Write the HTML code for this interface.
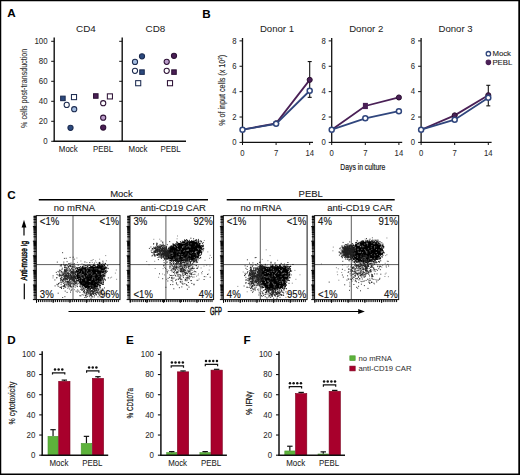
<!DOCTYPE html>
<html><head><meta charset="utf-8"><style>
html,body{margin:0;padding:0;background:#fff;width:520px;height:475px;overflow:hidden}
svg{display:block}
text{font-family:"Liberation Sans",sans-serif}
</style></head><body>
<svg width="520" height="475" viewBox="0 0 520 475">
<path d="M0 0H520V475H0ZM1.25 1.35V473.4H518.3V1.35Z" fill="#000" fill-rule="evenodd"/>
<text transform="translate(7.3 17.3) scale(1.07 1)" font-size="10.9" font-weight="bold" fill="#000" stroke="#000" stroke-width="0.05">A</text>
<text transform="translate(202.3 17.5) scale(1.07 1)" font-size="10.9" font-weight="bold" fill="#000" stroke="#000" stroke-width="0.05">B</text>
<text transform="translate(7.2 198.8) scale(1.07 1)" font-size="10.9" font-weight="bold" fill="#000" stroke="#000" stroke-width="0.05">C</text>
<text transform="translate(7.3 343.7) scale(1.07 1)" font-size="10.9" font-weight="bold" fill="#000" stroke="#000" stroke-width="0.05">D</text>
<text transform="translate(126.1 343.6) scale(1.07 1)" font-size="10.9" font-weight="bold" fill="#000" stroke="#000" stroke-width="0.05">E</text>
<text transform="translate(243.5 343.7) scale(1.07 1)" font-size="10.9" font-weight="bold" fill="#000" stroke="#000" stroke-width="0.05">F</text>
<line x1="54.2" y1="37.6" x2="54.2" y2="142" stroke="#111" stroke-width="1.4"/>
<line x1="53.5" y1="141.3" x2="186" y2="141.3" stroke="#111" stroke-width="1.4"/>
<line x1="122.2" y1="37.6" x2="122.2" y2="141.3" stroke="#111" stroke-width="1.4"/>
<line x1="51.2" y1="141.3" x2="54.2" y2="141.3" stroke="#111" stroke-width="1"/>
<line x1="119.2" y1="141.3" x2="122.2" y2="141.3" stroke="#111" stroke-width="1"/>
<text transform="translate(47.6 144.1) scale(1 1.08)" font-size="7.9" text-anchor="end" fill="#2a2a2a" stroke="#2a2a2a" stroke-width="0.05">0</text>
<line x1="51.2" y1="121.3" x2="54.2" y2="121.3" stroke="#111" stroke-width="1"/>
<line x1="119.2" y1="121.3" x2="122.2" y2="121.3" stroke="#111" stroke-width="1"/>
<text transform="translate(47.6 124.1) scale(1 1.08)" font-size="7.9" text-anchor="end" fill="#2a2a2a" stroke="#2a2a2a" stroke-width="0.05">20</text>
<line x1="51.2" y1="101.3" x2="54.2" y2="101.3" stroke="#111" stroke-width="1"/>
<line x1="119.2" y1="101.3" x2="122.2" y2="101.3" stroke="#111" stroke-width="1"/>
<text transform="translate(47.6 104.1) scale(1 1.08)" font-size="7.9" text-anchor="end" fill="#2a2a2a" stroke="#2a2a2a" stroke-width="0.05">40</text>
<line x1="51.2" y1="81.3" x2="54.2" y2="81.3" stroke="#111" stroke-width="1"/>
<line x1="119.2" y1="81.3" x2="122.2" y2="81.3" stroke="#111" stroke-width="1"/>
<text transform="translate(47.6 84.1) scale(1 1.08)" font-size="7.9" text-anchor="end" fill="#2a2a2a" stroke="#2a2a2a" stroke-width="0.05">60</text>
<line x1="51.2" y1="61.3" x2="54.2" y2="61.3" stroke="#111" stroke-width="1"/>
<line x1="119.2" y1="61.3" x2="122.2" y2="61.3" stroke="#111" stroke-width="1"/>
<text transform="translate(47.6 64.1) scale(1 1.08)" font-size="7.9" text-anchor="end" fill="#2a2a2a" stroke="#2a2a2a" stroke-width="0.05">80</text>
<line x1="51.2" y1="41.3" x2="54.2" y2="41.3" stroke="#111" stroke-width="1"/>
<line x1="119.2" y1="41.3" x2="122.2" y2="41.3" stroke="#111" stroke-width="1"/>
<text transform="translate(47.6 44.1) scale(1 1.08)" font-size="7.9" text-anchor="end" fill="#2a2a2a" stroke="#2a2a2a" stroke-width="0.05">100</text>
<text x="86" y="32.3" font-size="9.9" text-anchor="middle" fill="#222" stroke="#222" stroke-width="0.02">CD4</text>
<text x="155.5" y="32.3" font-size="9.9" text-anchor="middle" fill="#222" stroke="#222" stroke-width="0.02">CD8</text>
<text transform="translate(68.3 151.6) scale(1 1.08)" font-size="7.9" text-anchor="middle" fill="#222" stroke="#222" stroke-width="0.05">Mock</text>
<text transform="translate(103 151.6) scale(1 1.08)" font-size="7.9" text-anchor="middle" fill="#222" stroke="#222" stroke-width="0.05">PEBL</text>
<text transform="translate(138 151.6) scale(1 1.08)" font-size="7.9" text-anchor="middle" fill="#222" stroke="#222" stroke-width="0.05">Mock</text>
<text transform="translate(170.5 151.6) scale(1 1.08)" font-size="7.9" text-anchor="middle" fill="#222" stroke="#222" stroke-width="0.05">PEBL</text>
<text transform="translate(27.3 88.4) rotate(-90)" x="0" y="0" font-size="8.3" text-anchor="middle" textLength="79" lengthAdjust="spacingAndGlyphs" fill="#333" stroke="#333" stroke-width="0.1">% cells post-transduction</text>
<rect x="60.65" y="96.15" width="4.5" height="4.5" fill="#2c4a7e" stroke="#1c2b50" stroke-width="1.05"/>
<rect x="71.45" y="94.55" width="5.1" height="5.1" fill="#fff" stroke="#1c2b50" stroke-width="1.05"/>
<circle cx="66.7" cy="104.9" r="2.6" fill="#fff" stroke="#1c2b50" stroke-width="1.05"/>
<circle cx="74.2" cy="109.2" r="2.6" fill="#a3bde0" stroke="#1c2b50" stroke-width="1.05"/>
<circle cx="70.5" cy="127.8" r="2.6" fill="#2c4a7e" stroke="#1c2b50" stroke-width="1.05"/>
<rect x="93.55" y="93.75" width="4.5" height="4.5" fill="#4a1f55" stroke="#2e1236" stroke-width="1.05"/>
<rect x="107.35" y="93.85" width="5.1" height="5.1" fill="#fff" stroke="#2e1236" stroke-width="1.05"/>
<circle cx="103.2" cy="103.2" r="2.6" fill="#fff" stroke="#2e1236" stroke-width="1.05"/>
<circle cx="103.2" cy="117.7" r="2.6" fill="#b99bc9" stroke="#2e1236" stroke-width="1.05"/>
<circle cx="103.2" cy="127.5" r="2.6" fill="#4a1f55" stroke="#2e1236" stroke-width="1.05"/>
<circle cx="142" cy="56.3" r="2.6" fill="#2c4a7e" stroke="#1c2b50" stroke-width="1.05"/>
<circle cx="135" cy="61.9" r="2.6" fill="#a3bde0" stroke="#1c2b50" stroke-width="1.05"/>
<circle cx="135" cy="70.8" r="2.6" fill="#fff" stroke="#1c2b50" stroke-width="1.05"/>
<rect x="139.75" y="69.85" width="4.5" height="4.5" fill="#2c4a7e" stroke="#1c2b50" stroke-width="1.05"/>
<rect x="135.65" y="80.65" width="5.1" height="5.1" fill="#fff" stroke="#1c2b50" stroke-width="1.05"/>
<circle cx="174" cy="55.8" r="2.6" fill="#4a1f55" stroke="#2e1236" stroke-width="1.05"/>
<circle cx="166.7" cy="61.8" r="2.6" fill="#b99bc9" stroke="#2e1236" stroke-width="1.05"/>
<circle cx="166.7" cy="70.8" r="2.6" fill="#fff" stroke="#2e1236" stroke-width="1.05"/>
<rect x="171.75" y="69.85" width="4.5" height="4.5" fill="#4a1f55" stroke="#2e1236" stroke-width="1.05"/>
<rect x="167.45" y="80.65" width="5.1" height="5.1" fill="#fff" stroke="#2e1236" stroke-width="1.05"/>
<line x1="242.5" y1="38" x2="242.5" y2="143" stroke="#111" stroke-width="1.3"/>
<line x1="241.9" y1="142.4" x2="313" y2="142.4" stroke="#111" stroke-width="1.4"/>
<line x1="239.5" y1="142.4" x2="242.5" y2="142.4" stroke="#111" stroke-width="1"/>
<text transform="translate(236.5 145.2) scale(1 1.08)" font-size="7.7" text-anchor="end" fill="#2a2a2a" stroke="#2a2a2a" stroke-width="0.05">0</text>
<line x1="239.5" y1="117.02" x2="242.5" y2="117.02" stroke="#111" stroke-width="1"/>
<text transform="translate(236.5 119.82) scale(1 1.08)" font-size="7.7" text-anchor="end" fill="#2a2a2a" stroke="#2a2a2a" stroke-width="0.05">2</text>
<line x1="239.5" y1="91.64" x2="242.5" y2="91.64" stroke="#111" stroke-width="1"/>
<text transform="translate(236.5 94.44) scale(1 1.08)" font-size="7.7" text-anchor="end" fill="#2a2a2a" stroke="#2a2a2a" stroke-width="0.05">4</text>
<line x1="239.5" y1="66.26" x2="242.5" y2="66.26" stroke="#111" stroke-width="1"/>
<text transform="translate(236.5 69.06) scale(1 1.08)" font-size="7.7" text-anchor="end" fill="#2a2a2a" stroke="#2a2a2a" stroke-width="0.05">6</text>
<line x1="239.5" y1="40.88" x2="242.5" y2="40.88" stroke="#111" stroke-width="1"/>
<text transform="translate(236.5 43.68) scale(1 1.08)" font-size="7.7" text-anchor="end" fill="#2a2a2a" stroke="#2a2a2a" stroke-width="0.05">8</text>
<line x1="242.5" y1="142.4" x2="242.5" y2="145" stroke="#111" stroke-width="1"/>
<text transform="translate(242.5 156) scale(1 1.08)" font-size="7.7" text-anchor="middle" fill="#2a2a2a" stroke="#2a2a2a" stroke-width="0.05">0</text>
<line x1="276.1" y1="142.4" x2="276.1" y2="145" stroke="#111" stroke-width="1"/>
<text transform="translate(276.1 156) scale(1 1.08)" font-size="7.7" text-anchor="middle" fill="#2a2a2a" stroke="#2a2a2a" stroke-width="0.05">7</text>
<line x1="309.7" y1="142.4" x2="309.7" y2="145" stroke="#111" stroke-width="1"/>
<text transform="translate(309.7 156) scale(1 1.08)" font-size="7.7" text-anchor="middle" fill="#2a2a2a" stroke="#2a2a2a" stroke-width="0.05">14</text>
<text x="277" y="32.4" font-size="9.6" text-anchor="middle" fill="#222" stroke="#222" stroke-width="0.02">Donor 1</text>
<line x1="309.7" y1="97.35" x2="309.7" y2="61.56" stroke="#111" stroke-width="1.1"/>
<line x1="307.7" y1="97.35" x2="311.7" y2="97.35" stroke="#111" stroke-width="1.1"/>
<line x1="307.7" y1="61.56" x2="311.7" y2="61.56" stroke="#111" stroke-width="1.1"/>
<polyline points="242.5,129.71 276.1,123.37 309.7,79.84" fill="none" stroke="#4a2056" stroke-width="1.8"/>
<polyline points="242.5,129.71 276.1,123.87 309.7,90.75" fill="none" stroke="#30467d" stroke-width="1.8"/>
<circle cx="276.1" cy="123.37" r="2.55" fill="#4a2056" stroke="#2a0f30" stroke-width="1"/>
<circle cx="309.7" cy="79.84" r="2.55" fill="#4a2056" stroke="#2a0f30" stroke-width="1"/>
<circle cx="242.5" cy="129.71" r="2.5" fill="#fff" stroke="#30467d" stroke-width="1.5"/>
<circle cx="276.1" cy="123.87" r="2.5" fill="#fff" stroke="#30467d" stroke-width="1.5"/>
<circle cx="309.7" cy="90.75" r="2.5" fill="#fff" stroke="#30467d" stroke-width="1.5"/>
<line x1="331.7" y1="38" x2="331.7" y2="143" stroke="#111" stroke-width="1.3"/>
<line x1="331.1" y1="142.4" x2="402.2" y2="142.4" stroke="#111" stroke-width="1.4"/>
<line x1="328.7" y1="142.4" x2="331.7" y2="142.4" stroke="#111" stroke-width="1"/>
<text transform="translate(325.7 145.2) scale(1 1.08)" font-size="7.7" text-anchor="end" fill="#2a2a2a" stroke="#2a2a2a" stroke-width="0.05">0</text>
<line x1="328.7" y1="117.02" x2="331.7" y2="117.02" stroke="#111" stroke-width="1"/>
<text transform="translate(325.7 119.82) scale(1 1.08)" font-size="7.7" text-anchor="end" fill="#2a2a2a" stroke="#2a2a2a" stroke-width="0.05">2</text>
<line x1="328.7" y1="91.64" x2="331.7" y2="91.64" stroke="#111" stroke-width="1"/>
<text transform="translate(325.7 94.44) scale(1 1.08)" font-size="7.7" text-anchor="end" fill="#2a2a2a" stroke="#2a2a2a" stroke-width="0.05">4</text>
<line x1="328.7" y1="66.26" x2="331.7" y2="66.26" stroke="#111" stroke-width="1"/>
<text transform="translate(325.7 69.06) scale(1 1.08)" font-size="7.7" text-anchor="end" fill="#2a2a2a" stroke="#2a2a2a" stroke-width="0.05">6</text>
<line x1="328.7" y1="40.88" x2="331.7" y2="40.88" stroke="#111" stroke-width="1"/>
<text transform="translate(325.7 43.68) scale(1 1.08)" font-size="7.7" text-anchor="end" fill="#2a2a2a" stroke="#2a2a2a" stroke-width="0.05">8</text>
<line x1="331.7" y1="142.4" x2="331.7" y2="145" stroke="#111" stroke-width="1"/>
<text transform="translate(331.7 156) scale(1 1.08)" font-size="7.7" text-anchor="middle" fill="#2a2a2a" stroke="#2a2a2a" stroke-width="0.05">0</text>
<line x1="365.3" y1="142.4" x2="365.3" y2="145" stroke="#111" stroke-width="1"/>
<text transform="translate(365.3 156) scale(1 1.08)" font-size="7.7" text-anchor="middle" fill="#2a2a2a" stroke="#2a2a2a" stroke-width="0.05">7</text>
<line x1="398.9" y1="142.4" x2="398.9" y2="145" stroke="#111" stroke-width="1"/>
<text transform="translate(398.9 156) scale(1 1.08)" font-size="7.7" text-anchor="middle" fill="#2a2a2a" stroke="#2a2a2a" stroke-width="0.05">14</text>
<text x="366.2" y="32.4" font-size="9.6" text-anchor="middle" fill="#222" stroke="#222" stroke-width="0.02">Donor 2</text>
<polyline points="331.7,129.71 365.3,105.98 398.9,97.48" fill="none" stroke="#4a2056" stroke-width="1.8"/>
<polyline points="331.7,129.71 365.3,118.29 398.9,111.18" fill="none" stroke="#30467d" stroke-width="1.8"/>
<rect x="362.9" y="102.88" width="5" height="6.2" fill="#4a2056"/>
<circle cx="398.9" cy="97.48" r="2.55" fill="#4a2056" stroke="#2a0f30" stroke-width="1"/>
<circle cx="331.7" cy="129.71" r="2.5" fill="#fff" stroke="#30467d" stroke-width="1.5"/>
<circle cx="365.3" cy="118.29" r="2.5" fill="#fff" stroke="#30467d" stroke-width="1.5"/>
<circle cx="398.9" cy="111.18" r="2.5" fill="#fff" stroke="#30467d" stroke-width="1.5"/>
<line x1="421.1" y1="38" x2="421.1" y2="143" stroke="#111" stroke-width="1.3"/>
<line x1="420.5" y1="142.4" x2="491.6" y2="142.4" stroke="#111" stroke-width="1.4"/>
<line x1="418.1" y1="142.4" x2="421.1" y2="142.4" stroke="#111" stroke-width="1"/>
<text transform="translate(415.1 145.2) scale(1 1.08)" font-size="7.7" text-anchor="end" fill="#2a2a2a" stroke="#2a2a2a" stroke-width="0.05">0</text>
<line x1="418.1" y1="117.02" x2="421.1" y2="117.02" stroke="#111" stroke-width="1"/>
<text transform="translate(415.1 119.82) scale(1 1.08)" font-size="7.7" text-anchor="end" fill="#2a2a2a" stroke="#2a2a2a" stroke-width="0.05">2</text>
<line x1="418.1" y1="91.64" x2="421.1" y2="91.64" stroke="#111" stroke-width="1"/>
<text transform="translate(415.1 94.44) scale(1 1.08)" font-size="7.7" text-anchor="end" fill="#2a2a2a" stroke="#2a2a2a" stroke-width="0.05">4</text>
<line x1="418.1" y1="66.26" x2="421.1" y2="66.26" stroke="#111" stroke-width="1"/>
<text transform="translate(415.1 69.06) scale(1 1.08)" font-size="7.7" text-anchor="end" fill="#2a2a2a" stroke="#2a2a2a" stroke-width="0.05">6</text>
<line x1="418.1" y1="40.88" x2="421.1" y2="40.88" stroke="#111" stroke-width="1"/>
<text transform="translate(415.1 43.68) scale(1 1.08)" font-size="7.7" text-anchor="end" fill="#2a2a2a" stroke="#2a2a2a" stroke-width="0.05">8</text>
<line x1="421.1" y1="142.4" x2="421.1" y2="145" stroke="#111" stroke-width="1"/>
<text transform="translate(421.1 156) scale(1 1.08)" font-size="7.7" text-anchor="middle" fill="#2a2a2a" stroke="#2a2a2a" stroke-width="0.05">0</text>
<line x1="454.7" y1="142.4" x2="454.7" y2="145" stroke="#111" stroke-width="1"/>
<text transform="translate(454.7 156) scale(1 1.08)" font-size="7.7" text-anchor="middle" fill="#2a2a2a" stroke="#2a2a2a" stroke-width="0.05">7</text>
<line x1="488.3" y1="142.4" x2="488.3" y2="145" stroke="#111" stroke-width="1"/>
<text transform="translate(488.3 156) scale(1 1.08)" font-size="7.7" text-anchor="middle" fill="#2a2a2a" stroke="#2a2a2a" stroke-width="0.05">14</text>
<text x="455.6" y="32.4" font-size="9.6" text-anchor="middle" fill="#222" stroke="#222" stroke-width="0.02">Donor 3</text>
<line x1="488.3" y1="105.85" x2="488.3" y2="85.3" stroke="#111" stroke-width="1.1"/>
<line x1="486.3" y1="105.85" x2="490.3" y2="105.85" stroke="#111" stroke-width="1.1"/>
<line x1="486.3" y1="85.3" x2="490.3" y2="85.3" stroke="#111" stroke-width="1.1"/>
<polyline points="421.1,129.71 454.7,115.37 488.3,95.19" fill="none" stroke="#4a2056" stroke-width="1.8"/>
<polyline points="421.1,129.71 454.7,119.68 488.3,97.73" fill="none" stroke="#30467d" stroke-width="1.8"/>
<circle cx="454.7" cy="115.37" r="2.55" fill="#4a2056" stroke="#2a0f30" stroke-width="1"/>
<circle cx="488.3" cy="95.19" r="2.55" fill="#4a2056" stroke="#2a0f30" stroke-width="1"/>
<circle cx="421.1" cy="129.71" r="2.5" fill="#fff" stroke="#30467d" stroke-width="1.5"/>
<circle cx="454.7" cy="119.68" r="2.5" fill="#fff" stroke="#30467d" stroke-width="1.5"/>
<circle cx="488.3" cy="97.73" r="2.5" fill="#fff" stroke="#30467d" stroke-width="1.5"/>
<text transform="translate(225.2 90.3) rotate(-90)" x="0" y="0" font-size="8.8" text-anchor="middle" textLength="71" lengthAdjust="spacingAndGlyphs" fill="#2a2a2a" stroke="#2a2a2a" stroke-width="0.15">% of input cells (x 10<tspan font-size="5.6" dy="-3">2</tspan><tspan dy="3">)</tspan></text>
<text x="362.8" y="169.5" font-size="9.3" text-anchor="middle" textLength="45" lengthAdjust="spacingAndGlyphs" fill="#1a1a1a" stroke="#1a1a1a" stroke-width="0.22">Days in culture</text>
<circle cx="488.4" cy="53.7" r="2.2" fill="#fff" stroke="#30467d" stroke-width="1.3"/>
<text x="492.4" y="56.4" font-size="7.8" fill="#222" stroke="#222" stroke-width="0.1">Mock</text>
<circle cx="488.4" cy="62.3" r="2.3" fill="#4a2056" stroke="#4a2056" stroke-width="1.05"/>
<text x="492.4" y="65" font-size="7.8" fill="#222" stroke="#222" stroke-width="0.1">PEBL</text>
<text x="121.5" y="196.8" font-size="9.5" text-anchor="middle" fill="#1a1a1a" stroke="#1a1a1a" stroke-width="0.1">Mock</text>
<text x="310.7" y="196.8" font-size="9.5" text-anchor="middle" fill="#1a1a1a" stroke="#1a1a1a" stroke-width="0.1">PEBL</text>
<line x1="38.8" y1="199.75" x2="208" y2="199.75" stroke="#000" stroke-width="1.3"/>
<line x1="226.7" y1="199.75" x2="394.7" y2="199.75" stroke="#000" stroke-width="1.3"/>
<text x="74.4" y="211.3" font-size="9.5" text-anchor="middle" fill="#1a1a1a" stroke="#1a1a1a" stroke-width="0.1">no mRNA</text>
<rect x="33.7" y="215.6" width="2.6" height="84" fill="#6a6a6a"/>
<path d="M32.9 299.6h3.4M33.5 295.2h2.8M33.5 292.63h2.8M33.5 290.81h2.8M33.5 289.4h2.8M33.5 288.24h2.8M33.5 287.26h2.8M33.5 286.41h2.8M33.5 285.67h2.8M32.9 285h3.4M33.5 280.6h2.8M33.5 278.03h2.8M33.5 276.21h2.8M33.5 274.8h2.8M33.5 273.64h2.8M33.5 272.66h2.8M33.5 271.81h2.8M33.5 271.07h2.8M32.9 270.4h3.4M33.5 266h2.8M33.5 263.43h2.8M33.5 261.61h2.8M33.5 260.2h2.8M33.5 259.04h2.8M33.5 258.06h2.8M33.5 257.21h2.8M33.5 256.47h2.8M32.9 255.8h3.4M33.5 251.4h2.8M33.5 248.83h2.8M33.5 247.01h2.8M33.5 245.6h2.8M33.5 244.44h2.8M33.5 243.46h2.8M33.5 242.61h2.8M33.5 241.87h2.8M32.9 241.2h3.4M33.5 236.8h2.8M33.5 234.23h2.8M33.5 232.41h2.8M33.5 231h2.8M33.5 229.84h2.8M33.5 228.86h2.8M33.5 228.01h2.8M33.5 227.27h2.8M32.9 226.6h3.4M33.5 222.2h2.8M33.5 219.63h2.8M33.5 217.81h2.8M33.5 216.4h2.8M36.6 299.6v2.5M38.5 299.6v2.5M40.4 299.6v2.5M42.3 299.6v2.5M44.2 299.6v2.5M46.1 299.6v2.5M48 299.6v2.5M49.9 299.6v2.5M51.8 299.6v2.5M53.7 299.6v2.5M55.6 299.6v2.5M57.5 299.6v2.5M59.4 299.6v2.5M61.3 299.6v2.5M63.2 299.6v2.5M65.1 299.6v2.5M67 299.6v2.5M68.9 299.6v2.5M70.8 299.6v2.5M72.7 299.6v2.5M74.6 299.6v2.5M76.5 299.6v2.5M78.4 299.6v2.5M80.3 299.6v2.5M82.2 299.6v2.5M84.1 299.6v2.5M86 299.6v2.5M87.9 299.6v2.5M89.8 299.6v2.5M91.7 299.6v2.5M93.6 299.6v2.5M95.5 299.6v2.5M97.4 299.6v2.5M99.3 299.6v2.5M101.2 299.6v2.5M103.1 299.6v2.5M105 299.6v2.5M106.9 299.6v2.5M108.8 299.6v2.5M110.7 299.6v2.5M112.6 299.6v2.5M114.5 299.6v2.5M116.4 299.6v2.5M118.3 299.6v2.5M36.5 299.6v3.2M53.2 299.6v3.2M69.9 299.6v3.2M86.6 299.6v3.2M103.3 299.6v3.2" stroke="#000" stroke-width="1" fill="none"/>
<line x1="73" y1="215.6" x2="73" y2="299.6" stroke="#333" stroke-width="0.8"/>
<line x1="36.3" y1="264.6" x2="120" y2="264.6" stroke="#333" stroke-width="0.8"/>
<rect x="36.3" y="215.6" width="83.7" height="84" fill="none" stroke="#111" stroke-width="1"/>
<text x="173.2" y="211.3" font-size="9.5" text-anchor="middle" fill="#1a1a1a" stroke="#1a1a1a" stroke-width="0.1">anti-CD19 CAR</text>
<rect x="127.4" y="215.6" width="2.6" height="84" fill="#6a6a6a"/>
<path d="M126.6 299.6h3.4M127.2 295.2h2.8M127.2 292.63h2.8M127.2 290.81h2.8M127.2 289.4h2.8M127.2 288.24h2.8M127.2 287.26h2.8M127.2 286.41h2.8M127.2 285.67h2.8M126.6 285h3.4M127.2 280.6h2.8M127.2 278.03h2.8M127.2 276.21h2.8M127.2 274.8h2.8M127.2 273.64h2.8M127.2 272.66h2.8M127.2 271.81h2.8M127.2 271.07h2.8M126.6 270.4h3.4M127.2 266h2.8M127.2 263.43h2.8M127.2 261.61h2.8M127.2 260.2h2.8M127.2 259.04h2.8M127.2 258.06h2.8M127.2 257.21h2.8M127.2 256.47h2.8M126.6 255.8h3.4M127.2 251.4h2.8M127.2 248.83h2.8M127.2 247.01h2.8M127.2 245.6h2.8M127.2 244.44h2.8M127.2 243.46h2.8M127.2 242.61h2.8M127.2 241.87h2.8M126.6 241.2h3.4M127.2 236.8h2.8M127.2 234.23h2.8M127.2 232.41h2.8M127.2 231h2.8M127.2 229.84h2.8M127.2 228.86h2.8M127.2 228.01h2.8M127.2 227.27h2.8M126.6 226.6h3.4M127.2 222.2h2.8M127.2 219.63h2.8M127.2 217.81h2.8M127.2 216.4h2.8M130.3 299.6v2.5M132.2 299.6v2.5M134.1 299.6v2.5M136 299.6v2.5M137.9 299.6v2.5M139.8 299.6v2.5M141.7 299.6v2.5M143.6 299.6v2.5M145.5 299.6v2.5M147.4 299.6v2.5M149.3 299.6v2.5M151.2 299.6v2.5M153.1 299.6v2.5M155 299.6v2.5M156.9 299.6v2.5M158.8 299.6v2.5M160.7 299.6v2.5M162.6 299.6v2.5M164.5 299.6v2.5M166.4 299.6v2.5M168.3 299.6v2.5M170.2 299.6v2.5M172.1 299.6v2.5M174 299.6v2.5M175.9 299.6v2.5M177.8 299.6v2.5M179.7 299.6v2.5M181.6 299.6v2.5M183.5 299.6v2.5M185.4 299.6v2.5M187.3 299.6v2.5M189.2 299.6v2.5M191.1 299.6v2.5M193 299.6v2.5M194.9 299.6v2.5M196.8 299.6v2.5M198.7 299.6v2.5M200.6 299.6v2.5M202.5 299.6v2.5M204.4 299.6v2.5M206.3 299.6v2.5M208.2 299.6v2.5M210.1 299.6v2.5M212 299.6v2.5M130.2 299.6v3.2M146.9 299.6v3.2M163.6 299.6v3.2M180.3 299.6v3.2M197 299.6v3.2" stroke="#000" stroke-width="1" fill="none"/>
<line x1="165.9" y1="215.6" x2="165.9" y2="299.6" stroke="#333" stroke-width="0.8"/>
<line x1="130" y1="264.6" x2="213.6" y2="264.6" stroke="#333" stroke-width="0.8"/>
<rect x="130" y="215.6" width="83.6" height="84" fill="none" stroke="#111" stroke-width="1"/>
<text x="261" y="211.3" font-size="9.5" text-anchor="middle" fill="#1a1a1a" stroke="#1a1a1a" stroke-width="0.1">no mRNA</text>
<rect x="220.7" y="215.6" width="2.6" height="84" fill="#6a6a6a"/>
<path d="M219.9 299.6h3.4M220.5 295.2h2.8M220.5 292.63h2.8M220.5 290.81h2.8M220.5 289.4h2.8M220.5 288.24h2.8M220.5 287.26h2.8M220.5 286.41h2.8M220.5 285.67h2.8M219.9 285h3.4M220.5 280.6h2.8M220.5 278.03h2.8M220.5 276.21h2.8M220.5 274.8h2.8M220.5 273.64h2.8M220.5 272.66h2.8M220.5 271.81h2.8M220.5 271.07h2.8M219.9 270.4h3.4M220.5 266h2.8M220.5 263.43h2.8M220.5 261.61h2.8M220.5 260.2h2.8M220.5 259.04h2.8M220.5 258.06h2.8M220.5 257.21h2.8M220.5 256.47h2.8M219.9 255.8h3.4M220.5 251.4h2.8M220.5 248.83h2.8M220.5 247.01h2.8M220.5 245.6h2.8M220.5 244.44h2.8M220.5 243.46h2.8M220.5 242.61h2.8M220.5 241.87h2.8M219.9 241.2h3.4M220.5 236.8h2.8M220.5 234.23h2.8M220.5 232.41h2.8M220.5 231h2.8M220.5 229.84h2.8M220.5 228.86h2.8M220.5 228.01h2.8M220.5 227.27h2.8M219.9 226.6h3.4M220.5 222.2h2.8M220.5 219.63h2.8M220.5 217.81h2.8M220.5 216.4h2.8M223.6 299.6v2.5M225.5 299.6v2.5M227.4 299.6v2.5M229.3 299.6v2.5M231.2 299.6v2.5M233.1 299.6v2.5M235 299.6v2.5M236.9 299.6v2.5M238.8 299.6v2.5M240.7 299.6v2.5M242.6 299.6v2.5M244.5 299.6v2.5M246.4 299.6v2.5M248.3 299.6v2.5M250.2 299.6v2.5M252.1 299.6v2.5M254 299.6v2.5M255.9 299.6v2.5M257.8 299.6v2.5M259.7 299.6v2.5M261.6 299.6v2.5M263.5 299.6v2.5M265.4 299.6v2.5M267.3 299.6v2.5M269.2 299.6v2.5M271.1 299.6v2.5M273 299.6v2.5M274.9 299.6v2.5M276.8 299.6v2.5M278.7 299.6v2.5M280.6 299.6v2.5M282.5 299.6v2.5M284.4 299.6v2.5M286.3 299.6v2.5M288.2 299.6v2.5M290.1 299.6v2.5M292 299.6v2.5M293.9 299.6v2.5M295.8 299.6v2.5M297.7 299.6v2.5M299.6 299.6v2.5M301.5 299.6v2.5M303.4 299.6v2.5M305.3 299.6v2.5M223.5 299.6v3.2M240.2 299.6v3.2M256.9 299.6v3.2M273.6 299.6v3.2M290.3 299.6v3.2" stroke="#000" stroke-width="1" fill="none"/>
<line x1="260.3" y1="215.6" x2="260.3" y2="299.6" stroke="#333" stroke-width="0.8"/>
<line x1="223.3" y1="264.6" x2="307.1" y2="264.6" stroke="#333" stroke-width="0.8"/>
<rect x="223.3" y="215.6" width="83.8" height="84" fill="none" stroke="#111" stroke-width="1"/>
<text x="359.9" y="211.3" font-size="9.5" text-anchor="middle" fill="#1a1a1a" stroke="#1a1a1a" stroke-width="0.1">anti-CD19 CAR</text>
<rect x="312" y="215.6" width="2.6" height="84" fill="#6a6a6a"/>
<path d="M311.2 299.6h3.4M311.8 295.2h2.8M311.8 292.63h2.8M311.8 290.81h2.8M311.8 289.4h2.8M311.8 288.24h2.8M311.8 287.26h2.8M311.8 286.41h2.8M311.8 285.67h2.8M311.2 285h3.4M311.8 280.6h2.8M311.8 278.03h2.8M311.8 276.21h2.8M311.8 274.8h2.8M311.8 273.64h2.8M311.8 272.66h2.8M311.8 271.81h2.8M311.8 271.07h2.8M311.2 270.4h3.4M311.8 266h2.8M311.8 263.43h2.8M311.8 261.61h2.8M311.8 260.2h2.8M311.8 259.04h2.8M311.8 258.06h2.8M311.8 257.21h2.8M311.8 256.47h2.8M311.2 255.8h3.4M311.8 251.4h2.8M311.8 248.83h2.8M311.8 247.01h2.8M311.8 245.6h2.8M311.8 244.44h2.8M311.8 243.46h2.8M311.8 242.61h2.8M311.8 241.87h2.8M311.2 241.2h3.4M311.8 236.8h2.8M311.8 234.23h2.8M311.8 232.41h2.8M311.8 231h2.8M311.8 229.84h2.8M311.8 228.86h2.8M311.8 228.01h2.8M311.8 227.27h2.8M311.2 226.6h3.4M311.8 222.2h2.8M311.8 219.63h2.8M311.8 217.81h2.8M311.8 216.4h2.8M314.9 299.6v2.5M316.8 299.6v2.5M318.7 299.6v2.5M320.6 299.6v2.5M322.5 299.6v2.5M324.4 299.6v2.5M326.3 299.6v2.5M328.2 299.6v2.5M330.1 299.6v2.5M332 299.6v2.5M333.9 299.6v2.5M335.8 299.6v2.5M337.7 299.6v2.5M339.6 299.6v2.5M341.5 299.6v2.5M343.4 299.6v2.5M345.3 299.6v2.5M347.2 299.6v2.5M349.1 299.6v2.5M351 299.6v2.5M352.9 299.6v2.5M354.8 299.6v2.5M356.7 299.6v2.5M358.6 299.6v2.5M360.5 299.6v2.5M362.4 299.6v2.5M364.3 299.6v2.5M366.2 299.6v2.5M368.1 299.6v2.5M370 299.6v2.5M371.9 299.6v2.5M373.8 299.6v2.5M375.7 299.6v2.5M377.6 299.6v2.5M379.5 299.6v2.5M381.4 299.6v2.5M383.3 299.6v2.5M385.2 299.6v2.5M387.1 299.6v2.5M389 299.6v2.5M390.9 299.6v2.5M392.8 299.6v2.5M394.7 299.6v2.5M396.6 299.6v2.5M314.8 299.6v3.2M331.5 299.6v3.2M348.2 299.6v3.2M364.9 299.6v3.2M381.6 299.6v3.2" stroke="#000" stroke-width="1" fill="none"/>
<line x1="351.3" y1="215.6" x2="351.3" y2="299.6" stroke="#333" stroke-width="0.8"/>
<line x1="314.6" y1="264.6" x2="398.7" y2="264.6" stroke="#333" stroke-width="0.8"/>
<rect x="314.6" y="215.6" width="84.1" height="84" fill="none" stroke="#111" stroke-width="1"/>
<path d="M76.5 269.5L88 267.5L104.5 265.8L104 272L101 281L97 287.5L87 288.5L80.5 284L77 277Z" fill="#000"/>
<path d="M95.3 285.5h1m2.5-17h1m-15.2 19.4h1m22.2-10h1m-23.7-8.1h1m-0.2 2.3h1m1.9 7h1m-10-6.4h1m-1 3.4h1m7.4 7.5h1m1.7-5.3h1m-0.2-6.2h1m-15.4-3.3h1m18.3-1.8h1m2.1 5.5h1m-13.9 12.2h1m2.1 3.3h1m7.4-8.8h1m-21.3-0.7h1m14.3 5.1h1m-6.4-5h1m-5.6-3.2h1m0.8-7h1m15.5 7.4h1m-11.6 4.9h1m0.4-13.2h1m-7.5 0.7h1m-0.7-2.5h1m17.5 6.6h1m-11-2.3h1m7 6.3h1m-15.6-5.7h1m4.2 1.4h1m-2.4-0.5h1m-6.1 0.9h1m0 4.2h1m-6.5 3.6h1m-4.3-5h1m5.8 0h1m12.8-0.5h1m-10.3 6.1h1m-9.7-6.1h1m17.4-3.9h1m-15.4 11.7h1m13.8-6h1m-5.9-4.5h1m-14.1 4.4h1m-0.2-4.1h1m1.5-0.6h1m1.3 12.2h1m10.3-8.5h1m-9.8 10.9h1m-3.9 1.5h1m-9.2-9.7h1m9.7 8.7h1m-8.2 1.4h1m13.5-8.3h1m-13.4-6.7h1m14-4.5h1m-2.6 3.9h1m-4.1 9h1m-8.4-2h1m4.2-9.6h1m-13.7 1.7h1m19.3 11.7h1m-1.5-14.2h1m2.5 9.6h1m-0.2-11.9h1m-23.8 5.9h1m0.5 10.4h1m-7.6-2.5h1m1.8-10.7h1m18.2 15.3h1m-2.9-17.2h1m5.8 1.4h1m-16.9 4.3h1m-8.5 4.2h1m16.5-3.5h1m-18.2 12.7h1m19-22.3h1m-9.6 15.9h1m1.5-12.7h1m-2.2 15.3h1m-10 0.3h1m8.9-15.7h1m0.3 13.7h1m-11.1-9.3h1m2.2 9.9h1m-10.3-8.9h1m4.8 6.9h1m13.5-8.4h1m-15.2 7.5h1m-2.5-8h1m-0.6 6.2h1m3.8-5.8h1m11.4-1.8h1m-16.9 13.2h1m5.6-9.2h1m-2.7 14.5h1m-4.2-4.5h1m11.8 3.2h1m-0.3-13.5h1m-22.8 3.7h1m10.2-10.4h1m-7 12.3h1m11.2 9.3h1m-14.4-19.5h1m18.2 15.2h1m-3.7-11.7h1m-2.6-3h1m-1.8 13.6h1m-2.4-4.9h1m-7.7-0.3h1m3.2-5.2h1m-2.5 11.3h1m-6.2 7h1m14.4-17.8h1m-19.8 11.4h1m12.5-0.7h1m5.8-13.6h1m-22.8-1.3h1m11.1 8.7h1m4.7-14.5h1m-0.1 5.7h1m-3.6-1.3h1m-11.2 6.5h1m8.1 2h1m-10.1-2.8h1m-4.8-1.3h1m-6.3 0.6h1m1.6-3.8h1m18.5 10.2h1m-18.6 1.3h1m2.2-1.7h1m-2.2-0.5h1m9-1h1m-9.1 6.6h1m11.3-16.7h1m-14.7 9.7h1m4.2 9.5h1m-13.7-13.3h1m14.7-7.5h1m-9.2 9.3h1m15.8 4.1h1m-9 8.4h1m0.3-6.3h1m-10.5-13.7h1m11.1-2.6h1m-14.2 20.9h1m-3.7-6.2h1m7.7 8.2h1m-8.6-8.1h1m6.8 4.3h1m-4-3.7h1m9.3-9.1h1m-1-0.6h1m-3.3 12.4h1m-12.4-5.9h1m10.4 0.3h1m3.5-10.1h1m-6.6 11.4h1m5.1-10.7h1m-14 15h1m5.1-15.2h1m-0.5 4.5h1m-14.1 6h1m14.6 5.1h1m-8.1 1.1h1m-0.4-6.2h1m7 1.9h1m-3.4-6.6h1m-4 4.8h1m4-7.3h1m-9.2 14.4h1m-0.9-9.4h1m10-0.5h1m-13.5 5.5h1m-12.6-6.1h1m23.9 5.1h1m-11.3 1.2h1m3.9-5.6h1m-10.8-7.3h1m-3.3 3.7h1m0.5 2.2h1m1.6 5.5h1m-5.9-7.7h1m14.3 8.9h1m-5.1-14.2h1m5.3 5.9h1m-11.7 1.2h1m-2.5 12.8h1m12.4-12.1h1m-1.4 3.3h1m-13.7-1.4h1m-6.1-2.4h1m10.1 14.5h1m4.6-13h1m-17.8 7h1m4.7-0.8h1m-4.2-1.7h1m1.1-0.8h1m-6.9-6.1h1m8 11.8h1m1.5-15.2h1m-12.5 2.4h1m14.2 5.6h1m-8.9 7.4h1m7.4-10.1h1m-17.7-0.8h1m6.3-4.5h1m-0.8 11h1m-5.8-8.8h1m-5.5-1h1m26.4-5.1h1m-23.5 7.4h1m2.5-4.2h1m-4.9 13h1m-5.8-2.9h1m9.3-4.7h1m8.2-5.8h1m-7.7 1.7h1m-3.3 7.8h1m8.4-10.4h1m-19.3 8.2h1m9.7 5.6h1m0.3-1.5h1m-8-1.9h1m11.9-1.6h1m-16.8-5h1m-1.8 5.2h1m20.2-7.6h1m-1.2 6.1h1m-20.2-8h1m13.9 15h1m-18.3-10h1m15.4 2.8h1m-5.4-10.9h1m2.5 2.7h1m-5.2 16.3h1m-14.6-13h1m22.3 10.8h1m-14.2-2.9h1m0.1 5.4h1m-5.7 1.2h1m3.8-4.4h1m-7.2-1.1h1m8.9-6.5h1m-2.2-1.8h1m3.9-1.4h1m-10.8 16.1h1m-0.8-14.6h1m-5.1 3h1m5.6-3.6h1m9.5 20.4h1m-19.3-12h1m9-12.8h1m-3.6 18.4h1m-14.9-5.4h1m5.6 3.1h1m-10.2-5h1m27.4 2.3h1m-13.7 10.8h1m-0.6-18.5h1m-10.5 5.2h1m13.8-4.7h1m-6.7 8.4h1m3.1 6h1m-6.1-12.3h1m6.2 2h1m-17 3.6h1m20.4-11.7h1m-13.2 15.2h1m-7.1-11h1m5.3 6.6h1m6.9 0.8h1m5.6-11.2h1m-23.3 0.8h1m-5.1 6.9h1m6.9 1.3h1m14.1-11.6h1m-20.7 14.1h1m10 2.7h1m-5.8-11.7h1m10.1-2.6h1m0.2 8.3h1m0.1-3.4h1m-9.5 7.7h1m-0.3-11.6h1m-15.1 2.4h1m-3.6 0.1h1m3.2 5.8h1m7.1-5.3h1m-2.8 6.7h1m-3.5-5.9h1m12.9 4.9h1m-17.5 4.9h1m1-18.1h1m5.8 14.8h1m10.4-12.1h1m0.9 8.2h1m-12.5-9h1m8.1 0.6h1m-23.2 3.7h1m24.1-5.5h1m-29.6 11.4h1m12.1 3.6h1m8.7 0h1m0.1-4.9h1m-6.6 10.2h1m9.3-9.9h1m-4.3-0.5h1m-14.3 6.5h1m2.5-3.7h1m-2.1-3h1m7.2 8.6h1m-6.1 0.7h1m-9-13.1h1m-0.2 1.7h1m12.8 4h1m-15.4 3.6h1m9.8 1.4h1m-12.1-4.4h1m-6.7 1h1m16.3-4.3h1m-13.3 8.6h1m6.3-13.8h1m7.9-3.9h1m4.2 5.7h1m-23.2-2.6h1m19.7-2.7h1m-11.6 16.4h1m-1.3-9.8h1m-16.2-4.5h1m7.3 2.8h1m-8.5-1.2h1m-3.6 2.5h1m14.5-5.9h1m-3.2 10.3h1m1.5-1.1h1m1.7-9.7h1m-12.4 12.6h1m11.5-6.1h1m-5.6 9.5h1m8.7-5.8h1m-22.2 10.8h1m8.7-14.2h1m-2.1-1h1m9.9 6.2h1m-13.6-5.4h1m-10.3 3.3h1m13-0.4h1m-12.7-3.7h1m8.5 15.3h1m0.5-3h1m-0.2-14.8h1m1.9 4.1h1m-3.7 13.5h1m-6.5-5.6h1m-9.9-5.6h1m5.9-2h1m-0.8 7.5h1m4.6 6.3h1m-1.6-3.7h1m-6.9-5h1m2.1 3.1h1m14.5-11.8h1m-3.7 11.8h1m-12.4-10h1m-11.8-3.1h1m12.1 0.3h1m6.1 23.3h1m0.8-22.6h1m1.2 3.3h1m-7.4 3.7h1m-12.2 2.5h1m-4.1-8.5h1m21.1-2.1h1m-27.6 7.4h1m6.6-1.5h1m5.7-0.2h1m-0.8-6.1h1m2 0.6h1m-2.7 10.3h1m10-6.8h1m-8.1 0h1m6.2 1.3h1m-10.6 11.4h1m-0.9-13.8h1m-17.4 3.1h1m24.4-12.7h1m-21.2 6.5h1m-1.9 5.4h1m6.7 0.6h1m10 5.1h1m-23.3 1.3h1m12.2-5.6h1m7.1-0.7h1m-7.3-6.8h1m-0.2 17.7h1m-1.3-15.6h1m-6.7 4.8h1m10.5-8.4h1m-4 18.3h1m-6.4-1.2h1m-2-7.4h1m-4.9 11.3h1m0.3-5.9h1m3.1 1.4h1m8.7-14.4h1m-26.6 11.1h1m-1-0.2h1m3.5-5.3h1m4.7 6h1m-1.5 4.3h1m17.5-17.1h1m-1.5 16h1m-16.5 5h1m-5.9 1h1m16.5-12.4h1m-19.8-5.2h1m1.4 11.4h1m8.8 1.9h1m-15.6-3.6h1m21.8-16.4h1m-1.5 16.8h1m-4.2-13.9h1m1.8 6.2h1m-16.6-5.8h1m6.7 13.5h1m8.1-15h1m-14.2 7.6h1m7.6 5.3h1m-8.2 3.6h1m3.6-8.3h1m-16.2-0.4h1m20.4 6.7h1m-24.9-2.1h1m11-1.5h1m3.6 15h1m-5.2-16.9h1m5.3 9.5h1m-3.6-6.7h1m5.8 0.2h1m2.5-5h1m-20.7 13.2h1m10.7-8.9h1m6.4-8.4h1m-15.6 3h1m5.1 0.2h1m-7.6 5.5h1m-6.9 0.8h1m-7.1 0.3h1m26.5-2.8h1m-22.9 3.8h1m-0.1 10.5h1m-4-22.2h1m7.5 20.9h1m-2.8 3.7h1m8.8-24.7h1m2.1 13.8h1m-11.1-13.7h1m7.1-1.4h1m-9.8 19.5h1m1-9.3h1m9.3-1h1m-17.5-4.1h1m15.9 7.8h1m-4.6 4.8h1m-8.1-2.5h1m4-0.1h1m-16.7-11.6h1m16.8 3.3h1m6.8-3h1m-17.2 6.8h1m4.7 9.2h1m1.2-14h1m2.9-6.8h1m-2 3.2h1m-11.1 4.4h1m4.9 1.3h1m-2.5-1.8h1m-5.8-0.3h1m1.4-1h1m-7.8-2.9h1m-0.1 3.9h1m-1.1 9h1m14.4-8.2h1m-7.9 5.3h1m1.5 11.5h1m-1.3-4.3h1m-0.9 0.8h1m-11.4-4.2h1m2.4-4.8h1m4.9-7.8h1m3 11.8h1m-17.1-5h1m9.3-0.1h1m-4.7-5.1h1m8.8 8.8h1m-2.2-7.2h1m-22.8 3.6h1m16.6 5.8h1m6.5-15.1h1m-3 3.9h1m-4.3 1.8h1m-12.7 0.2h1m6.1 12h1m2.1-3h1m-10.6 2.3h1m-1.6-2.9h1m4.1-4.9h1m-5.7-1.9h1m16 0.2h1m-23.5 4.2h1m0.6-5.9h1m8.5-6.1h1m-9.4 3.6h1m2.5 13.2h1m-3.6-8.6h1m4.9-7.7h1m7.3 14.1h1m-22.9-13.2h1m17.7 17.4h1m-0.7-16.7h1m-3.7 10.5h1m7.9-3.3h1m-4.1-1.2h1m3.1-3.7h1m-6.1 10.2h1m-10.2-9.4h1m-0.1 8.3h1m-1.3-7.3h1m9.3 11.3h1m-3-14.2h1m-0.9 13.4h1m2.3-0.2h1m2.8-10.1h1m-7.3 7.6h1m-12.7-4h1m-1.6 1.7h1m5.2-1.5h1m6.5 6.6h1m-16.1-5.6h1m-4.9-0.5h1m23.9-11.5h1m-6.5 20.8h1m-10.6-4h1m-2.2-10.5h1m2.4 0h1m-3.1 2.9h1m12.3 7.6h1m-12.2-13.6h1m-4.6 6.4h1m-8.5 1.6h1m20.5-4.5h1m-10.8 4.5h1m-9.4 6.4h1m6.3-4.2h1m-3.9 1.3h1m-14.1-8.8h1m1.8 2.7h1m17.7 7.9h1m-8.8-9h1m2.8 2.8h1m-3 12h1m-11.4-18h1m10.1 9.7h1m-0.4-0.7h1m-8.2-10.8h1m-0.4 2h1m-0.9 12.8h1m-0.8-12.3h1m4.8 12.6h1m-5.5-9.1h1m15 9.3h1m1.6-16.8h1m-22.4 16.7h1m5.4-17.2h1m0.1 14.3h1m5.9-5.7h1m-12.7 5.8h1m3-10.8h1m-5.4-1.5h1m0.2 4h1m-2.5 8.9h1m12.5-2.9h1m-10.7-9.5h1m0.8-2.2h1m10.9 3.3h1m-10.1 14h1m-6.3-1.7h1m-4.4-7h1m4-1.6h1m11.1 10.4h1m-22-14.9h1m7.2 7.9h1m5.3-6.1h1m3.3 3.3h1m-27.3-2h1m9.5 8.9h1m-13.3-8.9h1m18.9 5.4h1m3.5-4.3h1m-17.7-7.1h1m4 6h1m-7.8 2.5h1m9.5 1.9h1m-1.5-6.4h1m-3.5 7.8h1m3.3-9.5h1m5.9 12.2h1m-8.5 0.1h1m6.6 3.4h1m4.3-2.6h1m-4.2-19.5h1m-3.3 11.4h1m-9.8-5.3h1m2.1 15.5h1m4.8-19.3h1m-4.8 22.3h1m-14-15.3h1m0.6 10h1m-4-4h1m3.2 5.7h1m8.4-0.2h1m-9.7-1.6h1m12.8-3.7h1m-3.6-4h1m-8 3.5h1m2.8-2.6h1m-7.7-0.8h1m11.3-1.7h1m-21.9 3.8h1m13.7-2.1h1m12.3-3.1h1m-16.5 4.7h1m-8.2 5.1h1m16.8-1.6h1m-14.7-4.6h1m11.3 0h1m-7.5 10.4h1m-17.4-10.7h1m12.5 6.5h1m-7.4 3.2h1m0.7-1.1h1m11.7-12.2h1m-18.3 12.4h1m11-6.6h1m8.7-0.4h1m-11.6 1.1h1m-5.4-0.1h1m-5-5.2h1m-1.6 0h1m19.1-4.9h1m-22.6 11.7h1m0.9-12.3h1m3.2 9.3h1m12.8-1.3h1m-10.9 0.4h1m-13.8-5.3h1m18.4 11.8h1m-7.5-0.4h1m-18.8-8.3h1m29.5-6.1h1m-21.6 7.1h1m13.4-0.7h1m-11.5 11.4h1m-2.3 3.1h1m16.2-16.8h1m-9.2 0.2h1m-4.7 4.8h1m8.9 1.9h1m-16.3-3.3h1m18.4-5.6h1m-20.6 13.3h1m14.8-8.4h1m-11.4 6.2h1m5.2-7.2h1m-10.6-1.9h1m-0.4 0.5h1m-3.6 13.9h1m2-11.3h1m-1.7 16.7h1m-0.8-9.1h1m15.1-6.6h1m-4-1.5h1m-5.4 13.6h1m-11.2-8.7h1m1.2 5.1h1m11.1-14.7h1m-14.4 12.8h1m1.7-5.5h1m10.5-1.7h1m-1.5 8.9h1m-12.1 2.9h1m-0.3-0.5h1m6.7-11.2h1m-7.3 1.7h1m1-5.7h1m-3.4 0.3h1m10.8 5.4h1m-4.5 9.4h1m-4.1-4.7h1m4.4-7.4h1m-17.6 1h1m-4.7-0.9h1m6.8 7.6h1m-3.4-6.5h1m10.9 2.4h1m-5.7 2.1h1m-7.8 7h1m-3-5.8h1m7.7-11.5h1m-9.1 13.6h1m8.9-2.8h1m3.4-10.1h1m-11.1 17.4h1m3.2-13.8h1m-3.2 3.2h1m5.6 14h1m-10-5.1h1m-7.3-7.8h1m20.9-13.6h1m-18.3 15.9h1m7.9-10.7h1m0.2 4.8h1m-14.4 4.5h1m11.3 8h1m4.3-15.3h1m-2.8 7.8h1m-9.8 4.1h1m7.8-4.5h1m2.3-13.8h1m-22.5 15.8h1m0.6 0.7h1m4.3-10.9h1m7.2 16.9h1m-17.4-17.7h1m17.1 6.1h1m-12.4 0.7h1m-4.5 1.5h1m-1.3-7.3h1m5.1 12.1h1m13-4.6h1m-6.7-9.3h1m-9.2 20.3h1m-2.7-12.4h1m10.8-4.6h1m-19.9 2h1m-1.4-1.7h1m14.2 12.7h1m-0.8-4.3h1m-16.1 4.2h1m-1-7.4h1m7.8 0.4h1m7.9 2.9h1m-13.9-9.2h1m-6.2 14.4h1m12.4-1.3h1m-7.3 2.7h1m4.7-10.6h1m4.2 4.5h1m-4-14.2h1m-4.3 5.6h1m-3.1-0.2h1m7.3-5.1h1m-13.8 7.3h1m-10.3-4h1m7.1 11.2h1m-1.2-9.1h1m-6 1.2h1m17.5 4.5h1m-4.8 3.9h1m-8.5 4.9h1m-0.7-11h1m-7.1 4.1h1m-2.2-11h1m15.8 12.4h1m-6 1.5h1m2.5-12.4h1m-1.5-2.7h1m-11.9 5.6h1m10.6 8.2h1m-10-5.6h1m-6.7 2.4h1m10.4 9.3h1m4.6-2.8h1m-5.4-14.4h1m-1.5 15.4h1m-12-7h1m15.1-12.1h1m-4.4 9.6h1m-16.7-0.4h1m13.3-6.7h1m-1.6 16.7h1m-2.2-3.9h1m8.6-4.1h1m-7.1-2.1h1m5.4-6.2h1m-14 6.2h1m4.8-2.3h1m-1.3 7.4h1m-4.6-11.9h1m1.3 16.8h1m2.8-7.1h1m-9.2-8h1m5 5.1h1m-9.2-5.9h1m7.3 1.5h1m-5.2 0.7h1m3.8 6.4h1m-1.5 10.4h1m1.6-8.1h1m-8.5 4.1h1m-1.2 1.4h1m12.6-10.3h1m-5.8-11.6h1m-19.2 7.6h1m11.5 9.7h1m6.7-5.4h1m-10.9-14h1m-10.2 18.5h1m2.1 3h1m19.8-17.2h1m-10.3 19.2h1m-5-7.9h1m-6.9 7.8h1m18.2-16h1m-11.8 3.4h1m-12.5-5.2h1m12.8 0h1m-6.9 13.7h1m-10.2-5.4h1m0.3 10h1m-0.8-2.3h1m8.4-16.6h1m-1.4 20.6h1m8.4-15.7h1m-20.7 7.2h1m16-4.9h1m-15.3-0.8h1m10.8 1.2h1m-4.8-8.4h1m3.1 14.5h1m3.7 0.5h1m-9.1 1.6h1m3.7 1.4h1m-20.3-3.6h1m0.3-11.3h1m17.4-3h1m-12.3 4.8h1m16.1-5h1m-21.1 18.5h1m8.6-5h1m13.4-8.9h1m-12 9h1m2.2-3.3h1m-3.5 5.9h1m-4.6-18.2h1m-0.2 10.6h1m4.2-8.8h1m-8.8 0.2h1m1.9 13.5h1m-0.9-9.1h1m2.3 3.7h1m2.6-1h1m1.4-4.3h1m-8.3 1.4h1m-13.2 6.8h1m-5.7-0.3h1m-0.4-2.7h1m5.5-2.6h1m5.8 9.7h1m1.8-10.8h1m-16.3 8.9h1m6-11.7h1m10.1 12h1m0.9-4.1h1m-16 6.5h1m-7.5-5.8h1m17.4-2.5h1m-0.5 9.3h1m-0.6-4.9h1m-1.6-0.1h1m-22.4-7.9h1m12.3-2h1m-13.7-0.2h1m22.9 2.8h1m-5 6.4h1m-17.6-6.9h1m9 12.8h1m-2.9-12.4h1m-10.8 1.5h1m13.6 11.5h1m-12.2-9h1m5.8 6.6h1m-7.3 0.3h1m6.6-6.5h1m-0.8-0.5h1m2.8 8.9h1m-16.9-10.3h1m14.5 12.3h1m-8.7-16.1h1m8.2 16.9h1m-9.2-13.7h1m9.6 1.6h1m-12.9-5.2h1m-1.8 16.6h1m1-10.7h1m4.8-4.2h1m-11.8-0.9h1m1.8 9.6h1m-1.4-6h1m11.5-3.4h1m-10 9.1h1m4.8 10.3h1m1.5-20.1h1m2.3 8h1m-2.5-6.7h1m-11.5 9.9h1m10.9-0.1h1m-15.9 3.6h1m7.3-2.9h1m10.5-6.6h1m-6.9 3.1h1m-9.2-9.6h1m3.6 19.8h1m-14.2-4.6h1m20-7.4h1m-6.9-4.6h1m-5.8-1.3h1m4.2 2.7h1m0 5.5h1m0.6-9.8h1m-5.5 9.6h1m-10 0h1m-9.1-3.8h1m4.9-2h1m9.3 9.9h1m0.5-0.9h1m-4.2-11.2h1m-9.7 14.1h1m22.7-16.2h1m-7.1 10h1m-1.3 1.9h1m-0.8-12.8h1m-14.5 16.2h1m-6.8-0.3h1m-0.3-5.5h1m16.2-1.7h1m-22.6 5h1m23.3-15.3h1m-8.8 9.3h1m-4.7-4.1h1m1.7 8.7h1m-2.4-9.1h1m-15.7 2h1m21.4-5.4h1m-24.2 6.1h1m12.5 4h1m-2.5-7.2h1m13.9 2.2h1m-12.7-1.1h1m5.7-0.9h1m-16.1-0.1h1m12.9 12.6h1m-1.1-6.3h1m1.1 4.9h1m-17.1-2.2h1m1.3-3.8h1m1.2 4.2h1m2.9 4.7h1m3.9 7.9h1m-10.4-24.1h1m-6.4 12.3h1m2.9-5.2h1m2.9-3h1m5.1 0.9h1m-7.4 14.2h1m4.8-3.1h1m-16.9-12.6h1m24.3 2.2h1m-17.3 0.4h1m16.2-4.2h1m-29.7 0.6h1m14.4 6.6h1m10.7-8.9h1m-11.3 10.9h1m-7.2 0.9h1m-1.3 4.9h1m0.7-13.2h1m-8.6-0.3h1m6.2 7.3h1m-0.7-2h1m-4-5.5h1m5.6 14.9h1m-7.6-16.3h1m5.2 16.9h1m3-16.7h1m-6.3 0.4h1m-0.4-1.1h1m4.9 2h1m-17.5 5.1h1m11.3 11.5h1m-8.6-8.7h1m-9.7-1.5h1m4.7-3.4h1m2.8 6.2h1m5.5 0.2h1m-0.2-1.4h1m2.6-3.1h1m3-11.8h1m-18.8 15.6h1m-2.1-4.5h1m0.7-0.4h1m13.9 6.7h1m-7.6-11.2h1m7.7 10.2h1m-13.2 9.4h1m0.6-5.6h1m-3.4-3.5h1m10.7-5.1h1m-10.1 7.3h1m7.8 2.7h1m-12.4-6h1m13.5-4.5h1m-2.5-3.5h1m-17.7 0.7h1m-1.6 0.8h1m18.5-5.9h1m-1.9 1.3h1m-7.5 4h1m-17.8-3.9h1m21.5 6.1h1m-18.7-6.1h1m8.3 12.4h1m-10.1-10h1m3.1 15.1h1m8.5-6.4h1m-4.1-2.2h1m-3.2 2.4h1m-8.4 4.7h1m-6.6-12.2h1m17.7-0.6h1m-7.3-2.4h1m6.9 9.7h1m-14.8 4.9h1m-8.1-13.2h1m15.3 11.6h1m-2.3-7.4h1m-5.6 7.1h1m-5.6-4.5h1m19.4-10.1h1m-12.3 2h1m-2.2 1.4h1m-12 0h1m2 8h1m0.9 1.5h1m10.1 3.4h1m-12.7 0.8h1m5.3-5h1m8.9-6.8h1m-15.6 9h1m-7.3-8.3h1m-1.4-1.8h1m-2.3 5.8h1m9.2-4.7h1m6.3 7.1h1m-6.1-3.5h1m0 0.9h1m-14.1-2h1m15.6-1.5h1m0.5-4.4h1m-19.5 7.7h1m-1.2-2.4h1m1.7 10.1h1m5.8-9.7h1m8.6 1.4h1m-22.1-5.1h1m19.7-4h1m-15.2 11.1h1m4.2-6.3h1m3.7 4.3h1m-19-2.5h1m9.4 12.3h1m-9.9-14h1m5.1 7.6h1m12.8-13.4h1m-11.1 14.4h1m-6.8-3.8h1m6.9 8.5h1m10.1-6.6h1m-21.5-6.9h1m3.7 18h1m10.7-14.8h1m-9.3 10.7h1m4.2-8.5h1m0.9-1.7h1m-12.1-4.1h1m5.2 11.7h1m-9.1-6.7h1m8.1-0.4h1m3.1 1.3h1m-10.4-10.1h1m-3 8.5h1m14.5-0.5h1m-20.1 8.7h1m11.9-2.9h1m-5.3 3.5h1m-0.5-14.8h1m-3.8 8h1m7.8-11.2h1m2 11h1m0.1 3.7h1m2.1-13.6h1m-17.8 4.6h1m0.5 12.3h1m4.3-17.5h1m1.7 8.7h1m5.6-7.3h1m-20.5 10.4h1m-2 0.5h1m14.9-9.6h1m-20.3-3h1m6.4 10h1m-1.6-8h1m5.6 11.9h1m3.8-6.2h1m-2.2 3.7h1m-6.2 5.8h1m-9.1-1.2h1m13.8 1.4h1m5.7-10.4h1m-1.6 0.1h1m-8.4 18.2h1m1-12.6h1m-17.7-2.5h1m2-2.7h1m3.4 11h1m4.3-2.7h1m-11.7-15.2h1m18.3 3.1h1m-16.2 6.7h1m-1.3 0.3h1m-0.8 0.8h1m-3.4-4.4h1m2.8-9.6h1m1.7 12.4h1m11-11.9h1m-18.9 17.3h1m1.6 2.7h1m11.2-22h1m-14.5 19.3h1m6.6-0.8h1m-3.2 0.7h1m-5.8-1.4h1m6.5-10.8h1m0.9 0.4h1m-18 9.6h1m18.4-10.9h1m-10.1 10.3h1m-5.4-10.3h1m14.4-0.1h1m-7.3 6.8h1m7.7 2.1h1m-14.6 10.7h1m-4.9-4.4h1m0.8 0.7h1m9-4.3h1m-8.3-10h1m5.8 14.9h1m-10.4-1.3h1m7.3-6.8h1m3.1-4.6h1m-7.7-1.8h1m-11.4-3.5h1m14.9 6.8h1m-20.2 5.8h1m4.4-1.7h1m13.3-5h1m-0.7-6.4h1m-8.5 0.1h1m0.2 16.1h1m-11.8-10.6h1m13.4 7.2h1m-9.9 8.6h1m0-5.9h1m-0.6-6.1h1m-4.4-3.1h1m17.6-0.9h1m-17.3 8.1h1m-3.5-7h1m17.1-4.6h1m-19.6 5.7h1m16.6 2.9h1m2-9.6h1m-24.5 11.6h1m14.8-8h1m-18-3h1m-1.4 8h1m9.1 2.2h1m-10.8-8.1h1m-0.3 2.8h1m3-4.5h1m11.6 13.3h1m-9.5-10.1h1m-2 8.9h1m12.7-4.2h1m-3.8 0.8h1m-4.7-6.3h1m-14.3 0.3h1m13.2 3.5h1m1-10.1h1m-17.2 15h1m11.4-15.1h1m-3.3 11.8h1m-0.1 11.8h1m6.1-16.1h1m-6 6.3h1m-10.5-8h1m-1.1 10.4h1m7.8-2h1m1.7 1.8h1m-19.6-11.4h1m13.2 8.8h1m6-4.8h1m-3.4 1.9h1m-2.5 1.5h1m-4.6-8.4h1m-11.5 9h1m3.9 11.7h1m11.3-16.1h1m-3.7 7.1h1m-10.2 6h1m14.1-15.3h1m-5.6-6.4h1m-11.6 7.2h1m1.8 3.9h1m-2.2-3.2h1m6.2-3.6h1m-8.6 12.4h1m9.9-7.6h1m-14 0.2h1m0.7 9.7h1m7.1-11.1h1m4.5 9.9h1m-23-7.5h1m9.9 12.3h1m-8.9-12.1h1m16.1-9.3h1m-13 0.3h1m16.2 12.7h1m-12.9-13.2h1m-5.8 16.9h1m-7-12.9h1m2.5-1.2h1m14.6-0.8h1m-0.4 6.7h1m-8.2 10.7h1m-17.7-2.3h1m13.5-11.9h1m-8.6 10.2h1m12.8-12.2h1m-20.1 7.7h1m11.5-5.6h1m-9.5 9h1m-1.8 4.7h1m2.6-5.5h1m7.2 4.9h1m4.7-8.5h1m-2.2-4h1m-9.8 6.5h1m7.8-3.7h1m-13.8 9.6h1m-2.3-0.3h1m14.2-3.9h1m-15.5 0.8h1m3.6-0.3h1m13-7.1h1m-14.3 3h1m-1.7-1.5h1m12.4-4.8h1m-4 3.8h1m-11.1 9.1h1m4.3 0.6h1m-12.6-18.5h1m15.8 4.5h1m-6.1 11.1h1m2.2 1.9h1m-1.7-9.1h1m-13.2 0.7h1m9.4 8.1h1m-5.1-2.8h1m-1.2 3.7h1m-7.5-9.5h1m7.6-3h1m11.4-3.4h1m-19.3 14.9h1m-2 0h1m13.3-16.6h1m-6.3 9.6h1m-17.2-3.8h1m8.1 14.4h1m2.2-6.7h1m-6.7 2.4h1m-1.3-1.2h1m-0.6-0.2h1m-6.5-10.8h1m13.2 16.5h1m-8.8-13.6h1m-6.9 7.9h1m14.5-9.2h1m-5.3 9h1m-15.2-0.2h1m2.2-8.8h1m15.6-5.5h1m-11.7 13.2h1m12.4-11.2h1m-10.7 20h1m-4.5-4.1h1m12-10.3h1m2.2-8.4h1m-10.8 9.1h1m-11.6-6h1m19.5 0.9h1m-1.9-2.8h1m-20.5 5.9h1m18.9-3.4h1m0.1 3.3h1m-21.4 4.3h1m-5.8-1.3h1m9.4-7.5h1m-8.1 5.6h1m-4.3 1.7h1m7.4 4.6h1m-1.9-10.4h1m13 1.1h1m-15.9 12.4h1m-2.9 3.5h1m-7.2-11.5h1m9.3-1.9h1m8.8-0.7h1m-10.2 1.3h1m7.9-1h1m-16.3-4.4h1m12.6 5.5h1m-4.3 14.2h1m6.9-4.3h1m-14 0.6h1m6.4 3.8h1m-0.1-9.3h1m1.4-9.6h1m-6.2-2.7h1m-13.3 9.9h1m8.3-6.5h1m-15 11.5h1m19.4-12.7h1m-14.9 4.2h1m7.4 7.1h1m-5.3 4.3h1m-0.6-12.3h1m10 12.9h1m-3.1-14.8h1m-12.2 7.4h1m9.2-2.7h1m-5.1 4.1h1m-3.1-4.1h1m-4.4-4.4h1m6.7 4.6h1m-1 9.3h1m-3.5-15.9h1m2.8 18.1h1m7.1-21.8h1m-23.8 11.3h1m22.8-6.4h1m-9.6 1.4h1m-13.6 4.5h1m-3.3-3.2h1m-0.6 1.4h1m12.4-2.7h1m-4.4 15.9h1m10.4-15.1h1m-13.3 10h1m3.7-5.3h1m-3.1 4.2h1m-3.4-6.1h1m-3-0.5h1m-5.8 6h1m5.4-2.7h1m5.2 10.5h1m0.5-16.3h1m6.8-3.7h1m-4 9.2h1m-15.5 9.9h1m11.4-17.2h1m-9.5 13.7h1m-12.7-6.9h1m0.3-6.1h1m5.5 3.4h1m1.6 10.3h1m6.3-4.9h1m5.1-6.6h1m1.6 0.4h1m-10.6 6.4h1m-7.9-10.9h1m-3.8 1.7h1m-4.3 7.5h1m-1.7-5.7h1m8 6h1m-2.6 8.5h1m-5-0.4h1m10.2-18.9h1m-12 8.4h1m3.4 7.8h1m-3.5-10.7h1m5.6 1.4h1m1.9 2.4h1m-5.9-6.4h1m-1.9 5.1h1m-5-7.3h1m2.1 13.2h1m-3.1 6.4h1m15.7-15.6h1m-25.3 9.4h1m4.9-7.6h1m2.9 7.6h1m8.7-3.6h1m-16.2 4.7h1m5.4 6.9h1m-8.7-10.2h1m2.1-9.4h1m-7.9 11.6h1m4.1 0.6h1m3.1 1.5h1m7.1-4.6h1m-14.9-5.6h1m-1.3 2.5h1m2.5-6.1h1m0.6-4.1h1m9.8 11.9h1m-17.9-1.4h1m-2.7-4.3h1m8.6-1.8h1m-9.7 14.2h1m4.6-2.9h1m1.7-5.3h1m-5.4 0.1h1m2-3.5h1m10.7 1.4h1m-18-1.4h1m15.7 13.6h1m-7.5-9h1m-1.7 7.9h1m-11.7-5.2h1m17.4-2.5h1m-24.6 3.9h1m3.3-4h1m9.7 10.8h1m-1 0.7h1m-13-7.7h1m5.4 1.4h1m-8-9.7h1m0.6-2.7h1m11.3 3.8h1m4.7 2.2h1m-7.2 5.7h1m6.8-1.1h1m-27.3-2.7h1m1.6 0.3h1m1.1 4.9h1m17.8-6.7h1m-5.2-3.4h1m-11.8 0.7h1m-1.9-2h1m7.3 6h1m2.3 7.2h1m-2-12h1m-9.2 7.5h1m5.1 1.7h1m-10.9-6.7h1m23.6-2.8h1m-16.5 3.6h1m-6 0.6h1m-1.5-4.6h1m-2.6-0.9h1m13.1-2.4h1m-4.8 9.9h1m11.2 2h1m-23.2-3.7h1m-1.1 3.4h1m19.1-12.6h1m-13.4 6.9h1m-16.3 9.5h1m22.7 0.4h1m-3-5.4h1m-15.7-5.7h1m16.6-6.4h1m-10.9 5.9h1m7 11h1m-21-7.5h1m14 9h1m-4-14.6h1m-8.1 0.5h1m-0.7 0.3h1m2.4 7.7h1m-6.9 2.7h1m17.6-11h1m-8.3 3.6h1m-2.9-2.9h1m8.1-0.5h1m-9.1 5.3h1m-4.2 11.1h1m-2.6-11h1m7.7 0.7h1m1.7-8.4h1m-18 15.7h1m6 3.9h1m-6.9-16.3h1m15.2 2.1h1m-20.6-0.2h1m20.5-0.7h1m-4.7 14.8h1m-1.8-6.2h1m1.9-3.3h1m-17.6-10.7h1m2.7-2h1m15.1 10.6h1m-10.4 0.9h1m-15.7 1.4h1m13.2 0.6h1m-2.6 0h1m-12.5-6.9h1m13.8 3.5h1m5.9-3.8h1m-18.1-5h1m5.4 2h1m0.5 12.9h1m-1.5-1.1h1m-9-9.5h1m7.6 2.9h1m9.2 2.5h1m-20.6-5.9h1m0.1 5.9h1m8.9-3.5h1m7.3-6h1m-25.3 4.8h1m6.8 13.7h1m11-11.8h1m-10-5.1h1m11.6-0.8h1m-21.5 12.7h1m10.4-1.9h1m-8.5-10.5h1m16.1 1.3h1m-18.3 14h1m-2.7-3.3h1m7.4-1.1h1m8.4-14.3h1m-6.1 20.9h1m-19.8-3.2h1m10.2-9.3h1m3.5 8.5h1m5.5 4.4h1m-0.4-13.2h1m-12.1 1.6h1m8.1 1.6h1m-4.3-3.8h1m-4-0.3h1m8.9-8.2h1m-15.7 14.7h1m-1.5-2.1h1m-7.1-4.1h1m14.3-2.2h1m-9.7 17.2h1m12.3-4h1m-14.1-6.2h1m0.5-5.5h1m-5.3-5.2h1m10.2 1.1h1m-14 8.4h1m-1 5.1h1m6.8 0.1h1m-10.8-4.5h1m18.6-7.5h1m-7.5 11.9h1m10.8-7.3h1m-9.5 2h1m6.3-8.5h1m-17.2 15.2h1m12.3-12.4h1m-13.1 9.9h1m3.5-9.7h1m2.4 13.7h1m-0.1-11h1m-9.6-3.3h1m0.1 7.6h1m15.3-13.7h1m-0.9 4.6h1m-28.2-2.9h1m8 22.1h1m7.4-4.8h1m-9 6.2h1m14.7-20.7h1m-13.9 4.3h1m-5.5 2.2h1m13.3-6.7h1m-11.9 10.1h1m-1.2 6.2h1m-5.4-15.9h1m15.9 11.2h1m-5.9 1.8h1m-4.7-6.4h1m1-2.4h1m-12.1-1.5h1m1.1 14.6h1m-4.9-10.7h1m-1.4-3.2h1m2.5 8.7h1m16.1-6.6h1m-4 1.2h1m-15.4-12.8h1m15.4 13.3h1m-6.6-6.6h1m-6.1 16.6h1m-10-9.1h1m15.9-2.4h1m-9.5-2.5h1m-7.3 8h1m3.1 3.2h1m-0.5-4.6h1m8.8 5.7h1m-3.1-7.5h1m-10.5-2.5h1m15.1-5.5h1m-1.3 2.1h1m-24.1 7.6h1m18.7-3.3h1m-3.9 2.7h1m1.5-9.4h1m-16.4 3h1m11.6 6.8h1m1.2-2.8h1m-17.1-0.4h1m16-0.6h1m-4.4-4.2h1m-5.6 9.5h1m-8.7-1.3h1m6-12.3h1m-8.8 8.1h1m17.1-1.4h1m-12.9-1.2h1m-6.7 1.1h1m18.3-4.4h1m-16.5 7.7h1m11.4-4.1h1m-0.9 0.8h1m-2.9 13.4h1m-11.5-16.4h1m-5.9 2.8h1m-2.8-1.7h1m20.6 13.7h1m-16.1 2.5h1m6.7-2.8h1m-1.9-4.5h1m-1.7-8.6h1m-12.1 3.1h1m11.6-1.2h1m-15.4 4.4h1m10.7-5.9h1m-17.9 6.3h1m6.8 0.4h1m11.9-10h1m-13 14.5h1m18.3-15.5h1m-10.9 8.1h1m-5-4.8h1m-10.3 9.2h1m-0.7 0h1m17.9-2.2h1m-16.6 10.3h1m14.4-13h1m-19 9.1h1m6.8-6.3h1m-1-11.4h1m15.1 10.5h1m-21.1-6.8h1m3.1 8.2h1m-8.2-5h1m2.1 11.5h1m3.6-0.9h1m-15-17.2h1m26.5 1.4h1m-21.6 9.2h1m2.2-4.8h1m9.9 7.8h1m-14.5 2.7h1m5.9 1.8h1m-14.6-11.9h1m9.2 15.5h1m-8.4-9.6h1m17.5 4.3h1m-6-3.6h1m-3.6-6.6h1m-9.7 0.1h1m20.7-5.5h1m-9.9 0.8h1m-3.8 12.9h1m-4.9-7.7h1m9.3 4.5h1m2-6.2h1m-16.2 10.1h1m1-1.9h1m-0.7 1.7h1m-4.4 3.1h1m12.4-15.7h1m-13.7 5.3h1m15.6 3.5h1m-8 7.9h1m-8 1.3h1m-8.3-4.5h1m6.7 1.1h1m6.8 0.5h1m-8.9-2.2h1m9.1-7.3h1m-7.3 16.8h1m13.2-14.7h1m-17.5 13.2h1m13.6-14.1h1m-1.1 5.9h1m-5.8 8.3h1m-5.6-0.9h1m-7.9-8.3h1m7.7-4.8h1m3.2 1.6h1m-3 6h1m-5.8 2.9h1m6.1-0.8h1m-7.5-12.2h1m6.7 0.9h1m-2.4-0.8h1m-5.9 10.9h1m6.3-12.3h1m-12.4 6.6h1m-6.4-3h1m-2.1 10.7h1m17.7-12.2h1m-0.2-4.9h1m-18.8 8.9h1m-9.8 9h1m18.5-4.4h1m3.6-7.6h1m-27.1-2.8h1m7.3 13.1h1m5.2-1.2h1m3.1-3.9h1m-8-9h1m5.9 11.8h1m3.1 2.9h1m-13.8-15.4h1m11.8 10.3h1m-18.3-9.5h1m0.3-1h1m-3.3-2.5h1m7.9 2.2h1m-2.2 4.8h1m1.5-9.2h1m-7.1 16.2h1m4.6-2.7h1m7.2 0.8h1m1.7-11.1h1m-8.4 12.8h1m-1.7-9h1m-14.4 1.2h1m23.5-0.7h1m-5.1 3.2h1m-11.9-6.6h1m-4.3 13.3h1m2.5-8.4h1m-4 4.5h1m7.3-7.5h1m-6.8-0.9h1m10.8-7.9h1m-20.9 17.5h1m7.4-0.8h1m-0.4 8.4h1m-4.6 1.6h1m-0.1-6.5h1m3-4.3h1m1.2 1.9h1m13.2-12h1m-21 4.5h1m-0.9 0.2h1m-8 6.3h1m21.7-7.4h1m-18.4-2.9h1m18.1 2.6h1m-1.7-3.2h1m-10.6 0.8h1m-6.6 18.9h1m14.4-16.3h1" stroke="#000" stroke-width="0.9" fill="none"/>
<path d="M90.6 268.8h1m1.9 7.1h1m0 3.1h1m1.6 2h1m-2.2 3.9h1m-10.8-16.6h1m17.2-1.8h1m-21.2 10.5h1m-7.5-4.2h1m22.3 7.2h1m-13.4-11.4h1m-2.2 6h1m0.1-1.6h1m9 3.3h1m2.5-2.7h1m-22.4 0.3h1m19.4 0h1m-2.4 7.6h1m-16.8-11.4h1m-5 5.9h1m15.2-3.5h1m6.3-6.4h1m-5.7 3.6h1m2.8 5.2h1m-20.7-0.4h1m-4.9 4.1h1m14-0.8h1m-13.7 2.4h1m17.1 3.1h1m-7.7-5.9h1m-0.9-2.2h1m-1.2 10.8h1m-7.1-10.2h1m1.6 9.7h1m-6.4-9.7h1m13.1-1.1h1m2 3.3h1m-22.2-3.9h1m0.3 1.7h1m5.1-2.3h1m10 9.7h1m-17.7-11.2h1m16.6-3h1m-8.1 10.1h1m-0.5-0.1h1m2.6 8.5h1m-17.8-16.4h1m5.5 8.3h1m-4.4-4.6h1m4-4.1h1m-9.3 4h1m21.7-1.1h1m-12.4 7.9h1m-4.3-12.5h1m6.8 5.8h1m5.6-1.6h1m-19.3-3.2h1m0 1.2h1m6.4 3h1m11.5-3.8h1m-1.8 3h1m-13.8 14.2h1m0.6-14.6h1m2.8 8.4h1m3.1-11.3h1m3.3 2.5h1m-24.4 1.4h1m0.6 4.3h1m17.9-3.9h1m-11.1-3.1h1m-2.2 1.6h1m9-3.5h1m-19.3 8.9h1m14.1-5.1h1m5.1 0.3h1m-1.8-2.8h1m-1.1 5.5h1m0-8.4h1m-7.2 1h1m-9.6-1.1h1m1.5 18.1h1m-12.2-5.5h1m1.1-2.9h1m3.9-5.3h1m1.8 9.4h1m-12.8-11.3h1m16.4-1.4h1m-11.7 8.4h1m12.9 8.2h1m-13.3-4.7h1" stroke="#fff" stroke-width="0.8" fill="none" stroke-opacity="0.55"/>
<path d="M67.6 278.3h1m-3.9-8.5h1m-0.1-5.3h1m-1.6 7.3h1m-2.5 4.5h1m-3.8 3.2h1m-5.2 4.8h1m9.2-11.6h1m2.8-1.6h1m-9.1 11h1m4.5 2.9h1m-4.5-11.6h1m1.6 5.7h1m-5.2 7.3h1m1.2-7.4h1m-0.5-2.7h1m-9.7-14.2h1m9 23.9h1m-2.4-4.8h1m-10-3.6h1m11-4.1h1m-3.6-5.5h1m-0.1 8h1m-0.4 0h1m-4 8.4h1m-3.5-16.2h1m1.4 18.6h1m-0.9-9.8h1m9.2 8.1h1m-2.5-15.2h1m-10 9.3h1m-0.7 6.1h1m1.9-7.8h1m-0.1-11.1h1m-5.9 8h1m-2.2 6.1h1m10.4-13.6h1m-4.4-0.3h1m-11.1 11.8h1m-1.8-8.3h1m2.6 11.4h1m3-13h1m0.3-4.7h1m-4.4 7.5h1m-6 15.9h1m6.1-16.5h1m0.5 6h1m-3.3 1.8h1m-2.9-8.4h1m3.1 14.3h1m-3.4-6.4h1m-5.2 1.8h1m3.8-14.9h1m-6.4-0.4h1m7.7-7.1h1m-2.9 18h1m-6.7-0.3h1m3.7 6.7h1m3 5.3h1m-14.2-12.1h1m6.8-0.2h1m6 5.1h1m-13.5 7.6h1m4.4-16.5h1m-5.9 10.1h1m4.3-6.1h1m-10.1-0.6h1m2.1 8.1h1m3.2-11.3h1m1.6-2h1m0 12.2h1m-0.9-4.8h1m1.9-1.7h1m-2.8 0.9h1m-0.8 4.4h1m-7.7-6h1m2.2 7.9h1m12-2.5h1m-4.6 7.5h1m-6.6-1.5h1m-1.3-2.8h1m-0.1-7.5h1m-6.4 2.3h1m8.2-5h1m-10.1 24.1h1m0.2-21.5h1m7.8 5.4h1m-17.7 5.7h1m8.6-19.1h1m-9.2 3.8h1m3.2 3h1m1.2-4.2h1m-2-1.9h1m1.1 5.2h1m-4.7 12.7h1m1.6-4h1m-5.3-4.8h1m2.2 0h1m-5-11.9h1m7.1 16.5h1m-8.7-1.8h1m6.8-10.6h1m-5.3 9h1m-0.6-2.8h1m4.8-2.3h1m-5.2-3.2h1m-8.9 2.1h1m8.4-1.8h1m-14.4 9.8h1m11.5-0.7h1m-3.6-0.3h1m-4.9-3.5h1m4.8-1.6h1m-2.5 17.2h1m8.1-27.4h1m-10.7 21.5h1m8.5-5.9h1m-3.3-2h1m-8.8-4.1h1m-1.8 2.1h1m7.4-6.8h1m-6.8-1.4h1m0.2 8.9h1m-2.6-10.8h1m-4.8 17.5h1m2.3 1.9h1m-3.3-31.9h1m-3.3 13.2h1m3.9 12.8h1m7.3-0.4h1m-1.7-0.7h1m-7.7 2.2h1m-0.2 2.2h1m0.5 0.9h1m2.4 6.4h1m-5.2-12.3h1m-4.1 5.9h1m-0.7-17.5h1m5.1 10.5h1m4.8-7.6h1m-13.8 18.3h1m-6.7 6.6h1m10.4-12.6h1m-4.5-12.9h1m-0.2 8.3h1m3.4 1h1m-5.6 1.2h1m-6.6 6.2h1m-3.5-0.9h1m6.6-25.2h1m-5.4 28.1h1m4.7-13h1m-7.2-0.5h1m2.7 13.8h1m-5.5-11.7h1m3.4-7.8h1m-1.3 0.4h1m3.2 9.6h1m1.9 6h1m-7 4.1h1m-3.8-11.7h1m10.3-2h1m-7.4 14.6h1m0-14.6h1m-1 13.4h1m2.4-8.5h1m-2.8 0h1m-2.3-3.3h1m-0.7 3.7h1m-7.4-5.3h1m0-1.5h1m1 3.8h1m-0.2-3.6h1m-1.3 6.7h1m0.1-1.6h1m-2.1-2.4h1m-2.8 0.4h1m-5.8-0.2h1m8.8 13.8h1m-2-12.2h1m-6.8-4.1h1m4.5 2.1h1m-1.4 6.7h1m-2.3-6.1h1m-8.6 0.4h1m1.5-0.8h1m1.4 3h1m7.8 1.6h1m-10.8 0.3h1m1-14.5h1m-4 4h1m1.4-11h1m2.4 24h1m-10.7 2.2h1m-4 1.3h1m12.9-8.1h1m-3.5 7.1h1m-3.5-8.3h1m5.3-0.6h1m-1-9.9h1m-13.3 5.3h1m6.7 1.3h1m4.1 10.6h1m-8.1 5.1h1m0.4-14.8h1m4.1 5.8h1m-5.9-0.6h1m-4.7-7.4h1m1.1-6.6h1m-3.6 6.8h1m6.5-4.8h1m-10.1 7.8h1m9.9 1.2h1m-11.6-0.2h1m5.8 0h1m-7.1 4.6h1m3.6-9.9h1m4.4 12.7h1m-0.6-17.9h1m-0.3 12.2h1m-6.6 2.2h1m-0.2-8.2h1m-0.5-5.6h1m0.6 15.6h1m-5.1-9.2h1m5 10.2h1m-4.1-0.1h1m2.3-5.4h1m-3.7 0h1m-0.2 6.9h1m-6.6-4.3h1m0.2-9.1h1m-4.5 7.7h1m3 2.7h1m-0.5-2.5h1m3-0.1h1m-9.3-2.3h1m16.9 0.2h1m-14.4-5.7h1m4.5-3.5h1m-1.8 17.9h1m-15.3-12.3h1m8 6h1m6-12.1h1m-16.6 11.6h1m11.8-6.9h1m-7.8 26.5h1m0.8-27.8h1m1.8 0.4h1m-9.4 13.3h1m7.3 1.3h1m-4.4-22.6h1m-1.4 16.5h1m4.8 4.3h1m10.2-14.6h1m-13.6 13.3h1m-0.2-8.5h1m-3.4-3.2h1m-3.7 4.5h1m2.9-0.8h1m4.1-6.5h1m-6.4 25.3h1m1.8-18.8h1m-5.4-2h1m10 11.1h1m-17.7-6.4h1m7.9 9.8h1m-1.2-11.2h1m-2.1 4.3h1m-6.5-1.8h1m-1.1 0.6h1m2.6-2.7h1m0.4 0.8h1m-6.3 12.4h1m-0.4-16.4h1m5.5 0.9h1m0.9 1.4h1m-7.4 6.4h1m-1.5-1.2h1m-1.1 3.7h1m11.8-15.8h1m-9 11.1h1m-3.2-3h1m3.3-0.8h1m4.1 3.1h1m-5.5-14.8h1m-11.4 15.6h1m4.4-0.9h1m-2.3-10.9h1m-0.7 9.2h1m-4.5 11.5h1m2.3-13.5h1m-3.8 6.8h1m4.7-5.7h1m-2.2-4h1m-6.8-0.8h1m-2.2 3.6h1m3.9 11.8h1m3.6-3.3h1m-1.7-10.6h1m-3.2 11.8h1m-14-7.8h1m10.3-3.9h1m-2 7.8h1m0.6-9.3h1m-4.5-4.6h1m2.1 19.9h1m-1.9-21.7h1m12.5 16.5h1m-9-14.4h1m-4.6 10.4h1m-0.5-1.2h1m-1.2-1.6h1m0.2-12.1h1m-3.4 14.4h1m0.6 0.4h1m3.2-5.9h1m-1.8 5.7h1m-3.1 7.4h1m3.1-11.9h1m0.3 0.8h1m-3.8 6.8h1m2-0.2h1m-0.5-2.6h1m2.6 15.4h1m-4.1-8.5h1m-1.9-2.9h1m0.9 1.1h1m-5.7 10.4h1m3.1-10h1m-4.2-9.7h1m-1.2 5.5h1m2.4-1.3h1m-2.7-3.4h1m1.2 4.4h1m-6.5 0h1m2.4-1.7h1m-2.6-2.3h1m-0.5 7.1h1m-4.2-13h1m4.6 13h1m-2.4-4.4h1m-3.4 1.4h1m-1.7-14.2h1m-0.1 21.8h1m3.5-18.4h1m-3.9 4.7h1m-1.5 8.1h1m0.6-6.7h1m-1.9 1h1m-0.6-9.8h1m0 9.7h1m-1.8 3.5h1m0.1 2.5h1m-5.1-5.2h1m1.5 2.7h1m-1.8 1.2h1m-0.1-6h1m-1.3-0.4h1m-2.2 14.6h1m-0.4-15.1h1m1.5 11.2h1m-3.9-6.3h1m-2.4 7.6h1m2.6-11.4h1m-0.2 6.2h1m-3.4-1h1m-0.3-3h1m-2.9 2.9h1m0.3-5.8h1m1.6 3.7h1m-1.6-1.7h1m-2.3 6.2h1m-1.9-4.5h1m-3.6-7.1h1m2.8 5.5h1m-0.7 1.5h1m0.2-4.3h1m0.8 12h1m-4.2-5h1m0.2 2.4h1m-5.1-8.7h1m3.6 2h1m-1.7 7.6h1m0-13.2h1m-2.4 9.7h1m-1.4-1.5h1m1-3.1h1m-5.2 3.1h1m1.6-6.3h1m-0.2 7.1h1m-4.6-7.8h1m-1.7-0.3h1m2.1 14.4h1m-1.6-11.3h1m-0.1-7.7h1m-0.9 16.7h1m-3.8-9.4h1m1.2-14.9h1m0.5 18.7h1m-3.9 5.4h1m-0.8-3.2h1m-2.7 7.4h1m2.8-9.9h1m1.2 3.9h1m-7.5-8.7h1m3.2 6.3h1m-0.7 7.4h1m-3.9-5.5h1m-0.6-1.9h1m-2.3-11.5h1m-0.5 8.6h1m0.8-4.9h1m0 11.2h1m-2-8.2h1m0.4 5.9h1m-2.3-7.4h1m-3.6 15.7h1m4.1-16.6h1m-1.6 7.1h1m-4.7 13.5h1m3.9-13.1h1m-3.6-5.9h1m-1.6 8.1h1m2.5 2h1m-9.6-0.6h1m0.7-15.4h1m3.5 11.8h1m-2.8-12.7h1m-2.4 21.8h1m3.8-9.9h1m-3-2.8h1m-4.4 6.1h1m0.2-1h1m1.9-9.1h1m0.8 15.3h1m-8.4-10.2h1m3.4-8.2h1m-2.2 17.2h1m-3.7 0.7h1m2.1-1.5h1m-3.8-3.9h1m1.1-7.8h1m3.2 10h1m-3.1 5h1m-0.5-5.7h1m-1.4 4.3h1m-1.5-12.9h1m0.3 9.7h1m-5.2-0.4h1m0.6-13.2h1m1.3-0.8h1m-4.1 5h1m-0.4 4.3h1m2.2 2h1m-0.3-3.6h1m-5.2 0.8h1m-1.4-0.2h1m1.7 1.1h1m-1.6 2.7h1m20.7 14.1h1m-4.3 2.1h1m0.9-4.2h1m-5.3-1.6h1m6.4 4.9h1m-8.7-1.3h1m11.8-1.8h1m-10.9 4.2h1m0.7-3.1h1m-7.1-5h1m1.5 5.3h1m2-1h1m-1.9 4.8h1m-4.8-4.7h1m-4.2-0.5h1m6.2 1.6h1m-0.4-0.5h1m1.4-4.1h1m3.1 3.8h1m-10.2-1.1h1m-11.1 4.3h1m10.1 2.5h1m-11.2-8.8h1m2.4 0.4h1m12.8 0.3h1m-3.8 0.5h1m-8.2-0.1h1m-1 1.9h1m2.3 2.6h1m-10.9-6h1m12.3-0.6h1m-6-0.8h1m12.1 7.4h1m-18.3 0.5h1m11.3-7.1h1m-11-0.2h1m9.1 4.4h1m-12.9 2.4h1m9.2-0.2h1m-8-2.1h1m-3.3 1.2h1m3-0.8h1m2.8-2.3h1m-1.5 6.2h1m6.1-4.8h1m-5.6-2.7h1m-21.6 1.6h1m12.3-2.7h1m-10.5 3.9h1m8.6 2.7h1m5.1-5.9h1m-12.8 6h1m0 2.4h1m6.9-4.3h1m-3.6-3.9h1m10.2 0.8h1m-8.5 1.3h1m0.2-2.4h1m6.3 0.1h1m-14.5 2.5h1m2 0.2h1m-6.9 2h1m6.5-4.6h1m3.6 7.7h1m1-2h1m-9.4-0.4h1m-5-3.9h1m-1.3 6h1m-4.8-5.2h1m8.1 5.4h1m6.4-1.9h1m-23.3-4.9h1m0.1 1.1h1m20.4 5.8h1m-19-2.2h1m10.6-2.9h1m-10.5 0.9h1m11.2 0h1m-1-2.4h1m-4.6 1.4h1m2.9-1.1h1m-5.6 0.6h1m2 2.2h1m6.6-3.6h1m-5.3 4.3h1m-11.6-1.6h1m-1.8 1.6h1m2.4 0.4h1m-1 0.9h1m0.8-1.6h1m-5 0.2h1m6.5-2.2h1m-4.7 1.9h1m1-3.7h1m-3.2 1.6h1m2.7 2.5h1m-11.9-2h1m15.7 1.3h1m-8.4-3.8h1m-0.4 6.1h1m0-4.9h1m1.8 2.4h1m-3.1-1h1m-4 2.4h1m-3.5-3.3h1m-9.7-1.6h1m10.1-2.2h1m-4.1 4h1m-1-2.3h1m15.3 4.4h1m-26.6 2.2h1m10.5-9.1h1m5.9 2.3h1m-2.5 4h1m0.7 2.3h1m-16.1-2.3h1m0.9 0h1m8.5 0.5h1m-6.5 0.2h1m11 2.7h1m-9.9-2.6h1m-1.2-4.7h1m0.5 2h1m-5.3 1.7h1m1.4-2.6h1m-5.8 1.4h1m2.9-0.7h1m-3.7-0.4h1m3.4 3.5h1m-11-2.7h1m-1.5-1.8h1m10.8 0.9h1m-2.4 1.9h1m-8.2 5.2h1m3.4-4.6h1m-5.9 3.1h1m17.5-2.5h1m-22.6-6.7h1m18.7 6.4h1m-16.2-3.1h1m6.4-1.3h1m-5.1 0.7h1m-1.7 7.2h1m6.9-8.4h1m-1.7 2.4h1m-7.6 4.4h1m-4.7-1.2h1m16.9-6h1m-5.1 4.1h1m-8.5-1.1h1m-3.7 0.8h1m2.6 2.4h1m-2.3-3.3h1m5.7 0.6h1m-14 4.5h1m5-8.3h1m-5.9 3.7h1m11.6 2.1h1m2-4.3h1m-12.4 1.5h1" stroke="#222" stroke-width="0.9" fill="none"/>
<path d="M73.2 271.2h1m16.8 22.4h1m-10.4-11.4h1m16-5.4h1m1.8 3.1h1m-12.7 4.6h1m-6.2-12.2h1m6.7 4.4h1m-3.4-1.1h1m11.2 3.5h1m-11.2-16.7h1m5.8 22.7h1m0.1-14.4h1m-4.2 7.3h1m-26 8.7h1m17-12.8h1m-2.1 2.4h1m2.3-7.9h1m-6.4 1.4h1m7.8-8.9h1m-12.6 27h1m7.4-18.8h1m-12.2 12.5h1m8.6-0.4h1m9.8-8h1m-19 5.7h1m13-1.2h1m-19.8-3.3h1m5.3 4.5h1m0.6 0h1m16.9-8.8h1m-25.3-2.3h1m23 3.7h1m-33.5 8h1m14.8 10.4h1m12 0.7h1m-3.6-9.5h1m-21.7 5.2h1m-3.6-6.8h1m24.5 8.1h1m-26.9-8.1h1m21.3 2.2h1m-14.4-5.6h1m5.2 2.3h1m27.2 15.7h1m-10.3-25.5h1m-9.6 9.9h1m-27.9-4.9h1m19.6 12.8h1m-4.2 7.1h1m-2.9-17.6h1m16.4-20.3h1m-38 27.9h1m23.7 0.1h1m-3.4-19.1h1m-11.6 12h1m29 1.4h1m-37.3-18.6h1m14.7 24.7h1m-0.3-1.9h1m-28.6-1.7h1m8.2-10.7h1m4.6 2.9h1m20.3 0.6h1m1 9.2h1m-5.3-12.1h1m-5.3 20.3h1m-30.6-9h1m28.3-21.2h1m-9.9 32h1m19.5-12.7h1m1.1-5.8h1m9.8 5.4h1m-19.5-16h1m0.3 16.7h1m-23.5-22h1m12.5 11.9h1m-16.9 19.8h1m24.9-0.8h1m-26.5-13.3h1m10.9-5.2h1m-8.3 15.7h1m3.2-8.1h1m10.3 2.2h1m-13.4 3.4h1m8.5-14.2h1m-15.9 15.6h1m28.2-24.2h1m-25.8 29.7h1m19.1-25.2h1m12.7 7.8h1m-56.6-0.3h1m16.6 11.6h1m8.5 0.2h1m15.8-3.3h1m-21.2 1.6h1m9.5-0.6h1m-14.5-4.6h1m14.8-15.3h1m-22.7-3.3h1m24 0.1h1m-47.6 18.7h1m12.4-1.5h1m44.2 0.8h1m-21.1 3h1m-14-3.8h1m36.8-6.4h1m-15.1-4.2h1m-0.1-3.3h1m-19.9 26h1m11.8-2.6h1m-2.4-18.9h1m-27.5 9h1m26.5 6h1m-10.5 9.6h1m17-18.3h1m-0.8 6.4h1m-24.8 8.2h1m-0.5-24.1h1m8.7 8.4h1m4.7 5.8h1m-14.1-5.7h1m2.7 23.6h1m7.8-10.4h1m-3.3-5.6h1m8.1-9.7h1m-12.3 15.3h1m-14.8-1.9h1m-11.8-9.6h1m30.6 0.6h1m-15.1-8.6h1m-1.1 11.6h1m-0.3 7.9h1m-16.7 1.1h1m13.4-3.5h1m-28.1 2h1m26-11.8h1m-4.5-12.3h1m16.5 1.9h1m-8.9 2.7h1m-14-3.2h1m12.5-1.7h1m2.5 2.1h1m-2.3-3.3h1m-7.3 3h1" stroke="#333" stroke-width="0.8" fill="none" stroke-opacity="0.7"/>
<path d="M167.5 253L170 248L176 244.5L184 241.8L193 241L199 243L200.8 248.5L199.3 255L194 259.5L184 261L173 260.5L168 258Z" fill="#000"/>
<path d="M181 246.7h1m13.3 5.8h1m-8.8-6.1h1m12.5 6.1h1m-12.7 1.4h1m7.3-10.5h1m-21.7 17.3h1m14.2-0.7h1m-15.6-1.6h1m1.9-2h1m16.1-6.4h1m-15.2 2.6h1m14.2 0.6h1m-29.6-0.5h1m4.9 2.3h1m15.8-8h1m-20.1 2.1h1m0.6 6.3h1m16.1-0.9h1m0 3h1m4.9-12h1m-22.6 14.8h1m19.1-7.6h1m-4.8 0.5h1m-19.5 2.1h1m3.9 0.5h1m-8.4-0.4h1m21.6-10h1m0.4 3.7h1m-7.3 6h1m-12.7 2.7h1m15.8-9.2h1m-19.6 9.9h1m14-9h1m-20.6-1.7h1m12.1 12.8h1m5.1-9.7h1m6.9 4.4h1m-5.2-9.8h1m-26.4 14.6h1m20.2-13.8h1m-14.7 12.5h1m-2.7-14.4h1m18 1.3h1m-21.1 13.8h1m9.6-7.4h1m4.8-4.9h1m-1.5-2h1m-21.5 11.2h1m17.5-3h1m-7.7 3.1h1m19-9.7h1m-7.5-2.9h1m-3.4-0.7h1m-9.7 6.8h1m0 0.3h1m-1.8 3.3h1m5.3-5.2h1m-22.8 8h1m0.5-9.9h1m22.6-3.8h1m-28.4 14.2h1m31.4-2.7h1m-2.9-0.9h1m-28-3.9h1m19.1-0.7h1m0.5 3.8h1m-22.1 5.3h1m2.2-10.5h1m7.3-1.6h1m-12.5 4.9h1m0.3 5.3h1m19.6-7.1h1m-10.4 7.7h1m-4.2 5.4h1m5-6.1h1m10-10.3h1m-24.1 7.5h1m17-6.5h1m0.8 6h1m-14.9 5.8h1m-5.9 2.6h1m-1.6-11.2h1m14.5-2.5h1m-12.2 3.8h1m18.3-0.1h1m-28.5-2.9h1m14.5 0.5h1m13.6 3.7h1m-9.3 7.2h1m-12.2-8.2h1m1.4-7.2h1m-1.6 1.6h1m16.4 1.6h1m-35.6 7.4h1m12-5.7h1m12.9 5.2h1m-3.9 8.7h1m-11.4-1.6h1m13.4-20.1h1m-9.2 20.6h1m-14.4-12.9h1m-4.8 7.2h1m7.5-5.3h1m15.5 3.6h1m-0.1-11.2h1m-16.7 12.8h1m8 2.4h1m-6.7-0.7h1m-9.6-2.8h1m6.4 2.8h1m5.4-1h1m-10 2.1h1m8-3.8h1m-13.8 0.1h1m-5.1-0.3h1m18.1-14.4h1m3.7 14h1m-18.9 0.8h1m14.7-4.2h1m-4.5 8.5h1m-15.4-2.2h1m28-6.4h1m-7.3-6h1m-18.3 15.1h1m1.9 2.9h1m2.1-15h1m11.6 3.9h1m-12 8h1m1.7-15.1h1m5.8 10.7h1m-26.8 5h1m11.4 0.5h1m-13.6-6.4h1m6.9 4.5h1m-11.4-1.5h1m34.5-8.3h1m-19.6 2.9h1m12.8-9.3h1m-4 2.5h1m-14.2 13.3h1m5.9-2.9h1m-13.6-3.4h1m2.3-4h1m-2 5.5h1m-0.5-6.9h1m18.3 8.8h1m-5.5-5.8h1m-4.8 0.6h1m7.5-5.4h1m-0.5 0.6h1m-7.8 5.3h1m0.2-5.8h1m-21.7 10.2h1m-5-1.5h1m19.2-8.7h1m-1.1 11.6h1m9.8-12.8h1m-29.4 11h1m20.8 4h1m-11.7-8.1h1m9.7 9.1h1m-18.9-2.9h1m1.8-9.6h1m9.7 0h1m6.8 1.3h1m-2.5-2.9h1m-2.2 4.4h1m2.4 7.5h1m-2.8-4.1h1m-20.2-8.4h1m1-1.9h1m3 9.3h1m-8.8 0h1m15.7-11.6h1m-17.5 17.3h1m17.2-3.5h1m-5.8-4.9h1m-0.1 4.8h1m1.2-3.9h1m-12.4 1.3h1m-5.2 0.2h1m16.2-0.8h1m-8.2 2.6h1m5.9-8h1m-0.1 7h1m-9.4 4.4h1m5.5-4h1m-14.7-9.6h1m-10.6 7.5h1m9.7 5.1h1m19.2-5.6h1m-26.6-4h1m-5.2 7.5h1m9.5 6h1m-1.3-6.5h1m0.2-0.9h1m-4.4 6.5h1m15.4-11.1h1m-1.1 5.8h1m-10.5-3.8h1m-19.8 2.2h1m23.9-6.7h1m-14.1 6.5h1m22.8-3.7h1m-23.3-0.5h1m-4.6-2.7h1m1.6 16.8h1m-7.3-11.9h1m21.2-9.4h1m-15.4 22.9h1m17.9-18.6h1m-18.9 10.3h1m2.4 4h1m-9.2-0.6h1m12.5-4.1h1m1.5-7.9h1m-10.2-3.4h1m12.2 3.3h1m-25.7 13.3h1m4.4-1.2h1m6.7-3.3h1m8.3-4.3h1m4.2 0.1h1m-28.2 1h1m27.4-0.3h1m-16.6-8.4h1m-5.7 1.2h1m6.1 3.9h1m10.9-1.4h1m-19.5 5.7h1m2.6-9.3h1m-6.2 6.6h1m17.6-4.7h1m-29.1 9.2h1m17.7-8.3h1m-6.2 3.7h1m2.7 6.4h1m-8.8 0.5h1m1.6-6.1h1m-4.8-3.1h1m3.8 3h1m12.5-3.2h1m-5.1-5h1m-9.2 1.4h1m14.9 0.4h1m-11.1 6.4h1m-5.2-7.3h1m11.3 6.3h1m-12.3 3.8h1m-13.1-8.6h1m23.7 9.4h1m-24.7 3.2h1m-6.7 0.5h1m27.7-12.6h1m-22.1 6.3h1m7.4-10.7h1m4.1 10.7h1m10.3-4.4h1m-16.2-0.4h1m-5 6.1h1m11-0.9h1m-5.3 4.3h1m7.4-8.7h1m-14.5-0.3h1m0.5 6.4h1m7.8 0.1h1m-19-10.2h1m-1.9 11h1m18.8 2.8h1m-5.2-10.6h1m3.5 2.8h1m-3.2-6h1m-13.6 8.4h1m-1.9 3.9h1m1.9 3.3h1m1.7-6.4h1m-6.2-8.1h1m-3.3 12h1m11.2-1.2h1m-10.9-9.5h1m13 3.5h1m0.3-7.8h1m-16.1 11h1m17.9-7.2h1m-3.2 5.8h1m-9.1-4.2h1m-18.9 2.7h1m16-2.9h1m9.4 11h1m-6.7-12.7h1m4 6.8h1m-17.9 0.5h1m-7 6.7h1m12.2-11.9h1m-0.7 0.6h1m-8.9-0.1h1m-7.2 5.7h1m11-5.8h1m-9-3.7h1m10.4 17.5h1m-1.3-15.4h1m-6.3 0.2h1m-0.6 3.5h1m-12.7 11.4h1m-4.1-10.7h1m15.5-10.6h1m-8.1 11.5h1m9.2 2.9h1m-0.6-12.5h1m-23.7 13.8h1m7.7-9.2h1m20.6-6.3h1m-0.2 14.7h1m-19.4-5.9h1m2.2 7.7h1m-11.5-12.6h1m9.8 11h1m-3.7-3.5h1m14.6-2.6h1m-5.4 4.2h1m-5.4-2.6h1m1.5 7h1m-12.3-2.8h1m-3.6-5.3h1m7.8 9.8h1m8.9-11.9h1m-16.7 10.8h1m4.3-14.2h1m10.3 0.6h1m-11.8-1.5h1m-3.1 6.1h1m16.3-1.5h1m-16.3-7.6h1m-9.5 6.3h1m8 10.2h1m13.5 0.4h1m-27.5 2.8h1m13.4-6.3h1m1.9 1.2h1m-0.1-9.8h1m4.3 0.1h1m-19 11.9h1m17.8-11.5h1m-17.9 15.3h1m5.8-12.8h1m-9 5.6h1m12-5.3h1m-23.1 8.6h1m4.3-11.4h1m-0.9 2.9h1m-4 0h1m2.4 5.1h1m-7.7-6h1m27.8 2.4h1m-0.7-4.9h1m-6.2-0.8h1m-3.4 2.2h1m0.9 8.1h1m-6.7-1.2h1m-10.3 3.8h1m-4.8-8h1m6.1-4.4h1m-5.6 12.2h1m-10.1-3.6h1m13.3-10.4h1m-10.2 3.3h1m7-0.2h1m-6-0.2h1m-1.1-1.1h1m17.5 1.6h1m-21.8 9.4h1m4.6 3.4h1m9.3 1.1h1m-3.1-3h1m8.4-13.8h1m-26.2 9.4h1m12.1 1.8h1m-4.4 5.8h1m9.2-6.9h1m-19.5-1.8h1m17.6-0.5h1m0.8-3.8h1m-9.8 3.9h1m-4.6 6.7h1m-4-13.3h1m12 9.2h1m3.9-2h1m1.8-7.7h1m-18.5 14.6h1m11.1-16.8h1m-16.7 13.6h1m-4.7-3.3h1m15.5 2.2h1m-9.6-3.5h1m4.4 6.5h1m1.5 1.2h1m8.1-17.8h1m-31.1 10.3h1m15.8 6.1h1m-7.7-1.3h1m9.7-10.4h1m-10.9-1.1h1m1.9 7.8h1m3 0.4h1m-13-0.2h1m-0.2-4.3h1m17.3 3.6h1m-14.7 3.7h1m16.4-4.8h1m-20.4 10.4h1m4.7-14.4h1m-17.7 11.8h1m23.4-15.2h1m-23.9 11.6h1m1.2-2.5h1m14.8-2.5h1m4.5-5.8h1m-5.3 15.8h1m-1.4-10.2h1m0.8-4.8h1m-12.7 11.4h1m9.6-13.5h1m9.5 4.1h1m0.6 8.1h1m-24.5-11.5h1m20.7-0.8h1m-14.6 10.2h1m12 3.2h1m-23.3-2.6h1m22.8-6h1m-17.5-1.5h1m-4.6 0.8h1m1.7 2.1h1m1.7-5.7h1m0.5 14.1h1m-17.2-2.5h1m7.2-0.7h1m-6.6-7.1h1m15.2 11.4h1m2.1-5.8h1m-18.4 0.2h1m6.4-9h1m5.3 1.9h1m-2.2 0.4h1m1.9-2.9h1m-3.8 8h1m11.5-0.4h1m-4.9-4.4h1m-14.3-0.4h1m-9 8.7h1m-3.2-5.1h1m18 1.3h1m8.3-0.7h1m-4.1 3.5h1m-1.7 5.7h1m-8.1-12.5h1m-3.9 11.1h1m9.3-2.8h1m-15.3-13.5h1m-11.3 14.2h1m8.5-1.2h1m1.1-5.2h1m-9.1 6.5h1m3.4-4.3h1m-6.4-1.3h1m19.5-6.4h1m-7.8 6.1h1m-15.4 0.9h1m17.2 2.5h1m-18.9-2.6h1m-2.2 3h1m5.5 6.8h1m-6.4-4.4h1m18.9-6.7h1m-22.7 5h1m-4.7 3.3h1m10.8-6.4h1m8.2-8.2h1m3.1 16.8h1m2.3-6.3h1m-7.3-15.9h1m-15.8 20.7h1m22-11.3h1m-13 2.7h1m-14 6.3h1m13.9-14.8h1m-18.4 9.4h1m-4.7 1.6h1m26-9h1m-5.1-1.3h1m-19.1 12h1m-2.5 1.6h1m20.9-3.8h1m2.3 4.3h1m-0.8-11.1h1m-4.1 10.3h1m-14-8h1m10.4 4.3h1m5.7-4.5h1m-24.8 12.7h1m26.1-13.6h1m-31.5 14.7h1m28.6-10.4h1m-7.3-8.2h1m-9.4 21h1m-4.8-11h1m12.6-12.3h1m-19.2 13.6h1m-7 1.8h1m8.6-3.7h1m9-2.9h1m-1.9 2.7h1m-23.7 3.1h1m15.6-2.7h1m2.4 1.5h1m-4.7-3.7h1m2.3 3.9h1m-3.5-1.8h1m4.8-7.3h1m-10 16.8h1m-12-9.1h1m15.6-5.1h1m-15.5-2.3h1m16.1-0.7h1m2.6 10.3h1m1.3-6h1m-12.1 8.3h1m-4.3-4.9h1m-0.8 1.2h1m6.8 0.3h1m-4-8.2h1m-2.8 17h1m7.6-19.2h1m-19.9 4.5h1m-1.7 6h1m10.3-4.7h1m7.9-2.2h1m-19 0.3h1m-8.4 6.6h1m17.9-4.6h1m4.7-3.8h1m-20.4 4.8h1m2.8-3.6h1m12.5 4.1h1m1.4 6.4h1m-18.5-5.4h1m14.6-6.8h1m1.3 3.1h1m-18.8-1h1m17.5 7.9h1m0.1-14.8h1m-23.6 10h1m-7.4-0.5h1m16.4 2h1m-4.6-7.3h1m3.3-4.6h1m-17.1 17.4h1m6.8-1.8h1m-1.3-0.8h1m12.6-8.6h1m-18 7.2h1m0 1.1h1m-5.8 4.4h1m23.5-4.2h1m-3.1-7.3h1m-7.1 8.3h1m-2.5-10.4h1m-5.8 9.6h1m-6.4-8.1h1m7.6-0.6h1m2.7 0.5h1m-11.8 11h1m16.5 2.1h1m-13.9-6.4h1m15.2-9.9h1m-3.8 11.2h1m1.6-8h1m-6.6 12.2h1m-23.7 0.1h1m24.3-8.4h1m0 4.5h1m-18.1 5.6h1m23.8-15h1m-5.1 4.2h1m-14.1 6.5h1m13.5-9.2h1m-29.8 11.2h1m9.7-7.4h1m7.1 10.1h1m-3.3-2.6h1m8.8-15.6h1m-7.8 9.9h1m-20.3-4.9h1m23.9-4h1m0.2-0.5h1m-18.5 3.1h1m23.6-3.7h1m-5.3 7.5h1m-24.6-0.3h1m-2.1 2.1h1m13.7-2.8h1m3.2 7.6h1m-4.9-1.1h1m-7.3-12.2h1m3.8 5.6h1m-17.1 9.6h1m12.9-4h1m-13.9 5.2h1m16.5-11.4h1m3.4 12.9h1m-25.3-0.4h1m5.1-5.7h1m5.9 0.9h1m-15.5-1.2h1m4.3-10.2h1m16.6 5h1m-13.4 4.6h1m2 2.6h1m5.2 2.9h1m4.8-0.4h1m-14.1-0.2h1m8.8-7.3h1m5.4 2h1m-26.6-1.6h1m25 4.8h1m-13.6-9.9h1m-3.6 12.1h1m12.5-15.9h1m-8-1.4h1m6.6 1.3h1m-3.7 7.2h1m-11.4-7.9h1m1.3 13.7h1m-11 1.6h1m4-12.4h1m10.8 2.4h1m-2.3 9.8h1m0.1-9.4h1m-9.1 10.6h1m-11.4 1h1m13.9-12.6h1m-15.8 2.6h1m2.1 5.9h1m8.7-6.3h1m-14.3 11.4h1m1.8-8.7h1m16.1 1.1h1m-14.9 0.4h1m9.4-9.6h1m-13.4 0.5h1m-7.1 5.4h1m31.3-1.6h1m-8.3-8.7h1m-17.3 19.3h1m9.2-11.9h1m4.3 1.1h1m4.7 6.4h1m-10.8-13.7h1m-8.2 1.2h1m-7.4 12.6h1m4.4-2.2h1m-6.7 3.3h1m0.1-4.1h1m19 4.9h1m-5.3 1.5h1m0.1-9.7h1m-21.4-0.9h1m7.2 6.4h1m9.3-3h1m-13.9 1.9h1m-3.8 4.8h1m-2-6.6h1m-3.4-4.6h1m17.2-3.6h1m-13.8 17.7h1m-4.3-12.5h1m7.7-3.2h1m-14.1 6.3h1m8.7 8h1m14.1-3h1m-12.3-7.6h1m12.5-5h1m-18.1 1.8h1m-2.7 10.3h1m11.2-11.2h1m-16.5 12.2h1m20.7-3.4h1m-16.5-8h1m-2.5 14.7h1m4.3-12.9h1m-0.6 2.7h1m11.2-5.8h1m-20.4 13.3h1m7.2 2h1m-18.2-9.1h1m-1.3 5.2h1m-1.2 5.2h1m12.3-11.5h1m-5.7-1.6h1m14.4 8.4h1m-13.2-0.5h1m-11.6-6.1h1m15.2-5.7h1m2.8 1.6h1m-1.8 9.1h1m-2.9 6.8h1m-0.5-7.3h1m-2.3-2h1m-8.1 8.2h1m1.7-15.1h1m-10.5 12.9h1m8.2-8.7h1m2.9 2.6h1m-13 4.4h1m18.2 2.6h1m-11.1-13.4h1m-11.6 10.7h1m12.8-5.8h1m-20.1 4.9h1m20.6-8.7h1m-14.7 6.9h1m5.7 1h1m-12.4 6h1m5.8-6.1h1m23.2-8.6h1m-15 10.6h1m-17.2 0.8h1m16.6-7h1m3.5 5h1m-18-1.8h1m7 1.2h1m-16.2 2.7h1m15.3-3h1m-14.3-8.8h1m26.6 2.1h1m-30.3-0.5h1m-4.6 6.8h1m26.3 2.7h1m1.5-0.8h1m-4.6-6.8h1m-7.2 3.3h1m-5.2 0.8h1m5.7-8.3h1m-1.5 10.1h1m-15.5-8.6h1m21.5 0.1h1m-0.8 2h1m-0.4-0.1h1m0-1.1h1m-21.8-3.3h1m15.4-0.3h1m-0.4 6.6h1m-1.4 2.9h1m2.7-0.6h1m-22.1 8.6h1m8.6-12.1h1m-22.1 6.2h1m23-4.8h1m-6.8 8.4h1m-12 1.9h1m-5.8-4.8h1m16.8-4.5h1m0.6 2.2h1m7.9 1.1h1m-29 8.7h1m14-7.6h1m15.3-13.9h1m-20.8 9.2h1m7 10.4h1m-21.4-6.1h1m12.8-10.2h1m5.9 11.9h1m-7.6 2.6h1m14.3-7.1h1m-20.3 8.8h1m3.2-18.1h1m3.4 3.7h1m6.3 3.9h1m-3.1 5.7h1m0.3 1.4h1m-2.7-7h1m-5.9-3.6h1m12.9 6h1m-14.1-9.1h1m-1.7 12h1m-18 1.7h1m-4.8-2.4h1m23.4-11.9h1m-7.6 5.9h1m-3.5 6.6h1m-6.4-8h1m-6.6 0.8h1m19.4 11.3h1m-23.7-5.9h1m19.3-7.1h1m-11.3-2.5h1m6.7-1.8h1m-2 6.7h1m-2.4 6.4h1m-11-6.3h1m9-2.6h1m6.1-3.1h1m-22.9 6.6h1m12.1-1.6h1m-6.7 1.8h1m14.2-6.1h1m3.5 9.7h1m-9.9 6.5h1m-1-4.1h1m-0.7-9.6h1m-1.3 8.9h1m2.1-7h1m2.4-3.2h1m3.1 1.7h1m1.9 1.8h1m-12-3.6h1m-16.6 8.4h1m14.4 0.9h1m-4.4-4.2h1m-6.7 3.9h1m-11.5-5.6h1m13.8-3.4h1m-0.5 2.5h1m-17.3 12.6h1m2.3-5.8h1m8.6 4.6h1m-2.2-14.7h1m8.5 17.3h1m5.5-11.4h1m-8.3-6.4h1m-2.6 8.9h1m-13.2 0.6h1m3.4 2.5h1m-12.1 1.1h1m26.6-4.2h1m-3.4 2h1m-3-4.8h1m-1.8 7.2h1m-2.8-9.6h1m-0.4 10.1h1m-1.8-10.1h1m0.4 1.2h1m1.5-3.7h1m-14.6 6.1h1m9.9 5.8h1m8.3-10.6h1m-6.7 7.5h1m-5.7-0.9h1m-11.9-4.2h1m-1.7 8.7h1m0.4-7.1h1m17.9-11.4h1m-17.8 5.6h1m6.2 11.7h1m-7.5-11.4h1m-2.8 1.2h1m0.4-2.2h1m-3.7 0.4h1m1 6.1h1m-10.5 8.1h1m20.6-6.8h1m-18.9-4.8h1m20.1 5.3h1m-20.6-10h1m9.4-2.2h1m-11.6 18.4h1m11.4-16.2h1m-8.1 8.3h1m8.5-2.1h1m-17.6 11.1h1m-5.1-4.7h1m5.6-2.9h1m-5.3 7.7h1m7.5-2.5h1m9-10.7h1m-7.8-4h1m-0.8 10.9h1m15.7-5.2h1m-33 2.3h1m22.1-9.7h1m-6 14.7h1m-5.6-10.6h1m7.2 1.6h1m-5.8-7.2h1m9 8h1m-5.2-2.8h1m-3.8-0.7h1m-19.2 4.2h1m-2.6 3.8h1m16 8.7h1m9-10.2h1m-27.5 4.7h1m0.8-0.1h1m14.4 1.7h1m-1.9-4.1h1m-12.3 6h1m14.1-7.2h1m1.7-4.3h1m-20.2-1.9h1m16.4 10.6h1m-24.4 2.8h1m25.9-4.4h1m-23.9 2.9h1m23.1-6.5h1m-4.7-1.6h1m-12.7 13.3h1m-4.7-6.6h1m5.7-2.1h1m11.5-12.9h1m-13.5 3.5h1m2.1-2.2h1m-12.4 9.5h1m22.9-5.7h1m-10.1 6.3h1m-2.1-0.2h1m-12.7-5.2h1m3-2.2h1m18.1 1.9h1m-31.7 6h1m6.4 2.1h1m12.3-1.9h1m-10 6.4h1m7.2-8.6h1m-13.2 7.8h1m19.8-16.3h1m-4.7 9.4h1m-13.8 8.8h1m12.9-12.6h1m-16.1 8.6h1m4.7-2.6h1m11.2-8h1m-5.5-2.3h1m-20.6 4.1h1m-8.9 9.2h1m23.1-13.9h1m-4.5 3.5h1m9.6 1h1m-23.2 9.7h1m15.5-2.2h1m-15.3-5.2h1m6.1-4.7h1m14.1 6.5h1m-13.6 6.8h1m-15.9-4.4h1m15-9.5h1m-4.7 4.6h1m-17.1 8.7h1m20.1-0.2h1m1.4-8.7h1m-3.1 2.8h1m-4 3.5h1m-10.9 5.3h1m5.4-14.8h1m2.5 16.4h1m2.3-19.6h1m-14.4 9h1m22.2 1.5h1m-24.6 4.5h1m-2-6h1m15.3 2.9h1m-0.9-0.1h1m-13.5-5.2h1m13.2-7.1h1m7.1 11.3h1m-6.7-7.5h1m-2.9 9.3h1m-13 2.1h1m4.5-16.1h1m4.9 4.8h1m-19.3 2.7h1m20.2 9.6h1m-17.5-1.2h1m7.1-7.9h1m-19.5 10h1m6.7-10.2h1m-2.6 6.4h1m12.6 4.1h1m6.3-10.9h1m-12.7 3.8h1m12.5-5h1m-6.3-2.2h1m3.1-3.3h1m-18.7 6.3h1m10.5 1.7h1m0.1-4.9h1m-20.2 11.1h1m6.7-4.5h1m13.7 3.7h1m-9.2-7.6h1m13.3-5.5h1m-18.7 8.8h1m2 1h1m4.1-2.4h1m1.3 12h1m-21.8-10.3h1m7 0.4h1m5.5-2.8h1m0.1 0.4h1m-17.5 9.8h1m19.4-8.6h1m-4.2-3.4h1m-0.5 4.1h1m-0.3 2.4h1m-13.3-9.8h1m0.7 6.4h1m14.1 4h1m-17.8 4.2h1m1.3-0.2h1m0.4 2.4h1m-10-11.5h1m3.8 4h1m0.2 0.8h1m11.9 0.5h1m-9.8-5.6h1m-9.6-0.2h1m10.5-1h1m-1.6-5.1h1m-6.1 6.6h1m2.3 9.7h1m-16.3-9.9h1m24.4 7.3h1m-3.6 0h1m-15.4-5.8h1m-3.7-3.4h1m12.8 8.1h1m2.9-1h1m-26.9 1.6h1m16.6-2.1h1m9.5-11.9h1m4.4 8.7h1m-21.7 9.8h1m3.7-16.1h1m-9.6 7.8h1m19.4-6.4h1m7-0.1h1m-13.5 5h1m-4 0.2h1m-1.2 8.4h1m5.3-0.5h1m-13-12.2h1m7.9 17.3h1m-0.1-18.1h1m1 10.5h1m-3.2-1.1h1m-1.8-4.1h1m-13.8 6h1m6.4-15.8h1m-14.2 17.9h1m13.7-13.6h1m-8.6-1.5h1m1.7 4.7h1m10.4 12.9h1m-16.3-15.5h1m8.2-2.7h1m10.3 10.4h1m-6.2 5.8h1m-13.2-13.4h1m-13.6 9.5h1m16.1 3.1h1m3.5-14.5h1m-5.2 7.8h1m3.8 0h1m-8.8-8h1m-6.3 5h1m14.8-0.9h1m1 3.7h1m-9.7 0h1m-6.3-1.9h1m8.9-6.4h1m-16.8 12.6h1m16.6-8h1m-19.1-1.8h1m17.3 6.5h1m2.4-6.5h1m-14.6 11.4h1m-5.1-10.6h1m19.6 2.4h1m-3.2 4.3h1m-11.6-2.5h1m-7.1 5.3h1m0.2-10.5h1m12.4 8.6h1m2.6-4.9h1m2.2 2.6h1m-11.2 2.8h1m-15.9-4.9h1m-7.2 1.8h1m8.4-6.5h1m13.2 12.3h1m3.7-10.2h1m-3.3 14.1h1m-3-15h1m-12.8 6.9h1m-2.2 4h1m9.5 0.5h1m1.7-8.2h1m-8.5 13.9h1m-12-7h1m-1.2-5.2h1m22.2-0.2h1m-26-2h1m16.7 8.8h1m-2.4-9.5h1m0.5 7.8h1m-12.8-8.3h1m5.2 11.5h1m-3.9-5.6h1m6.2 4.7h1m-20.6-2.2h1m16.4-10.9h1m-0.7 13h1m0.6-1.2h1m-2.1-3.8h1m10.3-3.1h1m-29.5 1.4h1m12.6-2.8h1m11.5-0.9h1m-23.7 2.2h1m-4.1 3.3h1m5.4-4.5h1m9.6 7.3h1m-21.2-2.4h1m15.2-4.7h1m-3.8 3h1m10.1 5.8h1m2.5-5.5h1m-21.7 0.6h1m4.7-6.3h1m12.6 5h1m1.2 8.1h1m-21.1-9.1h1m3.7 1.3h1m6.4 3.4h1m8.9-3.3h1m-19.2 5.5h1m-13.8-2.3h1m29.3-9.1h1m1.9 3.2h1m-22.3 10.4h1m15.1-16.3h1m-23.5 15.7h1m4.4-10.6h1m-8.7-0.4h1m1.4 4.2h1m-2.5-0.9h1m19-1.3h1m-6.5-4.6h1m-10.9 8h1m1.9-5.7h1m-2.8 6.9h1m3.3-5.5h1m-7 3.9h1m-2.1 1h1m-3.8-6.6h1m10.7 12.5h1m-17-9.5h1m15.6 4h1m-13.4-5.9h1m22.2-4.5h1m-21.6 3.4h1m14.8-1.8h1m-16 8.4h1m3.8-7.7h1m11.2-2.4h1m2.6 4.5h1m-0.1 9.3h1m0-6.3h1m-26.9-5.2h1m14.3 5.6h1m-8.6-9.3h1m-4.2-0.1h1m16.3 14h1m-15.5-12.6h1m0.8 2.5h1m3.6 10.5h1m7.7-0.7h1m-17.3-11.9h1m-8.5 5.4h1m19.5 9.9h1m-22.9-9.7h1m-2.5 4.5h1m25.5-5.5h1m-6.6 2h1m-0.4-8.5h1m-5 1h1m15.2 2.5h1m-24.5 14.7h1m-0.8-5.7h1m19.7-5.5h1m-19.3 3.8h1m-4.8-9.1h1m14.2 5.2h1m1.7-0.7h1m-7.7 0.6h1m-10.4 0.2h1m11.2-1.8h1m7.8 2.8h1m-28.5-6.9h1m-0.1 11.5h1m2.9-3.8h1m2.4-3.2h1m14.3 3.9h1m-20.8-10.4h1m-2.7 5.1h1m11.7 8.2h1m-2.9 1.8h1m5-2.2h1m-19.9-0.3h1m0.7 2.3h1m12.4-9.6h1m-1.8 5h1m-2-5.2h1m-14.6 9.1h1m20.6-13.1h1m-20.7 4.7h1m19.4 0.4h1m-19.7 3.8h1m-6.6-3.8h1m11.9 8h1m12.6-7.1h1m2.2-2.4h1m-11.2 2.6h1m2.4 2.4h1m3-7.2h1m-20.1 4.4h1m11.1-1h1m3.2 0.2h1m-25.2 5.8h1m22.1-2.4h1m-9.1-2.5h1m7.9-3.9h1m-21.2 2.5h1m25.5 1.8h1m-26.9 0.9h1m20.2 6.2h1m-7.4 1.9h1m-13.8-13h1m16.7 2.7h1m-7.6 10h1m-0.4 1.4h1m-22.4-5.5h1m16.6-7.4h1m-8.9 8.2h1m18.5-4.1h1m-20.9 2.8h1m18-2.5h1m-27 3.9h1m19.8-0.2h1m8-1.8h1m-14.6-4.5h1m-11.7 7.5h1m-3.1 4.8h1m1.2-0.4h1m3.1-13.5h1m16.1 4.3h1m-27.4 7.2h1m16-6.5h1m-7.2 7.8h1m5.9-17.1h1m7.6 10.7h1m-20.8-2.9h1m-2.1 10h1m6.2-12.8h1m-0.6-3.8h1m5.5-0.3h1m-13.9 7.2h1m13.6-1.3h1m0.9-0.3h1m6.8-7.9h1m-14 9.8h1m-7.5-6.7h1m-0.9 3.1h1m7.9 12.8h1m3.8 1.4h1m-17.2-8.7h1m18.6 1.6h1m-18.3-3.2h1m-11.8 7.4h1m5.3-2.9h1m-5.8-2.4h1m10.7 2.6h1m5.2-0.8h1m6.4-8.9h1m-17.8 15.1h1m1.1-5.9h1m2.8 3.9h1m3.1-1.4h1m2.3-10.5h1m1.3 12.9h1m-2.4-5.7h1m2.7-3.8h1m-0.7 2h1m-5.1 1.9h1m-9.7-7.8h1m-13.6 11.9h1m7.8-2.3h1m-0.3-1.2h1m10.9-2.8h1m-12.2-5.3h1m-5.1 1.1h1m17.4-1h1m-22.8-0.1h1m-3.1 1.2h1m8.1 0h1m3.5 0h1m-5.2 6.3h1m-9.9-5h1m23.7 2.7h1m-11.1 5.1h1m1.3-5.9h1m3.8 5.7h1m-28-1.7h1m4.7 5h1m10.1-2.3h1m6.3-10.5h1m-14.4 8.1h1m2.8-0.9h1m-5.7 1.8h1m20.2-8.6h1m-21.5 10.6h1m1.7-1.8h1m-6.4 0.5h1m18.4-1h1m2-8.6h1m-15.7 10.2h1m6.6-5.5h1m-10.3 2.4h1m-1.7 5.8h1m-0.7-13.5h1m15-5.1h1m-16.2 13.6h1m1.3 5.5h1m0-7h1m-9.1 0.6h1m8-3.5h1m4 0.1h1m-2.3 0.2h1m-2.1-7.5h1m-12.2 6.2h1m18.6 4h1m1.1-2.2h1m-0.8-5.2h1m-11.1 7.9h1m-3.1-2.1h1m-20.1 1.9h1m25.5 5.7h1m-10.3-3.6h1m3.3-11.3h1m-8.8-1.3h1m7.2 12.7h1m2.4-13.1h1m-20.3 0.4h1m24.3 5.2h1m-30.3 6.7h1m11.7-6.1h1m-3.2 1.8h1m12.7-0.5h1m-19.8 4.6h1m4.8-9.2h1m18.8-2.8h1m-23 0.3h1m13.4 12.2h1m2.1-8.2h1m-4.6 8.5h1m0.6-7.4h1m-16.2 5h1m15.8-7.4h1m-6.5 11.4h1m-2.1-3.9h1m-8 1.8h1m-5 3.6h1m9.2-15.9h1m-22.4 8.9h1m12.2 1.9h1m8.5-3.7h1m-22.7 1.5h1m7.5 0h1m17.4-2.6h1m-9-1.2h1m-23.4 5.5h1m8.3 4.8h1m4.1 0.2h1m9.3-3.7h1m-6.2-10.1h1m-17.6 11.1h1m3.5 7.2h1m12.5-18.7h1m9 2.7h1m-6.6 3h1m4.3-4.5h1m-17.3 5.2h1m-8.3-0.5h1m26.2-0.9h1m-22.7-2.3h1m1.9-0.6h1m3.3 11.2h1m5.6-16.1h1m5.2 7.2h1m-18.9 1.5h1m18.1 1.8h1m-15.9-5.7h1m2.1 8h1m-8.2 2.7h1m7-6h1m9.6-0.7h1m-26.2 6.5h1m2.3-9.3h1m4 10h1m7.6-10.4h1m-4.3 6.7h1m-17.4-7.7h1m15.3 3.9h1m5.6 5.9h1m-3.4-0.7h1m-18.8-3h1m4.7-8.5h1m-1.3 14.7h1m3.7 1.7h1m0.8-7.2h1m1.3-11.1h1m3.9 13.3h1m-18.9-7.8h1m9.3 7.8h1m-8 2.3h1m-9.9-3.6h1m6.1 1.9h1m3.5 1.8h1m13-11.8h1m-4.6-2.8h1m-7.2 16.4h1m-6.5-13.2h1m4 2.6h1m9-1h1m-26.3 5.9h1m22.8-9h1m6.4 0.8h1m-17.6-5h1m3.6 4.9h1m-12.2 6.3h1m-1.3-0.4h1m19.4-7.8h1m-23.1 14.9h1m-5.7-4.3h1m-1.6-7.4h1m11.9 11.9h1m-16.7-6.3h1m2.7-1.2h1m13.8 0.7h1m4-9.8h1m-10.9 2.9h1m-3.8 11.3h1m12.4-5.2h1m2.6-8.7h1m-4.3 5.5h1m-15 14.2h1m-5-17.8h1m25 3h1m-24.8 6.1h1m4.4-3.4h1m5.2 6.8h1m-4.3-8.4h1m-8.2 8.4h1m9.1-9.3h1m6.2-4h1m0.1 6.1h1m-6.5 8.3h1m-8-5.2h1m-2.7-4.5h1m13.8 2.8h1m-23.6 2.5h1m9.8 1.2h1m13.4-2.7h1m-19.1-6.6h1m2 8.9h1m0.5-11.6h1m2.7 8h1m-4.7-0.7h1m2.3-3.3h1m2.2-4.2h1m-4.1 9.3h1m-12.1-4.2h1m18.7 9.5h1m-15.5-7.7h1m13.7-2.1h1m-21.3 14h1m-1.3-5.1h1m7.5-7.6h1m-8-3.7h1m-4.6 2.8h1m2.5 1.6h1m13.4 6.2h1m-5.1-4.4h1m-6.5 5.4h1m1.4-2.9h1m-12.6 5.9h1m20.9 0.9h1m-24.7-3.7h1m8.1-4h1m14.9-7.4h1m-13-3.9h1m-11.8 11.2h1m23.4-4.6h1m-16.4-6.5h1m9.5 6.5h1m-19.1 2.2h1m9.4 3.9h1m5.7-0.7h1m-25.8-2.6h1m21.1-1.2h1m-2.7 6.9h1m-22.4-0.9h1m13.6-1.4h1m10.8-15.6h1m-1.1 12.7h1m-11.7-6.6h1m2.2 7.7h1m-4-2.6h1m7.4 8h1m-19.6-4.6h1m25.2-2.2h1m-16 6.1h1m3.9 2.6h1m1.5-10.4h1m-8.3 7.3h1m-13.3-11h1m2.1 10.9h1m5.2 1.4h1m-2.8-0.9h1m-2.6 3.9h1m22-12.9h1m-13.9-7.6h1m-5.7 16.2h1m-0.5-7.4h1m2.6 5.7h1m-15.2 1.3h1m20.6-5.9h1m-13.7 3.9h1m-3.5-2.2h1m-10.7 4.1h1m9.3 0.1h1m9.8-14.1h1m-19.7 8.2h1m11.4-1.2h1m4.8 9.2h1m-21.3-4h1m3.9-7.5h1m-2.2 1.2h1m18.6 1.3h1m-17.2 9.4h1m16.3-2.4h1m-1.3 3.8h1m-10.3-15.9h1m5.1 4.9h1m-19.1 2.7h1m14.3 8.5h1m4.1-18h1m-17.1 21.1h1m0.1-13h1m15.9 3h1m-29.2-1.8h1m18.4 2h1m-3.7 0.6h1m8.7-11.4h1m-21.2 6.7h1m21.1-5.3h1m-1.5-1.2h1m-19.1 14.4h1m-6.2-0.9h1m22.2 2.1h1m1.6-2.1h1m-2.2-14.6h1m-14.1 15.4h1m-3.5-6.8h1m-10.3 10h1m3.8 0.9h1m24.3-10.2h1m-3.4-4h1m-20.7 13.4h1m11.7-0.5h1m-15.9-4.2h1m20 0.9h1m-13.8 3.4h1m6.1-0.8h1m-24.3-11.1h1m22.7 8.7h1m-11.2-12.4h1m15.6 3.1h1m-8 3.7h1m3-0.6h1m-18.8-1.5h1m7.7 12.4h1m2.9-15.4h1m7.9-3h1m-8.5 6.6h1m4.7-2.2h1m-25.2 16.2h1m23.8-6.9h1m-13.9-4.4h1m2.3-4.9h1m-5.7 0.2h1m4.2-3.3h1m-9.4 0.9h1m15.9 0.7h1m-23 8.8h1m6.4-5.3h1m7.5 5.5h1m3.3-11.4h1m-9.8 0.6h1m-14.1 3.5h1m10.3 4.1h1m-18.8 0.2h1m27.2-0.5h1m-20.8 2.7h1m-5.1-0.6h1m10.1-2.8h1m17.2-1.5h1m-31.4 0.2h1m10.8-6h1m8.1 8.7h1m0.7 2.9h1m-13.4-2.6h1m0.2-11.7h1m-2.6 15h1m3.8 0.5h1m4.4-2.1h1m0-7.1h1m-7.3 12h1m-9.5-9.6h1m20.5-8.9h1m-15.3 6.6h1m-5.2-1h1m7 16h1m-1.5-7.7h1m3.3 4.6h1m0.7-8.5h1m-21.3 2.3h1m-1.7-2.6h1m11-0.1h1m9.5-9.9h1m-5.7 9.5h1m-16.2 1.3h1m9.3 1.5h1m-8.9-5.9h1m1 3.5h1m-2.6-3.3h1m17.6 8.5h1m-6.8-12.8h1m2.4 5.6h1m8.1-1.9h1m-21.3-2.1h1m6.4 8.2h1m1.9-1h1m0-3.8h1m-8 6.5h1m4.9-4.3h1m-15.9 11.2h1m-9.4-14.4h1m9.5-5.3h1m-8.5 14.4h1m-1.7-4.4h1m13 4.6h1m-0.6-3.7h1m-15.1-1h1m9.5-4.9h1m-8.3 10.4h1m0.1-9.2h1m4-5.1h1m13.3 1.3h1m-11.9 3.4h1m14.5 10.4h1m-5.7 0.1h1m-7.5-1.8h1m7.4 0.1h1m-25.9-4.6h1m16.1-1.7h1m-8.4-2.3h1m-11.3 10.4h1m29.5-12h1m-24.2 11.8h1m-5.1 1.3h1m20.3-10.1h1m-26.2 8.2h1m1.2-9.5h1m-4.7 14.7h1m8.2-10.8h1m12.5-7.8h1m-4.6 11.8h1m12.1-6.7h1m-23.7 0h1m7.8-0.8h1m-7.1 4.5h1m12.2 3.1h1m-7.1-12.6h1m-2.2 0.8h1m-14.8 16.4h1m13.4-4.4h1m0.1-2.4h1m-19.6 1h1m7.9 3.3h1" stroke="#000" stroke-width="0.9" fill="none"/>
<path d="M183.3 251.3h1m3.4 8.6h1m10.3-5.2h1m-17.9-8.2h1m5.1-1.3h1m-1.6 1.1h1m-5.1-2.8h1m-10.6 3h1m-3.3 9.1h1m8.9-1.1h1m8.1-1.4h1m-5.2 4.8h1m9-6.5h1m-1.5 1.9h1m-7.1 6.8h1m-18.1-0.6h1m16.8-15.7h1m-14.1 14.1h1m17.8-3.1h1m1.2-6h1m-17.3-1.3h1m-8.4-0.4h1m-3.4 12.8h1m14.9 0.2h1m-17.1-6.6h1m9.3 5.7h1m-15.3-6.1h1m15.9-11h1m-2.7 4.7h1m10.8-1.9h1m1.7-1.1h1m-15.2 14.4h1m7.5-5.8h1m2.8-0.4h1m3.4-2.6h1m-20.2 6.9h1m-6.3 1h1m9.5-10.4h1m-16.2 6.5h1m8.5-10.3h1m-3.8 6.2h1m-6.4 5.6h1m4.6 4.4h1m-0.6 0.9h1m4-1.7h1m-15.5-1.7h1m14.7 2.2h1m9.3-6.4h1m-5.9 3.3h1m-3.9 0.3h1m-4.6-10.5h1m-8-0.6h1m10.3 5.2h1m-2.2 0h1m0.3-7.2h1m-9.1 8.9h1m6.9-2.2h1m-19.5 5.2h1m14 5.3h1m-6.3-5.7h1m-11 0.1h1m-0.2-1.4h1m17.9 2h1m-5.4-4.6h1m-6.6 1.1h1m-2.6-5.2h1m15.9 11.1h1m-6.8 0.7h1m-3.6-16.2h1m11.4 7.5h1m-22.8-4.6h1m17.6 7.4h1m-24.1 0.4h1m24.6-4.5h1m-21.3 0.3h1m2.9 0.4h1m7.8-1.9h1m-13.1 9.6h1m-0.2 0.4h1m-0.5-2.6h1m2.4 2.1h1m4.6-2.6h1m-15.5 4.1h1m20.7-6.8h1m-6.6-5h1m-13.8 5.6h1m4.6-8.5h1m13.5 11.8h1m-23.8 4.3h1m11.6-9.2h1" stroke="#fff" stroke-width="0.8" fill="none" stroke-opacity="0.55"/>
<path d="M163.9 247.4h1m-10.7 7.5h1m9.2-2.9h1m-10.7-1.1h1m14.2 3.1h1m-14.1-3h1m6.1 0.1h1m-6.5-3.1h1m2.9 0.8h1m-6.8 2.3h1m2.5-4.2h1m-1.4 9.8h1m-0.8-5.3h1m1.9-2.4h1m-6 5.4h1m-0.5-7.1h1m-5 7.3h1m3.7-3.4h1m-2.4 6.3h1m4.5-8.5h1m-1.8 0.6h1m-6.6-1.6h1m3.6-1.4h1m2.5 5.2h1m-7.1-4.5h1m-4.8 4.8h1m13.5-3.4h1m-8.6 5.9h1m-0.4-12.6h1m6.2 10.4h1m-14.2-1.3h1m3.4-0.2h1m-9.8-2.2h1m8.5 8.3h1m-1.3-7.5h1m-5.8 2.9h1m-1.2-2.4h1m1.7-0.3h1m-1.2 1.5h1m6.2 2.1h1m-8.3-6.3h1m-0.7 2.3h1m-1-3.3h1m-6.7 6.3h1m3.4-4.3h1m-4.4 0.3h1m4.9 4.9h1m-10.3-2.3h1m3.3 1.4h1m4.5-1.9h1m-10.4 2h1m1.1-1.2h1m9.3-4.2h1m-10.4 4.7h1m4.3-2h1m0.3 0.4h1m-6.5 1.8h1m-3.5-2.9h1m11.9-1.8h1m-9.4 7.9h1m3.3 2.2h1m-6.1-7.6h1m3.5 5.2h1m-7.7-2.6h1m-1.2-3.6h1m0.3-0.7h1m0.6 1.9h1m-1-0.5h1m0.2 0.4h1m2.1 0.7h1m-4.9-3.5h1m4.9 6.9h1m-7.4-6.9h1m4.3 0.2h1m1.6 7h1m0.7-0.6h1m-15.9 2.4h1m13.9-4.6h1m-15-2.7h1m11.7 6.2h1m-6.7-4.3h1m0.5-0.1h1m-6.2-2.5h1m6.5 4.3h1m-2-9.6h1m-5.9 10.1h1m-1.3-8.9h1m4.9 10.1h1m-0.3-8.5h1m-2.1 7.8h1m-5.6 6.3h1m0.6-9.6h1m2.7-3.1h1m-1.4 10.8h1m0.2-8.3h1m-5-2.4h1m-4.3 8.3h1m2.9-14.3h1m-0.3 4.7h1m-5 0.6h1m3 2.2h1m-6.2-4.7h1m3.4 10h1m-4.4 0.7h1m9.8-3.8h1m-4.7-1.2h1m-4.7-4h1m-7.3 7.1h1m-0.6-4.1h1m6.7 4.6h1m-4.4 1.4h1m0.8-3.4h1m-8.5-7.6h1m-0.7 4.2h1m5.4 8h1m-2.3-3.8h1m-5.5 4h1m1.2-12.8h1m5.3 7.4h1m-5.9-0.2h1m3.1-5.1h1m3.3 3.5h1m-6.3 5.7h1m-1.8-1.6h1m-3.9-3.7h1m6.2 3h1m-11.6 3h1m0.4-7.9h1m3.3 4.8h1m-6.8 2.6h1m8.8-6.1h1m-7.4 7h1m3.6-4.9h1m-4.4 4.2h1m-0.7-0.6h1m0-2.3h1m-8.9-2h1m2.5-1.3h1m1.5 2.9h1m9.8 0.2h1m-6.7 4.2h1m-1.3-5.3h1m-8.1 1.6h1m6.7 4.6h1m0.5-4.7h1m-3 0.4h1m6.5 4.1h1m-16.9-5.3h1m0.1 1h1m2.2 1.3h1m-3.8-3.1h1m3.1-3.4h1m0.9-1.3h1m-3.2 4.4h1m-0.5 4.7h1m0.2-0.5h1m0.5 2.3h1m-6.8-2.6h1m-1-5.4h1m6.4-2.8h1m-7.1 3.2h1m-3 0.9h1m3.5-1.7h1m-3.5 5.9h1m0.8-6h1m-1.7 4.8h1m1.8 0.7h1m0.1-8.8h1m-8 4.6h1m-2.5 5.8h1m10.2-1.4h1m-10.1-2.5h1m-4.4-4.3h1m-2.4 1.4h1m6.4 2.8h1m-3.4 4.1h1m-5.8-2.7h1m2.6-2.1h1m-1.5 1.2h1m7.2 1.9h1m-4-8.9h1m-2 2.7h1m-6 3.6h1m3.3 4.1h1m2.4-0.5h1m-3-6.5h1m2.6 2.8h1m-4.9-2.7h1m1.4 1.3h1m-1.9 1.8h1m-5.1-1.7h1m6.6-0.7h1m-4.9-2.1h1m0.8-1.5h1m-8.5 4.9h1m-1.1 1.3h1m2.6 1.5h1m-3.5-5h1m4.7 0.3h1m-1.8 6.9h1m2.2-2.9h1m-3.5 1.6h1m-7.9-5.1h1m7.3-0.5h1m-7.4-1.5h1m-1.3 7.5h1m2.2-7.4h1m-1.3-2.1h1m3.2 3.4h1m6.1 7.1h1m-10.6-4.4h1m3.2 0.7h1m-7.7-0.4h1m1.2-0.5h1m-4.4-0.5h1m-0.7-4.3h1m6.1 10.7h1m-4.6-6.3h1m-1 4.8h1m-6-9.7h1m9.1 7.3h1m-8.6-6h1m-2.9-0.4h1m1.6 5.5h1m1.7 2.6h1m-0.7 1.2h1m1.9-0.1h1m-11.1-5.6h1m1.5 3.7h1m7-4.9h1m1.8 0.2h1m-12.6 2.8h1m1.2-1.3h1m-6.8 3.4h1m1.9-9.4h1m-1.3 10.4h1m2.1-6h1m-5.3 7.2h1m7.5-1.2h1m-5-8h1m-1.8 3.9h1m3.7 2.5h1m-5.7-5.1h1m-4.9 0.1h1m4.1 1.6h1m7.5 3.6h1m-9.3 0.6h1m0.7-4.6h1m-3.8 4.3h1m-1.1 2.3h1m1.9-2h1m-13.6-5.7h1m4.6-0.4h1m1.6 3.9h1m0.3 1.9h1m5.8-1.4h1m3-2.8h1m-8.2-1.9h1m-2 7.7h1m0.2-5h1m2.3 7h1m-11-10.4h1m1 2.8h1m1.6-1.1h1m-0.5 8.7h1m-9.7-2.1h1m8.3-6.1h1m-9.1-5h1m8.4 10.8h1m-0.7-3.6h1m-13.4-4.4h1m10.1-1.3h1m-2.3 6.7h1m-4.2-2.1h1m5.2 1.2h1m3.2 0.8h1m-7-2.6h1m-7.3 0.3h1m-2.4 3.3h1m0.1-2.7h1m9.1-1.5h1m1 4.2h1m-6.7 3.6h1m6-2.4h1m-2.7-2.6h1m-3.7-1.2h1m0.3-0.4h1m2.1-1.4h1m-2.5 2.3h1m-6.1 2.7h1m0.7-2.9h1m1.6 7.6h1m2.5-4.3h1m-3.2-2.8h1m-3.1 1.4h1m0.7 5.1h1m-2.3-10.9h1m-1.7 6.7h1m0.5 8.4h1m-6.5-5.8h1m5.9-6.5h1m-2 3.5h1m-3.2-1.2h1m-1.9 10.4h1m-1.7-11.9h1m2.2 1.4h1m-1.3-0.2h1m-0.9-3.8h1m2.3-6.5h1m-9.5 10.6h1m2.2 2.6h1m-1.1-3.3h1m2.8 3.2h1m-3.6 0.9h1m-2.6-0.2h1m1.6-8.3h1m-0.6 11.1h1m1.6-2.2h1m-3.9-0.2h1m-2.6-2.8h1m-1.1 0h1m-1.7-1.9h1m1.9 3.3h1m-0.3 1.8h1m-3.3-5.2h1m-0.8 4.8h1m2.3-4.4h1m-3.8 3.6h1m-0.1-2.5h1m-4.5 3.5h1m0.1 3.6h1m-4.4-5.8h1m0.7-2.5h1m2.8 0.2h1m0.9 3.6h1m-4.3-3.8h1m-3 5.1h1m1.8-2.4h1m1.3 2.1h1m-3.9-5h1m1.4-1.4h1m-3.1 0.7h1m-3.6 4h1m-0.3-4.1h1m0.4 5.1h1m4.6-9.5h1m-4.7 4.8h1m-2.8 1.7h1m0.1-5.7h1m-1.1 4.2h1m-2.5-3.1h1m-0.2 5h1m-1.4-0.6h1m1.2 3.4h1m0.8-5.5h1m-1.5-2.7h1m-4.6 3.7h1m0.9 2.4h1m-3.8-0.2h1m-1.8 0.3h1m1.6 3.6h1m0.1-5.4h1m-2.4 0.5h1m0.9-2.2h1m-1 0.9h1m-1.1 5.6h1m-3-2.3h1m-3.7-10.3h1m5.9 13.2h1m-5.9-11.1h1m1.6 5.5h1m-1.5 4.8h1m-2.9-2.9h1m3.8 1.4h1m-3.5 1.1h1m-2.5-2h1m-1.9-5.3h1m-2.2 5.6h1m-1.7-3.7h1m3.1-5.9h1m-3.3 7.3h1m-1 2.9h1m1.1-1.5h1m-2.9-0.3h1m1.2 5.9h1m-3.8-5h1m-0.7 2.2h1m2.1-2h1m-4.5 4.5h1m1.8-6.9h1m-1.2 5.3h1m-2.1 2.2h1m-4.6-7.6h1m-0.2 4.9h1m-0.6-8.2h1m-1.4 5.7h1m3.7 1.5h1m-4.8-5.4h1m-1.8-3.3h1m0.6 6.3h1m-0.1-1.3h1m-4.4 1.8h1m3.9 0.4h1m-0.7 1.8h1m-3.9 2.5h1m2.1-3.9h1m-6.2-6.7h1m1.2 7.6h1m-0.2-1h1m-0.4-0.8h1m1.3 4.9h1m-4.2-4.5h1m-2.5-2.2h1m1.7 2.9h1m-1.2-7.1h1m-0.3 8.8h1m-2.7-3.1h1m0.1 5.6h1m-2.6-3.5h1m1.4-1h1m-3.6-0.7h1m-0.9-4.7h1m2.8 3.8h1m-5.2 1.3h1m0.7 2.4h1m0.2-1.9h1m-2.9 0.9h1m1.7 0h1m-4.3-4.2h1m2.5 2.9h1m-6.6-1.8h1m-0.5-3.6h1m2-0.9h1m2 8.1h1m-0.6 2.1h1m-6.4-0.1h1m0.8-7.8h1m-2 8.1h1m-4.5 0.2h1m5.2-8h1m-3.4 4.3h1m2.8 4.2h1m-3.4-5.6h1m-2.8 3.8h1m-1.3-6.2h1m0.1 1h1m0.4 4.2h1m-3.1-3.6h1m6.2 1h1m-6.7-0.1h1m8.3 15.7h1m16.4-7.2h1m-12.3 10.2h1m-2.3-6.1h1m-1.8-4.7h1m2.5 1.3h1m-7.8-3.5h1m11.3-0.4h1m-9.3 12.7h1m6.8-1.3h1m-12.5-9.1h1m-2 2.6h1m-0.3 10h1m6.9-11.4h1m-11.6 4.7h1m13.9 1.4h1m-9.1-3.5h1m7.4 0h1m-9.8-0.7h1m7.2 2.2h1m-13.6-8.2h1m-1.5 7.9h1m10.6 0.6h1m-8.9-7.3h1m10.1 8.7h1m-13.1-6.8h1m7.3-8.3h1m-10.1 3.4h1m-7.4 9.9h1m20.9 2.3h1m-12.3-4.9h1m7.1-5h1m-6.5 6.3h1m-14 5.3h1m13.5-4.7h1m3.8-7h1m0.4 9.5h1m1.4-3.3h1m-9.6 0.2h1m-4.4 1.1h1m0.2 2.5h1m-9.5-3.3h1m12.1-4.2h1m-1.1 4.2h1m-3.6 1.2h1m-8.8 5.1h1m8.8-11.8h1m-9.2 5.3h1m11.4-3.6h1m-13.8 5.6h1m-0.5-4h1m0.5-12.4h1m-5.9 19.8h1m-0.1-7.9h1m3.2-2.2h1m-16-2h1m29.8 2.2h1m-12.3-1.2h1m-1.5 5.7h1m-9.1 1.4h1m6.4-1.1h1m-2.4 2.1h1m-0.3-5.8h1m-11.9 7h1m8.4-3.4h1m-13.2 2.7h1m10.7 0.8h1m-5.8-4.8h1m0.9 7.9h1m1-2.2h1m7-5.9h1m1.7 10.6h1m-9.3-0.5h1m-8.6-15.6h1m16.7-3.5h1m-21 8h1m4.9 5.3h1m1.3 2.3h1m-4.6-1.3h1m13.3-3.4h1m-7.4 4.8h1m3.6-1.2h1m-10.5-5.6h1m7.1 3h1m-8.1 4.3h1m-0.9-8.3h1m2 0.1h1m-0.3-1h1m0.2 11.2h1m-6.4-3.9h1m-9.9 0.9h1m7.2-6h1m-17.4 1.7h1m15.6 6.1h1m-4.7-7.3h1m10.3 7.1h1m-25.5-5.8h1m31.7-0.1h1m-17.3 2.9h1m-9.6 1.4h1m13 4.4h1m-0.6-10.2h1m-1.4 9.9h1m11.1-11.9h1m-21.8-0.5h1m6.8-6.7h1m-2 15h1m-6.8 3.1h1m5.7-13.1h1m5.7 4.3h1m-15.6 0.3h1m8-6.3h1m2.9 7.9h1m-3.5 1.1h1m-16.6-3.9h1m12.1-2.5h1m-5.7 5.6h1m10.2 2.3h1m-10.4-9.8h1m13.5 6.4h1m-23.1 3.2h1m11-16.4h1m-10.6 15.3h1m17.4 6.8h1m-2.4-14.7h1m-18.3 12.7h1m10.6-7.8h1m-6.5 4.4h1m-12-3.8h1m3.1-4.8h1m6.9-2.7h1m1.9 19.9h1m-7.2-18.1h1m3.7 5.2h1m-0.9 8.3h1m-1.2-5.5h1m-11.2-0.6h1m8.2-10.7h1m1.7 6.8h1m-15-3.5h1m20-2.2h1m-1.6 10.5h1m-10 2.3h1m12.4-7.8h1m-21.1 0.5h1m-1.9 5.3h1m1.2 2.2h1m-1.7-9.4h1m16.8 10.8h1m-13.4-1.1h1m-1.8-4.6h1m1.9-5.4h1m7.6 8.2h1m-10.9 0.6h1m-4.8 5.2h1m3.5-11.5h1m5.9 10.7h1m-11.2-9.5h1m10.2 4.3h1m-8.7-3.1h1m-4.3 0.9h1m3.6 6.8h1m9.3-10.5h1m-16.4 7.4h1m10.3-5.4h1m-6.7 1.2h1m-3.8-3.4h1m-1.7 4.5h1m4.3-10.7h1m-2.4 8.5h1m-2.7 6.2h1m1-0.8h1m-11.5-12.1h1m0.4 2.4h1m-3.4 3.5h1m3.5 11.2h1m0-11.3h1m-2.1 2.1h1m5.2-1.2h1m-11.2 2.7h1m3.9-5.9h1m6.6 5.7h1m4.7 1.1h1m-12.3 2.8h1m6.9-9.5h1m0.2 8.8h1m-17.5 5h1m7.7-5.6h1m-9.9-0.5h1m3.6-15.3h1m4.5 18.5h1m-12.6 2.9h1m11.4-3.4h1m-5.6-3.5h1m-1.7 1.6h1m4.3 10.6h1m-10.3-18.2h1m-7.1 1.5h1m10.9 7.4h1m-6.1-4.2h1m2.6-11.9h1m-7.3 11.8h1m0.2 0.6h1m-1.7-6.3h1m-2.7 6.4h1m2.2-0.6h1m-0.8-10.1h1m4.6 11.4h1m20.6 8.1h1m-27.1-2h1m-7.7-14.2h1m14-1h1m-13.5 6.9h1m1.3 1.1h1m2.8-8h1m1.6 2.9h1m-0.8 10.4h1m0.2-5.5h1m-3.5 3.9h1m7.5-5.3h1m-2.9 5.3h1m-10.5-7.8h1m1.3 0.1h1m-8.9-2.1h1m12.9-4.8h1m-7 7.5h1m13.5-4.8h1m-18.7 4.4h1m14 3.1h1m-17.7 0.1h1m-6.2 1.1h1m4.6-3.9h1m7.3 1.7h1m3.6 6h1m-14-6.5h1m11.6 0.9h1m-11.2-12.3h1m-0.9 6.7h1m0.4 10.9h1m12.4-9.8h1m-11.1-1h1m-0.1 10.1h1m-13.5-10.9h1m10.5 11.1h1m-0.2-5.5h1m8.3-2.6h1m-18.2-7.1h1m0.1 16.8h1m-2.4-15.6h1m0.8 2.9h1m10.5 19h1m-19.2 1.6h1m14.7 4.9h1m-5.9-13.8h1m-3.1-4.2h1m-8 11.5h1m2.5-10.1h1m7.4 6.2h1m-12.3-2.4h1m13.5 3.5h1m-4.5-3.8h1m1.7 6.9h1m-3.8-9.7h1m2 19.8h1m-2.7-9.6h1m3-8.5h1m-5-2h1m-1.5 4.7h1m-12.1-1.7h1m-8.2-2.2h1m14.9 13.4h1m7.1-2.6h1m-17.9-12.3h1m-6.9 9.9h1m8.3-3.3h1m7.1 4.5h1m3.5-8.6h1m-11.6 16.8h1m-8.6-12.3h1m9 11.5h1m5.6-14.8h1m-7.6 10.9h1m8.6-8.7h1m-14.6 10.6h1m11.3-11.1h1m5.9-5.3h1m-24.6 0h1m0.1 2.6h1m12.6 7.5h1m21.1-1.4h1m-24.4-1.6h1m-5.7 5.7h1m10.9 3.5h1m-13.7-15.9h1m-14.5 12.1h1m5 7.8h1m19.6-17.6h1m-28.2 0.3h1m1.4 5.9h1m19-1.1h1m-7-4.6h1m8.5 2.8h1m-21.3 10.1h1m1.9-4.2h1m2.5-10.3h1m-9-5.4h1m8 3.6h1m-0.4 7.7h1m8.3-5.8h1m-9.6-0.3h1m-3.8 9.4h1m7-6h1m4.5-0.6h1m-1.6 3.5h1m-7.8 7.5h1m-6.9-6.9h1m-1.8 2.3h1m-8.5-3.6h1m11.3 8.8h1m-1.8-16.7h1m14 0.6h1m-13.8 3.7h1m3.7 15.2h1m4-2.9h1m-29.4-15.8h1m9.9 3.8h1m2.7 6.1h1m2.2-2.9h1m-12.3 4.9h1m16.9-8.3h1m-0.6-7h1m-4.6 13.7h1m0.6 3.8h1m-16.9-16.7h1m19-2.1h1m-16.7 8.6h1m-12.4-8.5h1m17 13.8h1m1.7-9.6h1m-10.9 11.4h1m-9.8-6.5h1m3.6 2.9h1m7.9 3.2h1m-22.4-5.2h1m31-4.9h1m-1.2 11.6h1m-11.6-14.3h1m10.1 17.2h1m-12-12.1h1m-9.7 0.5h1m14.9 5.6h1m-1.7 0.1h1m-14.3 0.5h1m-5.4-11.8h1m2.9 3.5h1m18.3 7.4h1m-14.2 0.1h1m26.9-2.8h1m-32.1 8.4h1m10.3-8.9h1m-3.5 6.7h1m-5.9 0.9h1m8.5-4.4h1m-16.2-3.2h1m6.2 5.5h1m-11-1.7h1m-10.1 1h1m19.2-8.9h1m-11.9 8h1m-2.4 6.8h1m15.9-11.3h1m-7.7 2.6h1m4-2.3h1m11 6.7h1m-14.9-17.6h1m1.5 21.9h1m-15.8-6.5h1m17.2-4.4h1m-0.8 3h1m-18.1 5.1h1m14.3-4.5h1m-4 1.8h1m-5.8 3.1h1m1.7-6.1h1m20 3.4h1m-28.6 4.4h1m1.8-5.5h1m2.9-7h1m-3.5 8.3h1m-15.8 7.6h1" stroke="#222" stroke-width="0.9" fill="none"/>
<path d="M178.4 258.2h1m10.6-5.7h1m-1.4-0.1h1m5.8 7.4h1m-20.3 6.3h1m4.8-8.5h1m9.7 4.8h1m-20.6 0.5h1m20-2h1m-11.8 7.1h1m21-2.7h1m-48-26.1h1m24.5 28.6h1m12.2-1.6h1m-34.6-7h1m6.8 7.6h1m17.2-8.5h1m-7.5 8.1h1m-6-9.8h1m8 15.2h1m-26.2-3.2h1m7.2-17.7h1m37.2 7.4h1m-36.3 13.7h1m15.1-2.9h1m-8.3-2.6h1m12.6-12.5h1m-8.9 4.5h1m0.1 8.2h1m10.3 1.3h1m-13.5-3h1m-31.1-8h1m14.5 5.9h1m30-2.6h1m-6.4-6.6h1m-20.3 0.7h1m-21.1 2.8h1m12-6.8h1m27.4 22.2h1m-0.7 1.2h1m-43.1-16.3h1m2.8 0.2h1m10.4 9.8h1m-12.4-7h1m20.8 1.5h1m-18.9 0h1m22.3-12.7h1m-11.3 28.2h1m-6.1-26.5h1m17-1.3h1m-4 23.2h1m-5.7-18.6h1m-8.4 21.2h1m3.7-7.1h1m-28.8 0.1h1m-1.5-7.2h1m18-10.1h1m11.1 2.2h1m23.1 12.6h1m-21.3-2h1m-21.5-10.8h1m6.4 0.7h1m-12.5 2.7h1m17.1 7.8h1m-1.7 4.9h1m-0.2 4.5h1m3.5-12.4h1m10.4 17.6h1m-6.3-7h1m-28.2 7.4h1m28.6-22.9h1m-28.5 14.2h1m19.7 4.9h1m-5.3-27.8h1m22.5 26.2h1m-27.4-5h1m-0.9 5h1m-3.6-7.3h1m15.8 9.5h1m-9.2-15.3h1m-9.5-0.9h1m15.3 12h1m10.7-20.1h1m-2.9 24.8h1m-31-0.3h1m5.5-1.4h1m2.8-17.1h1m-28.6 19.4h1m49.6-7.3h1m-47.6 4h1m26.1-9.5h1m-25.1-3.7h1m19.1-2.6h1m9.3 0.9h1m-5.5 14.6h1m-21.4-16.2h1m2.1 1.5h1m22.4 9.2h1m-15.7-5.7h1m1.7-17.4h1m11.1 13.5h1m-52 2.9h1m39.9 19.1h1m13.9-9.1h1m6.7-16.2h1m-17.2-1h1m-22 6.3h1m24.1 6.6h1m12.4-9.7h1m-38 11.7h1m-2.3-17.8h1m7.5 16.8h1m-4.9 8.3h1m-25-37.2h1m-5.8 25.4h1m14.6 2.8h1m9 1.9h1m14.7-3.4h1m-15.2-1.6h1m9.4 3.3h1m16.5-1.6h1m-8.2 14.2h1m-28.3-5.4h1m28-1h1m-15.7-15h1m4.1 1.4h1m8.2 14.9h1m-3.8-20.3h1m-31.8 20h1m1.5-22.9h1m19.8 33.6h1m5.4-8.6h1m-2.5-16.5h1m-15.2-15.2h1m-2.8 19.2h1m16.6-18.2h1m-7.7-5.2h1m-11.1-5.1h1m25.8 4.5h1m-18.4 4.1h1m-2.6-1.7h1m-9.2-4.1h1m9.2 2h1" stroke="#333" stroke-width="0.8" fill="none" stroke-opacity="0.7"/>
<path d="M259.5 267.5L288.5 266.8L288 272.5L286 281L282 288L268 289.5L263 284.5L259.5 276Z" fill="#000"/>
<path d="M267 271.7h1m2 0h1m7.4 4.6h1m-3.4-3.6h1m4.2 8h1m1.1-7.1h1m-17.2-0.4h1m8.8 18.5h1m-0.9-20h1m-7.9 8.6h1m-3.2-11.1h1m3.3 7.5h1m4.3 3h1m-8.8-0.9h1m-10 6.3h1m11.6-2.5h1m-2.6 0.7h1m11.1-2.3h1m3-10.5h1m-2.5 11.7h1m-24.4-11.7h1m13.9 5.2h1m-14 2.1h1m15.9-7.1h1m-20.8-0.3h1m15.6-1.9h1m5.8 4.8h1m-7.4 11h1m-14.5-5.9h1m-0.8-5.4h1m10.8 18h1m7.1-14.7h1m-3.8-2h1m-25 2h1m17.1 8h1m-16.2-16.3h1m0.3 2.6h1m1.3 13.9h1m2.1 2.2h1m4.9-9.1h1m0.4-7.1h1m3.8 16.4h1m-10.1-20h1m-6 15.6h1m-1 4.4h1m15.9-13.9h1m-18.2 3.7h1m9.4-2h1m-5-6.7h1m2.8 11.3h1m10.1-6.9h1m-3.7 3.6h1m-4.6-2.4h1m-7.7 12.4h1m5.7-14.4h1m-15.9-2.6h1m8.7 15.7h1m-10.7-17.4h1m-6 13.7h1m17.5-9.9h1m4.2-4.2h1m-13.8 17.2h1m-3.9-4.7h1m9.4-3.2h1m-8.2 12.3h1m-9.5-15.1h1m13-0.3h1m-5.2 13.3h1m-2.3 3h1m-5.9-3.9h1m2.8-2.3h1m6.2 0.4h1m-14.9-9.1h1m5.1 6.8h1m-9.3-4.7h1m8.8 1.4h1m3.2-12.8h1m-3.1 6.1h1m12.5-3.7h1m-21.3 8.7h1m-3.7-0.2h1m-2.7 5.7h1m13.1-1.9h1m4.3 1.1h1m0.9 1.9h1m0-13.5h1m-20.2 8.5h1m17-9.2h1m-6.2 3.3h1m-13.2 1.5h1m14.2 10h1m-16.3-1.4h1m5.8 5h1m-11.5-18h1m2.6 9.9h1m-3.3-12.2h1m18.8 7h1m-12.6 11.8h1m5.8 4.2h1m-17.6-4.6h1m0.3 0h1m6.9 3.9h1m-1.3-0.8h1m-0.7-22.2h1m3.5 6.9h1m6.5 10.3h1m-14.2-11.7h1m-6.3 17h1m2.9-9.4h1m-4.7 5.8h1m-3.1-7.8h1m2.6-8.8h1m5.5 10h1m-6.3 2.5h1m-0.2-9.4h1m2.6 10.3h1m11.5-13.4h1m-16.3 18h1m2.7-14.5h1m4.4-0.7h1m3.6 6.7h1m0.7-7h1m-21.1 10.4h1m8.9 9h1m5.5-8.9h1m-13.6-9.3h1m3.9-1.5h1m3.5-2.3h1m-15.9 11.8h1m4 6.9h1m9.6-10.1h1m-8.5 11.3h1m13.4-15.8h1m-7.2 7h1m-1.4 7.2h1m-8.7-13.3h1m-2.2 11.9h1m13.7-1.9h1m-15.5 6.9h1m-3.1-13.8h1m-1.6 8h1m5.4 2.8h1m-14.6-20.2h1m14.9-0.6h1m-14.6 15.3h1m5.6 4.4h1m-6.7-2.3h1m2.3-1.5h1m-4-3.2h1m7.3 1.6h1m9.6-5.9h1m-15.1 0.2h1m6.6 7.5h1m-11.3-7.8h1m-4.1-2.1h1m17.6 14.5h1m-8.8-3.9h1m1.9-3.2h1m2.6-2.8h1m-9.8-8.9h1m3.2 5.7h1m-3.2-4.2h1m2.6-3.4h1m-3.7 1.8h1m4.2 14.6h1m-4.5 3h1m5.2-9.7h1m-13.9 13h1m-4.3-4.9h1m6.8-15.2h1m-0.9 16.3h1m-8.6-8.3h1m16.1-0.1h1m-11.4 11.5h1m-13.1-3.7h1m16.3-9.8h1m-10.1 5.8h1m16.4-7.6h1m-17.5 2.6h1m1.5-4.6h1m1.2 6.6h1m2.3-4.6h1m-6 12.1h1m1.7-11.8h1m0.8 13.2h1m-3.1-1.6h1m-8.4-0.3h1m6.9 0h1m-6.5-18.2h1m-8.9 0h1m-2 9.2h1m7.4 4.8h1m-4.4-2h1m7.3-11.9h1m9.7 8.4h1m-8.7 5.6h1m9-7.7h1m-17.9 13.2h1m10.9-13.4h1m-10.5-0.3h1m3.6 8.4h1m-7.7 7h1m10.4-21.1h1m-2.5 6.9h1m-10.1 10.5h1m13.6-11.5h1m-8.1 1.4h1m-11.5 5h1m-0.6 9.2h1m11.8-23.5h1m-24 3.3h1m1.8 3.1h1m3 2.1h1m4.4 9.7h1m2.7-15.3h1m-1.8 13.5h1m-7.9-4.9h1m3.9-9.8h1m-9.3 4.4h1m19.3 1.5h1m-17.4 6.6h1m-8.5-8.1h1m10.1-2.6h1m0.4 15.9h1m-4.8-2.5h1m6.2 5h1m-15.4-13.1h1m14.9 13.8h1m-11.3-7.3h1m9.6-11.5h1m-0.6 16.9h1m-14.7 4.1h1m-6-20.3h1m18.6 16.3h1m-3.4-13.7h1m-7.5-3.9h1m5.2 3.3h1m2 11.7h1m3.1-1.1h1m-10.1-7.6h1m-13.9 0.9h1m-1.3 8.4h1m10.5-11h1m3.2-4.6h1m-16 14.1h1m13.5-6.8h1m-8.7 14.7h1m3.6-9.9h1m-1.8 1.6h1m-7.4-7.8h1m-3.7 1.6h1m9.4-0.5h1m-9.2-7.7h1m12.2 6.5h1m3.8 0.3h1m-17.1 2.1h1m-10.9-5.2h1m4.9 12.1h1m-2.8 4.3h1m24.1-19.7h1m-3.5-0.3h1m1.6 12.4h1m-14.5 3.4h1m-11-11.5h1m18.4 6.1h1m-13.3-9.3h1m-2.3-0.5h1m8.6 0.8h1m-0.3 16.9h1m-10.3 1.8h1m-10.6-11.5h1m20.3-0.1h1m-15.7-0.5h1m12.8 6.5h1m-21-9.4h1m4 10.5h1m8.3-13.9h1m-19.9 8.7h1m20 1.6h1m-10.3-3.2h1m-2.6-4.7h1m0.8 12.8h1m-5.1 1.9h1m10.5-16.6h1m-5.2-1h1m-6.1 0.4h1m-2.2 0.6h1m19.9-1.8h1m-11.9 16.5h1m-11.2-7h1m7.5-0.1h1m2.7 3.8h1m-5.6-6.7h1m-0.7 2.2h1m1.9 9.8h1m3.4-6.6h1m-16.8-7.1h1m9.4 12.7h1m0.6 1.4h1m-20.3-17.4h1m18.2 10h1m-8-14.1h1m1.2 21.1h1m-4.5 1.5h1m9.4-14.3h1m-18.6 2.3h1m18.6-8.9h1m-12.7 3.4h1m-8.2 4.8h1m0.2 1.2h1m13-5h1m-17.8 2.1h1m0.2 10.2h1m26.5-14.5h1m-20.9 11.6h1m-3.4-11.6h1m-5.8 8.4h1m15.9 3.8h1m-7.2-10.1h1m8.9 0.8h1m-12.6 12.7h1m-11.4-14.7h1m12.7 3.1h1m-13.5 3.9h1m1.8-6.5h1m18.6 8h1m-8.1 1.3h1m-9-0.2h1m-5.2 2.8h1m13-0.7h1m10.6-6.7h1m-11 1.9h1m-7.3-8.1h1m-9.9 9.3h1m10.1-6h1m-15.2-6.3h1m-3.3 5h1m18.6 1.9h1m-2.4 6h1m-14.5-0.2h1m7.9-6.2h1m7.1 1.5h1m6.3 1.3h1m-4.2 4h1m-7.3-2.3h1m-7.9-4.4h1m-5.3-3.6h1m8.8 6.3h1m9.1-6.3h1m-17.9 11.4h1m10 8h1m2.3-8.1h1m-20.1-1.6h1m2.1 3.8h1m11.6-7.9h1m-15.3 7.6h1m15.4-8.5h1m-9.2 7.2h1m-3.7-5.4h1m-7.8-4.6h1m9.6 10.2h1m8-6.2h1m-24.6-2.5h1m20.4 7.9h1m-23.5-11.1h1m18.8 1.3h1m-3.1 8.7h1m-9.1-2.3h1m-9.8 10.9h1m14.7-14.1h1m-10.8-3.5h1m13.6 2h1m-11.1-0.8h1m-1.3-2.1h1m5.1 3.1h1m-6-1.1h1m1.9-5.2h1m-11.4 18.7h1m-1.2-10.6h1m9.6 4.5h1m-16.1-0.4h1m28.8-7h1m-21.8-4.4h1m5.3 2h1m-11.8 1.7h1m13.9 3.7h1m-17.2 9.8h1m-4.4-3.1h1m0.6-9.1h1m4.7 7.9h1m9.2-8.6h1m-16.5 0.9h1m12-4.6h1m-7.3 8.6h1m9.7 2.8h1m-6.2 4.9h1m-9.9-15.4h1m0-0.9h1m12.8 5.7h1m5.1 4.9h1m-9 1.9h1m-18.2 0.3h1m21.9 4h1m-0.5-1.6h1m-15.1-11h1m-3.6 13.2h1m-2.7-0.3h1m-3.2-17.4h1m18 7.9h1m4.2-3.1h1m-18.5 8.7h1m5.4-3.3h1m5.6-6.3h1m3.2 4.1h1m-22.5 12.7h1m14-18.6h1m2.6 5.2h1m-22 1h1m19.6-7.5h1m-20.8 6.7h1m-1.4-2h1m18.3-1.7h1m-7.5 9h1m3.3-4.7h1m-9 3.5h1m-11.6-7h1m0.1-1.6h1m6.7 9.7h1m4.3 1.5h1m-3.8 2.1h1m8-16.6h1m-24.1-1.6h1m14.9 2.8h1m-2 6.7h1m-5.9 1.6h1m3.6-8.6h1m0.9 6.9h1m-3.6 5h1m-16.5-3.1h1m19.3 11.5h1m-5-13.3h1m-15.3-2.6h1m25.1 1.8h1m-29.9-0.6h1m18.5 3h1m0-10.4h1m-4.5 15.5h1m4.6-4.8h1m-11.6-0.6h1m-7.3 8.5h1m7.4-9.5h1m3.9 1h1m8.8-0.8h1m-21.9 10.4h1m8.8 2.9h1m7.1-5.9h1m-20.2-7.2h1m23.8-8.8h1m-13.9 8.2h1m2.8 5.1h1m-22.3-6.2h1m7.3 8.1h1m-10.4-6.7h1m7.5 8.5h1m-8.9-9.9h1m10.2 14.2h1m-0.5-13.8h1m-9.8 2.5h1m1-6.4h1m8.8 11.4h1m10.1-13.1h1m-13.7 5.3h1m6.2-5.3h1m-11.1 20.8h1m-2.2-1.5h1m5.4-14.6h1m5 9.6h1m-12 2.2h1m11.7-4.1h1m-1.5 0.4h1m-7.6 4.8h1m-4.6-8.7h1m0.5-3.8h1m10.2 5.4h1m-11.8-7.2h1m4.4-2.9h1m-19.5 6.5h1m8.3 10.6h1m13.5 2.1h1m-11.5-4.2h1m7.6-9.7h1m9.3-9.5h1m-31.1 19.3h1m14.5 1.4h1m-5.7-8.8h1m0.1 0.3h1m2 4.8h1m-11.7-11h1m19.3 2.6h1m-9 5h1m-10.8 8.5h1m7.4-2.3h1m-12.8 0.2h1m4.3 0.4h1m18.2-13.6h1m-12.2 4.7h1m3.5-3.4h1m-6.3 10.8h1m-9 1.1h1m10.9-4.9h1m6.5-12.9h1m-13.4 17h1m1.3-2.5h1m-4.7-13.4h1m3 1.2h1m4.5 16.1h1m-25.5-0.9h1m3.8 0.1h1m4-8.8h1m10.9-0.8h1m-11.7 11h1m-3.3-7.4h1m1.5 6.2h1m-5.7-14.6h1m3.6 7.5h1m2.5-3.1h1m-7 6h1m11.6-11.5h1m-7.7 18h1m-14.4-7h1m3.8-1.6h1m2.1 5.5h1m8.4-18.9h1m-11.9 5.6h1m18.2-5.9h1m-22.5 7h1m-2.4 7.8h1m0.6 2.9h1m0.2-9.2h1m0.5 15.2h1m12.9-7.9h1m3-13.8h1m-24.7 8.3h1m14.5-6.9h1m-4.5-2.7h1m-5.3 2.4h1m8.9 15.3h1m0.6-8h1m-20.3 7.8h1m6.5-14.2h1m-12.1 8.7h1m18.8-0.4h1m-18.1 10h1m8.7-2.8h1m7.6-13.2h1m1.3 6.8h1m-4.5 9.6h1m-3.2-6.5h1m-0.9-8.5h1m-5.7 13.1h1m-10-8.5h1m20.1 10.2h1m-21.4-11.7h1m17.1 10.1h1m-15.9-16.5h1m20-2.1h1m-16.3 4.8h1m-1.4 7.5h1m-2.2-0.1h1m0.4-0.7h1m11.4 0.1h1m-23.2 9.1h1m8.9-17.9h1m6.1 8.4h1m2.1-3h1m-2.3-4.4h1m-0.6-0.1h1m-0.3 13.3h1m-1.6 2h1m0.7-17.7h1m-12.1 22.9h1m-19.5-20.6h1m29.3 12.4h1m-11.1-7.3h1m-3.7-5.9h1m0.9 10.5h1m9.5-2.5h1m-20.8-4.3h1m-4.4-2.7h1m10.9 2.6h1m-3.6-2.4h1m12.5 5.7h1m-5.9 11.8h1m-17.2-11.2h1m19.5-8.8h1m-2.5 10.2h1m-16.8-6.5h1m20.2-7.1h1m-5.9 14.3h1m-3-3.5h1m-9.4 7.9h1m8.2-0.9h1m-4.2 1.6h1m-8.6-0.3h1m-4-1.9h1m-1.7 3.6h1m19.9-13.1h1m-18.8 3.1h1m2.3 13.1h1m8.8-4.1h1m-1.3-14.2h1m-14.1 6.2h1m5.8-3h1m-4.8-4.7h1m-9.9 1.5h1m16.7 9.7h1m-11.1-2.3h1m10.6 3.8h1m2.9-4.3h1m-11.1 9.2h1m-15.6-9.9h1m18 8.6h1m4.3-13.3h1m-0.1-3.3h1m-3.6-2.8h1m-23.7 11.1h1m20.2-3.7h1m-13.5-4.4h1m-3 5.9h1m3.5-2.2h1m7.3 11h1m-16 0.9h1m4.5-6.7h1m1.1 11.7h1m-7.3-17.8h1m5 10h1m1.9-7h1m1.6 10.6h1m7.3-18.9h1m-8.9 0.2h1m4.9 6.9h1m-4.7 4.9h1m-20.9-12.6h1m7.9 11.4h1m2.6 3.9h1m6 5h1m-10.7-18.5h1m6.9 19.1h1m-7.5-12.3h1m-15-3.9h1m24.1-1.1h1m-14.5 13h1m-3.7-10.6h1m-6 5.5h1m14.1-2.9h1m2 5.8h1m-12.8-8.5h1m10 2.9h1m-3.5 9.7h1m-6.8-1.6h1m-1.2-9h1m9.8 10.8h1m-14.6-4h1m14.3-10.2h1m-5.1 4h1m-11.3 15.1h1m6.7-22.8h1m2.4 20.1h1m-8.9-14.7h1m6.1 2.9h1m1 0.7h1m-10.4 8.9h1m-7.1 5.4h1m-4.2-2.9h1m17.8-16.3h1m-5.4 9.8h1m-6.6-0.5h1m8.5-5.9h1m-23.8-7.4h1m9.7 7.9h1m4.4-2.9h1m11 5.7h1m-22.4-1.8h1m-1.2-5.8h1m9.4 2.4h1m-5.9 14.1h1m8.7-0.2h1m-2.7 0.4h1m-0.5-9h1m3.6-2.4h1m-14.5 4.8h1m5-0.9h1m1.5-7.5h1m-0.4 13.7h1m5.8-14.4h1m-17.3 14.4h1m-3.9-11.8h1m5.3 0.3h1m7 5.4h1m-12.9 6.4h1m6-8.3h1m-7.1 1.5h1m-11.9-10h1m15.2 16.9h1m6.1-17.9h1m-13.1 10.8h1m-4.1 4.3h1m9.3-10.6h1m-0.7-0.1h1m0 0.7h1m3.8 11.7h1m-24.9-10.5h1m23.8 6.3h1m-13.3-9h1m-10.8 8.6h1m18.8 3.2h1m1.1-1.7h1m-11.2 7.5h1m5.4-5.2h1m-11.8-6.2h1m-0.8 4.5h1m-9.6-3.8h1m3.5 1.3h1m8.8 2.5h1m-16.9-4h1m-0.8-1h1m20.9 3.4h1m-10-3.2h1m-1.1-4.1h1m-2.8 9.2h1m6.3 2.9h1m5.1-17.5h1m-3.3 10.9h1m3.5-0.4h1m-9.7 3.1h1m0-0.6h1m-2.9 0h1m-0.9-10.6h1m-2 4.2h1m-0.9-1.4h1m-14.4 9.3h1m2.4-9h1m18.1-7h1m-16.5 6.9h1m-0.6 3.4h1m-2.5 8.1h1m0-5h1m4.5 0.7h1m3 1.5h1m0.8-12.3h1m-8.4 1.1h1m1.9 14.7h1m-0.8-7.5h1m-8.3 3.3h1m13.1 2h1m-19.9 4.8h1m12.4-13.7h1m2.9-3.2h1m-18.5 14.9h1m5.2-10.6h1m4.7 9.2h1m10.8-1.2h1m-12-10.9h1m-6.6-7.5h1m-9.2 7.5h1m10.3 8.9h1m-14.8-10.1h1m18.4 16.1h1m-1.4-9.7h1m-19.3-0.7h1m3.7 8.3h1m14.7-4h1m-9.3-13h1m0.5 8.6h1m-13.8-4h1m11.9 7.2h1m-15.6-3.7h1m11.3 0.3h1m-9.1-6.3h1m10.6 18.9h1m-4.9-12.9h1m-1.1-4.6h1m-5.5 3h1m9.4-1.8h1m-7.7 12h1m1.2-5.6h1m-4.4-8.6h1m-0.3 2.7h1m12.4 2.7h1m-24.2-6h1m22.2 16.4h1m-13.3-13.6h1m0.1-3.8h1m-3.7 15.6h1m-1-9.6h1m-2.2 8.2h1m15.9-3h1m-10.3-10.3h1m1.7-0.1h1m-15.8 5.2h1m3 6.2h1m8.9 6.1h1m1.6-1.9h1m-16-6.7h1m16.7 2.3h1m-20-3h1m4.5 1.6h1m12.7-2.6h1m-12.2-0.1h1m2.9 10.4h1m-4-9.6h1m6.3 8.8h1m-19.8-10.4h1m0.5-8.8h1m14.7 16.2h1m-5.2-0.7h1m-11.5-1.9h1m0.7-6.4h1m4.6 4.7h1m-10 2.3h1m18.6-14.7h1m-12.7 1.3h1m7.2 4.4h1m7.1 4.2h1m-13.7-8.4h1m-8.7 12.6h1m5.3-11.4h1m1.5 15.9h1m-0.2-11.2h1m11.9-3.6h1m-10.1 6.9h1m-6.9-4.9h1m-8.8-4.4h1m7.7 12.2h1m-15-8.1h1m8.4 17.6h1m3.1-10.6h1m-4.4-11.4h1m2.8 6.8h1m6.3 10.3h1m-1.2-15h1m-9.7-2.5h1m1.2 2.1h1m3.5 7.9h1m-17.8 1.4h1m9.1 3.4h1m8.9-14.3h1m-19 20.6h1m-2.5-9.7h1m21.5-7.1h1m-4.5-1.4h1m-8.8 9.7h1m6.7-11.2h1m-11.4 19.9h1m-1-12.9h1m-2.5-9.2h1m-12.5 15.5h1m5.9 3.3h1m8.5 0.2h1m-3.4-2.5h1m-3.1 2.1h1m4.2-15.3h1m-7.5 18.3h1m-8.9-20.1h1m13.2 11.8h1m-2.7-10h1m-4.4 2.2h1m7.4 5.1h1m-4.8-1.6h1m-10.3 8.7h1m7.1-8.9h1m8.4-6.4h1m-13.1-2.6h1m10.3 1.5h1m-2.3 16h1m-24.9 0.1h1m12.3 3.1h1m16.3-13.6h1m-8.7 11.4h1m-20-15.6h1m3.9 17h1m-3.7-10.8h1m8.6 12.2h1m-2.9-7.8h1m5.6 0.1h1m3.9-8.5h1m-2.4-5.8h1m-9.8 20.5h1m-8.7-7.4h1m2.3-3.9h1m6.6-1.2h1m6-5.8h1m0.4 6.1h1m-6.8-0.8h1m-18.8-4h1m3.8 2.2h1m9.3 11.8h1m11-2.8h1m-12.4-10.6h1m-1.7-1h1m-9 5.4h1m-8.3 4.8h1m23.7-12.1h1m-20.6 19.1h1m2.7-18h1m9.2 19.1h1m-10.9-2.4h1m2.4-2.2h1m-14.1-8.6h1m17-0.9h1m-16.5-5.8h1m6.3 3.6h1m-1 8.4h1m-9.3-7h1m15.5 20.9h1m-17.6-9.3h1m5.6-13.8h1m6.1 5h1m-7.9 10.2h1m3.7-1.3h1m-8.5-4.9h1m-8-8h1m11.5 14.5h1m12.6-7.8h1m-18.8 2.2h1m2.7-9.9h1m6.8 17h1m-11.1-18.2h1m11.1 17.1h1m-17.1-11.2h1m15.2-0.1h1m-4.1-7.7h1m-2.1 5.4h1m2.1-7.7h1m-0.6 12.8h1m-0.6-4.5h1m2 10.9h1m-19.5-2.9h1m4.4 8.6h1m7.8-23.3h1m4.7 3.9h1m-3.3 1.1h1m-10.8-3.5h1m4.8 9.9h1m2.4-6.3h1m-8.7 8.3h1m-5.8-9h1m-0.2-0.4h1m-6 0.3h1m6.9 17.4h1m9.9-1.4h1m-10.1 1.2h1m-12.4-14h1m14.1 3.6h1m-16.5-2.4h1m6.7 10.4h1m0.7 1h1m-9.1-1.1h1m17.5-17.7h1m-0.7 18.1h1m-1 4.1h1m-11.3-12.4h1m-4.7 0h1m7-2.3h1m-14 4.9h1m13.2-11h1m-0.2 15.7h1m-6.4-4.8h1m-10.8-0.4h1m20.1-11.5h1m-3.3 5.3h1m-7.5 15.8h1m4.7-17.3h1m-6.4 12.5h1m9-7.1h1m-12.2-5.3h1m-7.5 2.5h1m14.3 2.5h1m-18.7 1.6h1m-7.9 2.8h1m22.5-4.7h1m-13.9-6.6h1m0.6 11.2h1m15.4-4.4h1m-24.9 10.6h1m-4.9-17.6h1m14.1 17.1h1m0.1 0.2h1m1.8-13.9h1m0.9 8.8h1m-13.3-10.3h1m-4.3 14.1h1m16-6.8h1m-24.3-8.3h1m28.5 7h1m-24.8 3h1m10.2-2.7h1m-5.2-12.9h1m-13.8 6.1h1m11 11.9h1m9.5-12.8h1m-6.8 5.4h1m-13.9-2h1m14.2 1.9h1m-7.6 12.2h1m-11.9-9.9h1m15-3.2h1m-12-3.1h1m0.1 3.5h1m4.5 12.5h1m-1.8-4.4h1m-5.4-6.5h1m17.1-6.3h1m-23.5-2.5h1m-6.9 0.3h1m2.6-1.6h1m15.2 17.8h1m3.9-6.1h1m-1.9 4.5h1m-2.8-9.4h1m-11.6 12.4h1m2.2-16.7h1m4.5 19.4h1m-12.7-9.9h1m0.6 12h1m-4.4-22h1m7.7 4.3h1m-4.2-2.1h1m-0.5 13.9h1m6.8-3.8h1m-6.3-12.9h1m-1.6 2.6h1m-11.7 16.6h1m5.9 2.5h1m11.3-6.7h1m-8.1-14.3h1m14-1.8h1m-16.6 20h1m7-5.4h1m-3.2 6.1h1m0.5-7.7h1m-3.8-10.8h1m6.8 14.5h1m-0.7 0.6h1m-27-18.9h1m3.8 14.3h1m13.2 4.9h1m-1.7 2.1h1m-6.4-14.7h1m0 3.5h1m5.9-8.9h1m-0.8 22.1h1m1.3-11h1m-23.3-3.3h1m9.9 6.7h1m-2.1-5.5h1m4.9-1.8h1m2.1 6h1m-11.9 1h1m3.4-5.6h1m-10.7 3.8h1m21-12.1h1m1.9 13.6h1m-7.5 5.3h1m-10.5-15.7h1m-4.4 3.5h1m13.7-2.9h1m-6.2 11.2h1m-15.2-13.3h1m12.9-0.9h1m5.2 1.2h1m-7.4 4h1m-8.9 0.4h1m-6.5 0.7h1m21 4.2h1m-21.4-1h1m18.4 1.4h1m-16 6h1m-12.5-14.4h1m11.6 2.4h1m7.2 8.4h1m-8.7 3.8h1m0.1 1.3h1m-8-7.8h1m20-0.7h1m-16.9-5.7h1m-7.5 7h1m16.7 3.7h1m-10.3-10.6h1m11.1-0.5h1m-8.4-0.7h1m-1.8 14.8h1m5.1-4.8h1m0.6 7.7h1m-14.3-8.1h1m-3.1 5.5h1m2.5-5.2h1m2.6-0.1h1m-15.6-14.4h1m21.6 10.4h1m-14 8.1h1m-7.4-11.2h1m3.6 1.9h1m0.1-3.2h1m11.1 1.7h1m-3.6 5.1h1m-18.9 0.9h1m9.1-5.8h1m3.2-5.7h1m-8.8 13.4h1m-2.2-5.4h1m10.4-8.5h1m-18 5.5h1m-1.1-1.8h1m0.1-4.4h1m4.3 3.5h1m8.2 9.8h1m-11.1 1.9h1m-0.9-4.5h1m6-4.2h1m12-0.3h1m-21 10.1h1m-4.6 1.8h1m13.2-0.1h1m-12.8-0.4h1m9.9-10.5h1m-5.8 8.7h1m0.8-12.9h1m2.6-3.6h1m-15.3 16.5h1m24.6-14.1h1m-30.6 6.9h1m6.4-3h1m-1.7 0.3h1m16.2 1.5h1m-9.2-3.1h1m2.8 12h1m-12.3-2.6h1m-2.6-12.7h1m-4.6 17.9h1m12.2-3.4h1m2-5.9h1m-8.5-1.1h1m14.2-2.2h1m-21.7-4.1h1m1.8 19.4h1m16.9-0.1h1m-16-22h1m1.5 5h1m4.7 10h1m-14.2-9.6h1m5.4 14.8h1m8.5-12.7h1m-2 15.8h1m-4.8-18h1m-4.8 12.2h1m-8-4.7h1m7-7.7h1m-6.2 5.8h1m12-7h1m-1.1 17.6h1m2.9-3h1m-6.8-9.5h1m-0.6-6.6h1m-22.2 4.2h1m20.7 13.5h1m7-14.1h1m-17 5.2h1m-6.9 4.3h1m-1 5.8h1m-7-17.3h1m21.5 4.5h1m-10.4 3.7h1m7.5 9.5h1m-5.1-16.8h1m2.3 0.9h1m-19.3-5.7h1m19.9 10.2h1m-14.3-5.9h1m9 8.9h1m-15.7-2.7h1m10.9 2.9h1m0.2 1h1m-0.7 0.2h1m6.7-10.4h1m-8.1 6.4h1m-15.2 0.3h1m17.9-5.1h1m-5 3.9h1m-16-2.5h1m8.6-1.1h1m10.7 5.3h1m-5.7-2.2h1m-12 2.2h1m1.6-4.4h1m-4.1-2.2h1m-9 5.2h1m4.3 7.4h1m-10.8-10.6h1m20.3-3.3h1m-12.3 18.1h1m-4.7-16.9h1m2.3 1.4h1m3.7 11.2h1m-12.2-11.5h1m1.7 8.8h1m19.3-9.2h1m-11.1 11.2h1m-12.9-1.8h1m10.5 0.7h1m0.1-14.3h1m0.8 14.5h1m-14-12.3h1m9.5 7.7h1m-7.5 13.3h1m8.8-19.7h1m-11.9 5.2h1m15.7-12.6h1m-16.4 15.1h1m14.3-13.4h1m-11.9 17.4h1m8.6-5.8h1m-1.2-3.6h1m-7.9 6.8h1m-12.3-11.6h1m6.1 3.7h1m0.6-1.9h1m7.5 12.3h1m-17.5-14.6h1m5.6 20.8h1m-8.1-11.3h1m18.2 6.6h1m-7.6-17.2h1m1.2 10.1h1m1.5 2.6h1m-16.5-9.8h1m7.1-1.3h1m11.9 4.1h1m-8.5 6.2h1m-6.2-2h1m-7.1 6.7h1m10.1-3.4h1m-6.7-0.2h1m3.9-7.6h1m-17.3-0.5h1m10.2 3.4h1m1.5 8.2h1m3.6-0.2h1m-17.6-3.8h1m8.2 11.1h1m-7.2-15.2h1m14.7 2.5h1m-19.5-7.9h1m6.8 5.2h1m9.3-3.6h1m-13.8 10.1h1m6.4 4.4h1m-3.3-13.3h1m-3.2 2.3h1m7.8 4.1h1m-9.6-6.2h1m11.7 1.1h1m-22.7-1.9h1m1.9 6h1m10.9-4.5h1m-14.4 7.2h1m9.3 8h1m1.3-21h1m-9.6 14.5h1m0.6-16.4h1m-5.3 3.3h1m8.3 0.8h1m-2.9 13.1h1m-6-4.4h1m9.1 1h1m-22.2-2.7h1m11 10.1h1m-1.6-19.2h1m4.1 2.5h1m-1.2 6.5h1m-4.5-9.2h1m-4.1 8.7h1m5.4-2.5h1m-2.3-2.9h1m6.9 10.4h1m-5.1-9.1h1m-8.4-3.2h1m-5.9-1h1m8.1 9.1h1m-3.5-14.7h1m4.2 20.1h1m-9.4-9.1h1m3.9-1.8h1m-2 7.3h1m-12.8-4.1h1m-0.6 0.5h1m22.7-1.1h1m-11-3h1m-14.1 4.8h1m11.5 7.2h1m-5.5-11h1m3.4 0.9h1m8.5-1.6h1m-18.2-1.1h1m18.3 3h1m-5.9 14.5h1m-19.7-15.1h1m12.1 10.1h1m-2.6-10h1m-10.4 3.8h1m21.3 1.5h1m-23.4-2.7h1m8.4-0.1h1m-5.2-4.5h1m3 17.3h1m-5.3-10h1m-1.8-6.2h1m-3 5.3h1m19.7-7.5h1m-14.6 2.7h1m10.4-5.2h1m0.6 8.5h1m-22.4-5.8h1m8.6 8.4h1m2.4-11.1h1m1.8 4h1m3.3 11.3h1m-19-2.8h1m3.8 0.2h1m-6.5-8.2h1m0.5 4.5h1m-1 0.8h1m7.2-0.6h1m7.9-0.4h1m-6.6 7h1m-0.4 2h1m10.6-19.4h1m-26.8 11.8h1m6.2 2.2h1m11.6 2h1m-15.6-3.7h1m10.1-7.7h1m-1-7.5h1m-10.6 7.5h1m-7.1 10.1h1m14.1 2.7h1m-0.8-1h1m-3.1 2.6h1m1.6-11.5h1m-13 1.1h1m-1.6 15.8h1m-2.9-20.4h1m22.6-1.7h1m-22.4 7.8h1m-7.2-9.9h1m-6.6 9.8h1m29.1-2.5h1m-5.8-3.9h1m-1.7 9.4h1m-2-9.3h1m-9.3 20.1h1m-0.6-14.3h1m13.3 2.5h1m-16.7-7.9h1m12.1 3.2h1m-14.1-4.3h1m-3.1 16.3h1m4.9-0.1h1m-13-13.7h1m0.6 15h1m3 2h1m19.9-11.4h1m-22.1-0.7h1m14.3-5.3h1m-4.4 5h1m3.7-8.5h1m-8.3 10.2h1m-1.6-5h1m-4.1-2.7h1m4.9 9.6h1m8.9-9.8h1m-5.7 13.4h1m-12.5-14h1m-14.3 7.8h1m23.3-7h1m-5.4 15.9h1m1.6-4.1h1m-7 5.9h1m-4.8-8h1m-14.6-5.5h1m-1.9 0.8h1m10.2 1.8h1m14.3-7.9h1m-22.8 3.4h1m7.8-0.2h1m-7.6-1h1m11.3 12.3h1m-16.1-12.3h1m7.4 14.4h1m-7.8-17.9h1m3 15.9h1m-8.9-5.5h1m27.7-4.1h1m-22.6 14.8h1m2.3-26.9h1m-1.5 12.8h1m-1.1 7.1h1m7-12h1m-3.9 18h1m4.6-2.8h1m2.9-7.5h1m-4.9 2.7h1m-21.1-14.4h1m13 20.8h1m0-1h1m-4.8-0.7h1m-5-10.3h1m11 12.4h1m3.9-20.3h1m-22.3 3h1m6.6 3.3h1m-11.9 0.6h1m13.5 11.8h1m4.9-15.8h1m-12.3 14.9h1m5.2-4.7h1m-14.3-3.5h1m5-7.6h1m-1.8 5.7h1m-3.9 7.4h1m10.8-8.7h1m-17.4-0.9h1m27.6 3.1h1m-17.5-6.1h1m4.4 7.2h1m-13.6-10.9h1m-4.1 9.5h1m24.9 0.7h1m-18.4 9.1h1m10.6-6.3h1m-4-9.3h1m0.7 6.2h1m-12.7-3.2h1m-4.5-2.8h1m-8 7.8h1m15.7-5.4h1m-8 19.5h1m0.8-8.3h1m10.7-14.1h1m0.6 0.7h1m-12.8 2.1h1m-2.4 11.3h1m-3.6-7.2h1m0.7-0.6h1m1.6 10.3h1m0.3-5.6h1m12.6-1.9h1m-5.1 5.5h1m-7.3-11.2h1m-4.7 13.9h1m-7.6-8.6h1m2-0.5h1m2.7-11.1h1m4.5 5.3h1m4.4 7.4h1m-19.2-1.5h1m13.1 5.5h1m-5.1-9.5h1m1.7-3h1m-0.8 8h1m-17.6 0.3h1m2.7 5.1h1m13.3-16h1m-16 0.3h1m11.2 13.5h1m-4.1-5.4h1m5.1-6.6h1m-2.1 3.2h1m1.3 3.9h1m-14.5 5.4h1m5.3 2.7h1m1.1 0h1m1.7 1h1m2.1-1.8h1m5.9-16.2h1m-24.2 4.7h1m12.5 9.6h1m-6.7-12h1m-17 4.1h1m15.5 0.7h1m11.8 1.7h1m-8.7-3.4h1m-14.6 0.2h1m18.5-6.4h1m-21.8 4.9h1m14.7-2.6h1m5 6.1h1m-9.4 6.7h1m-7.4-4.8h1m-7 3.5h1m-1.9 1.9h1m9.2-16.4h1m3 5.4h1m-11.6-3.9h1m17.2 13.7h1m-21.2-4.3h1m14-0.6h1m1 1.7h1m-2.2 6.8h1m-3-14.6h1m-9 11.2h1m-9.6-0.1h1m19.4-0.8h1m1.4-8h1m-3.8 11.6h1m-3.7-5.9h1m-6.1 5.5h1m-8.6-14.4h1m-0.9 4.7h1m4.1 0h1m-10.7 7.4h1m15.3-9.2h1m-2.3 0.4h1m-1.6-4.2h1m-16.8 12.6h1m-2.1-16h1m10.2 18.5h1m13.1-9h1m-23.2 15.7h1m1.3-1h1m-2.5-15.6h1m8.2-0.2h1m-0.8 5.2h1m5.6-6.1h1m-3 6.8h1m-5.7 8.4h1m13.1-8.4h1m-1.2-9.1h1m-16.5 10.7h1m-8.1-6.7h1m4.3-0.9h1m13.7 9.5h1m-16.3-15h1m-7.4 0h1m3.3 6.7h1m1.7-3.5h1m-4.1 17.1h1m10.6-2.4h1m0.6-13.6h1m-17.2 7.5h1m23.1-10.8h1m-22.9 4.6h1m14.3-3.7h1m-8.7 7h1m12.9-14.6h1m-17.3 18.6h1m-3.7-13.9h1m-0.7 11.2h1m-3.3 8.8h1m14.3-4h1m-10.2-3.5h1m3 4.8h1m2.6-7.4h1m-20 0.4h1m21.6 7.2h1m-7.2-5.4h1m-8-1.4h1m-5.5-4.9h1m17.9-5.7h1m-15 11.1h1m0.3 14.5h1m-2.9-23.1h1m-2 1.8h1m-9.8-2.3h1m21.8-1.8h1m-23.3 4.9h1m13 5.7h1m-1 6.5h1m1.7-8.1h1m1.9-0.5h1m-16.3 10.5h1m-4.3-18.2h1m4.2 6.2h1m6.1 5.9h1m-14.3-5.8h1m12.1-3.9h1m-12.9 13.7h1m17.5-5h1m-2.3 5.5h1m-5.2-12.9h1m4.1-0.7h1m-2.3 6.1h1m-3 2.6h1m5 0.8h1m-9.9-6.5h1m4.8 7.6h1m-11.3-1.7h1m1.6-0.7h1m-0.9 5.8h1m10.5-2.8h1m-22.9-8.5h1m15.3-3.8h1m1 0h1m-17.8 6.7h1m17.2-7.1h1m-6.8 23.1h1m-0.1-13.6h1m-11.6 4.5h1m17-7.9h1m-12.7-6.8h1m-2 9.7h1m-5.1-8.4h1m10.4 15.2h1m-15.9-7.8h1m8.2 5.1h1m-9.1-7.3h1m-2.4 1.3h1m7 5.3h1m-3.8-14.1h1m-1.9 11.9h1m-5.7-7.1h1m15.7 9.1h1m-21.9-10.3h1m8.9-0.9h1m1.6 1.1h1m17.3-2.5h1m-3.3 0.6h1m-15.4 4.4h1m-8.4-4.5h1m7.3 3.2h1m-10.9 1.1h1m0.7-5.4h1m10.5 18.6h1m-14.7-7.2h1m22.1-3.6h1m-24.7 4.6h1m3-3h1m-1.4-1.4h1m5.4 9.1h1m4.4-0.1h1m-12.6-12.7h1m-0.2 1.7h1m2.9-2.6h1m10.4 13.5h1m2.6-9.3h1m-21.6 11h1m13.4-12.9h1m-1.5-5.8h1m-2.7-0.4h1m-4.4 15.9h1m-11.7-8h1m2.4-7.5h1m7.9 16.3h1m0.8-16.7h1m-14 11.8h1m11.4-3.5h1m-7.9 11.7h1m-2-3.4h1m9.1-11.5h1m-22-4.9h1m10.9 20.2h1m1.4 2.9h1m1.4-8.7h1m4.2-4.6h1m-6.1-0.8h1m-0.2 7.4h1m0.6-12.4h1m-15.1 11.3h1m0.7 2.9h1m12.3-20.2h1m1.6 14.7h1m-13.2 2.1h1m-1.3-3h1m7.7-5.7h1m-14.9 0.8h1m-4.7-8.7h1m20.2 23.6h1m-10.7-17.2h1m1.6 9h1m11.3-1.1h1m-16.4-13h1m3.6 6.8h1m5.4 1.5h1m-9.7 4h1m-8.3-8.8h1m8.7-0.8h1m2.4 11.9h1m5.9-17.7h1m-18.6 8.3h1m16.1 6.4h1m-16.7-10.5h1m6.4 19.2h1m-6.9 3.9h1m11.1-17.4h1m-9.9-4.4h1m-7.9 11.1h1m5.3 2.8h1m4.1-9.7h1m-10.8-5.5h1m-3.2 2h1m-2 3.2h1m5-8h1m-6.5 18.4h1m3.8-5.1h1m4.9 6.2h1m-15.2-3.3h1m19.1 1.5h1m-8.2-16.9h1m-12.8 7.7h1m6.7 0.6h1m-5.2 2.2h1m11.3-12.1h1m4.6 9h1m-3.2-1.6h1m-19.3 19.4h1m15.3-22.8h1m-20.8 5.7h1m8.1-1.8h1m7.7-1.6h1m-9.4 7.1h1m8.7 1.2h1m1-12.9h1m-6.6 5.8h1m-6.8-2.3h1m10 6.7h1m-2 0h1m-18.4-6.9h1m10.9 1.1h1m-7.8 18.5h1m-4.6-21.2h1m9.7 5.3h1m1.2 4.4h1m-4.5-15.7h1m-7.3 9.9h1m8.3 10.5h1m-7.3 1.8h1m-14-12h1m2.9-1.6h1m4.7-0.7h1m4.9 18.8h1m8.5-21.5h1m-26.6 15.7h1m14.6-12.8h1m-9.9 2.7h1m6.9-7.2h1m0.6 7.6h1m-9.7-5.7h1m18.2 17.5h1m3.6-18.8h1m-13.9 18.8h1m-5.2-12.5h1m-10 0.8h1m6.1 6.9h1m-4.3-8.3h1m6.2-3h1m-7.3 18.2h1m-2.1-9.3h1m1.8 1.9h1m7.4-10.8h1m-1.3 4.1h1m-4.5 12.6h1m-5.2-7.5h1m13.1-6.3h1m-17.8 13.3h1m16.9-0.7h1m-7.1-14.7h1m-0.3 7.5h1m-13.4-2.3h1m10.2 7.5h1m-20.2-1.5h1m26.2-7.9h1m-20.2 10.9h1m5.8 0.8h1m6.2-5.2h1m-9.7 0.8h1m-5.2 2.7h1m14.3 1.9h1m-7.4-0.5h1m6.6-15.6h1m-18.4-1.1h1m-7.8 3.9h1m8.1-3.5h1m18.1-1.8h1m-22.3 6.4h1m4.3 0.1h1m0.1-4.4h1m3.8 5.1h1m-11.2 11h1m-7.3-11.7h1m19.9 5.7h1m2.7-9h1m-5 2.7h1m-10.8 4.6h1m11.1-0.2h1m-14.5 0h1m3.7-9.7h1m-10.6 12.4h1m-0.1-0.3h1m2-10.8h1m1.8 13.9h1m4.9-16.2h1m-16.1 9.9h1m5.5 0.8h1m3.8-3.1h1m10.1 2.5h1m-21-0.2h1m-1.4 4.6h1m18.8-4.5h1m-7.5 7.8h1m-1.5-19h1m-3.7 20h1m5.7-11.8h1m-19 0.5h1m2.7-4h1m-4.6 0h1m2.8 7.7h1m9.1 0.7h1m-5.9 7.2h1m9.9-5.7h1m-17.9 5.8h1m-3.7-9.5h1m-0.6-8.5h1m11.5 13.2h1m-4.7-14.8h1m-0.2 10h1m-8.5-0.9h1m0.8 6.1h1m11.8-1.7h1m-22.6-1.7h1m19.9-6.6h1m-9.2 0.3h1m13.4-3.5h1m-29.1 2.2h1m4 9.8h1m23.2-5.5h1m-3 1h1m-17.1 0.7h1m9.8 1.8h1m-10.1-5.4h1m-5.2 13.5h1m-3.2-14.6h1m-1.8 5.6h1m10.7 5.7h1m-13.6-7.4h1m-2.9-4.1h1m13.5 15.1h1m-13.3-22.4h1m18.3 12.6h1m-10.6 8h1m14.4-14.1h1m-19.8 12.1h1m6-11.1h1m-12.1-0.2h1m8.2 8.6h1m-7-3.1h1m-12.2-2.9h1m-0.4 5.6h1m8.2 6.7h1m-6.3-9.9h1m18.3-1.6h1m-20 5.7h1m6.1-2.1h1m10.6 8.6h1m-18.7-6.7h1m20.6-7h1m-22.1 2.5h1m4.3-4.6h1m-3.9-0.1h1m1.7 8.4h1m1.7 0.8h1m2.2 4.3h1m-6.7-2.8h1m-0.7 5.3h1m2.8-7.4h1m-10.7 4.2h1m10.3-11.1h1m0-0.6h1m-10.1-1.5h1m5.5 6.9h1m3.2 0.1h1m-14.6-3.2h1m-5.2-2.5h1m14.8-5.2h1m9.5 7.5h1m-25.1-4.3h1m7.4 9h1m2.4-14h1m-12.4 8.7h1m-2-6.6h1m6.3 7.9h1m-5.4 7.7h1m-4.7-10.4h1m-2-4.6h1m1.9 9.9h1m16 7.4h1m5.9-10.4h1m-4.9 5.6h1m-5.7 4.8h1m-11.4 2.3h1m2-21.8h1" stroke="#000" stroke-width="0.9" fill="none"/>
<path d="M279 269.5h1m5.6 11.3h1m-3.5-7.5h1m-7.5-2h1m-14.7-1.1h1m8 12.4h1m8-11h1m-1.3 5h1m-14.2 4.7h1m0.7-8h1m15 8.9h1m-18.7-1.8h1m2.3-8.7h1m9.8 2.4h1m5.2-6.4h1m-24.8 8.8h1m17-6.6h1m-11.2 6.2h1m-12.7-2.8h1m-0.9-2.3h1m18.3 14.5h1m-5.5-9.1h1m-5.6 2.3h1m11.1-5h1m-7.6 4.6h1m-9.6-1.3h1m-3.3-5.5h1m7.9 14.4h1m-6.7-4.2h1m0.1-3.9h1m-8-2.8h1m10.4-3.8h1m-9.6 10.5h1m1.7-9.2h1m-2.1 11.6h1m-6.6-7.2h1m6.4-1h1m-1.2 8.3h1m4 0h1m-10.6-5.1h1m1.7-1.8h1m19.9-10h1m-23.3 15.2h1m14.5-11.9h1m-7.1 4.9h1m-7.2 10.6h1m4.6 1h1m3.5-13.8h1m4.2-6h1m2.5 1.7h1m-1.9-0.9h1m-22.4 5.5h1m20.5 2.7h1m-2.8-3.3h1m-3.5 5.5h1m-0.7 3.1h1m-2.1-11h1m-18.7-1.2h1m20.7 10.4h1m-20.7-3.1h1m14.4 4.3h1m-2 2.3h1m3.8-7.1h1m-0.2-2.6h1m-5 6h1m-3.3 7.2h1m-6.3-2.1h1m-5.7-2h1m0.6 6h1m-9.2-13.7h1m9.3-3.7h1m-1.8 2.6h1m3-1.5h1m-10.9-3.9h1m0.7 0.2h1m10.6 12.8h1m-3.6-0.8h1m-13.6-0.3h1m16.8 2.6h1m-7.7-9.6h1m11.7-6.2h1m-16.4 16h1m8.9-0.5h1m1.8-6.7h1m-17.8 7.7h1m1.4-15.3h1m3 16.2h1m-2.9-15h1m0 5.4h1m-8-2.3h1" stroke="#fff" stroke-width="0.8" fill="none" stroke-opacity="0.55"/>
<path d="M253.9 276.4h1m-2.5-5.1h1m-1.3 11.3h1m-0.7-17.1h1m-7.6 17.3h1m4.7-6.6h1m-1.5 0.2h1m4.3-4.4h1m-1.3 2.8h1m-5.7 8.4h1m-0.1-5.1h1m-0.3 5.6h1m5.5-3.5h1m-4.1-6.2h1m-7 0.7h1m6.3 2h1m-9.2-3.2h1m6.1 12h1m-4.5-16.5h1m-5.4 18.5h1m1.5-15.6h1m-0.1-1.2h1m3.4 5.5h1m-0.2-8.1h1m-11.6 19.1h1m3.4-0.2h1m4.4-1.3h1m-3 2.1h1m-1-3.3h1m-0.5-19.9h1m-0.6 16.2h1m0.8-9h1m-6.8 10.2h1m-7.3-7.4h1m8.3-1.1h1m-4.8-3h1m-4.6 9.7h1m4.9 3.3h1m-3.7-14.1h1m1.3 9.5h1m-7.8 0.5h1m7.8-3.7h1m-3-0.6h1m-0.1 9h1m-4.2 0.8h1m-1.3-3.7h1m5.1-0.2h1m-2.1 0.4h1m-4.1-8.7h1m-4.2 3.3h1m4.9 0.7h1m-4.5-6.2h1m3.6 11.1h1m-6.3 7h1m2 1h1m-0.4-14.6h1m-4.1-1.6h1m2.7-2.1h1m-7.5 9.6h1m8.2-4.9h1m-6.9 8h1m-1.1-14.6h1m-0.1 8.1h1m-1.6-4.9h1m-2.2 5.5h1m2.1-3h1m-3.8-10.6h1m0.1 17.3h1m0.6-5h1m-2.3 0.7h1m-3-1.6h1m4.4-5.5h1m3 6.3h1m-9.7 4.8h1m4 5.7h1m-6.4-9.3h1m0.5-4.9h1m-3.8 11h1m0.7-8.8h1m-1.6-0.2h1m1.2 1.4h1m-1.7 4h1m7.5-11.7h1m-11.4 8.5h1m4.1-1h1m-0.3-2.5h1m-9.8 13.6h1m-0.8-20.9h1m7.8 9.9h1m-8 1.5h1m2 0h1m-9 8.2h1m4.4-22.9h1m1.8 11.2h1m3.7-3.4h1m2.1-3.5h1m-10 5.2h1m6 6.5h1m-5.9-4.4h1m-1.8 14.2h1m-0.9-22.2h1m-1.1 12h1m-5.4-0.2h1m4-1.2h1m-4.6 3.4h1m4-5.7h1m7.1 4.8h1m-14.7-4.7h1m9.1-1.6h1m-10.5-2.7h1m1.7 3.2h1m3.7 7.3h1m-2.8-7.7h1m1.3 7.7h1m-0.4-5.8h1m-6.6 1.2h1m-1.9 8.3h1m3-15.7h1m-1.4 6.9h1m3.1 6.3h1m-14.1-2.1h1m9.8-1.1h1m-2.8 6.4h1m-3.7-11.7h1m-2.8 3.7h1m-0.9 10.5h1m-1-18.6h1m7.2 10.9h1m-6.4 0.3h1m-2-1.7h1m0.1 0.6h1m0.7-8h1m-0.3 6.3h1m-3.7-1.7h1m-1.6 3.2h1m-3-1.4h1m1.5 10.7h1m-1.3-5.3h1m-2.6 7.1h1m0-7h1m4.4-3.7h1m-2.6 2h1m-2.7 3.7h1m2.1-13.5h1m-4.7-4.3h1m2.6 0.4h1m-5 13.9h1m4-7h1m-4.1 0.3h1m-3.9 2.6h1m-4 4.3h1m3.5-7.6h1m-1-2.6h1m-5.2 2h1m2 7.9h1m-2.3-6h1m2 5h1m-6.4 2.6h1m3.4-8.1h1m5.6-3.5h1m-4.3-2.6h1m-4.4 4.4h1m4.4-3.2h1m-7.6 7.8h1m3.2-9.5h1m-2.8 9.3h1m-3.5-3.8h1m2.1 7.6h1m5.4-11.9h1m-12 7.5h1m-1.1 3.9h1m7.8-14.6h1m-9 12.3h1m0.8-5.7h1m-2.1-2.4h1m-2-3.7h1m3.2 9.9h1m-6.1-4.2h1m-1.1 1.4h1m1.7 7h1m1.7-23.8h1m2.1 24.8h1m-6.1 8.7h1m2.3-14.8h1m0.5-2.1h1m-4.1 1.8h1m0.3 6.4h1m-4.6 9.8h1m-5.8-20.7h1m7.2-14.1h1m-7.5 21.2h1m4.8-2.4h1m-5.8-0.6h1m-2.2-0.4h1m2.6-12.4h1m-4.9 15.8h1m3.6-6.5h1m-1.9 6.4h1m-1.1-4.9h1m5-2.7h1m-3.5-5.8h1m-4.6 20.3h1m2.6-9.3h1m-2.4 2.8h1m-3.5 7.5h1m-4.5-6.6h1m1.2-1.6h1m8.2-16.2h1m-7.6 21.9h1m0.8-1.7h1m2.9-12.7h1m-9.3-2.6h1m5.2 12.1h1m-13.5-3.5h1m4.2 10.3h1m-4.9-17.6h1m6.4 8h1m-0.9 4.5h1m-3.6-1.2h1m-0.7-10.8h1m11.3-1.2h1m-9.7 6.1h1m-0.5 16.5h1m-5.9-18.6h1m-0.7 2.2h1m2.4 8.4h1m-2.8-2.6h1m-0.5 5.8h1m-1.4-13.1h1m-5.9 0.1h1m6.2 9.5h1m-1.5-6.7h1m0.1 1.4h1m-0.4-6.4h1m2.8 1.6h1m-8.6-0.1h1m1.1 1h1m2.9-0.5h1m-6.9 2.4h1m4.2-0.1h1m-6.6 9h1m-0.9 4.4h1m-3.2-13.3h1m2.3 12h1m6.6-6.8h1m-1.8-17.3h1m-7 15.9h1m0.4-10.9h1m1.2 16.1h1m-8.6-10.2h1m1.2 13.2h1m-0.2-0.9h1m-6.8-12.1h1m2.7-3.1h1m-0.4 13h1m0-12.4h1m-0.6 5.1h1m-8.1 6.8h1m8.3-7.1h1m-4.2 5.4h1m2.3 7.7h1m-0.5-10.1h1m-3.7 2.3h1m5.8-8.1h1m-13.1-13.3h1m4.7 18h1m-0.6-0.9h1m3.7 3.3h1m-6.3-3.2h1m1.2-4.1h1m-2.2 0.1h1m5.4 4.3h1m-9.2-6.2h1m-2.9-3h1m0.3 10.3h1m2.2-1.8h1m2.5 3.8h1m-14.1-7.1h1m2.7 2.6h1m8.4-5h1m-7.4 3.4h1m-2.1 7.8h1m0 5.5h1m-2.5-12.6h1m-1.6 4.6h1m3-7.5h1m-4-4.6h1m7.6 5.7h1m-15.6 2.1h1m9.5-0.5h1m-5.3-3.1h1m7.3 6.2h1m-10.3 6h1m4.2-10.5h1m2.9 5.9h1m-4.7 1.1h1m-5.1 2.7h1m0.5-2.2h1m0.3 2.2h1m3.5-5.8h1m-5.6-8.5h1m0.6 1.2h1m-7 4h1m3.1-3.3h1m3.1 1.3h1m-6.3 3.6h1m-1.7 1h1m-0.7-2.4h1m4.4 4.8h1m-3.3 10h1m-1.3-18.4h1m-5 2.8h1m-4.6-3.9h1m8.8 14.4h1m-6.2-1.6h1m3.5-13.8h1m-2.1 11.3h1m-4.9-11.7h1m-2.8 11.2h1m6.1-2.3h1m-11.6 0.3h1m-1.8-11.5h1m12.6 12.3h1m-9.3 0h1m2.5 7.1h1m2-7.5h1m2.6-1.1h1m-11.8-4.1h1m1.9 7.8h1m2.8 1.8h1m3-0.9h1m-0.7-9.2h1m-3 7.6h1m-3.4 0.5h1m1.8-1h1m1.7 4.3h1m-1.4-7.2h1m-4.7-3.7h1m4.3 7.7h1m-2.3-1.4h1m-2.1-13.3h1m-4.5 11.1h1m2.2-4.2h1m-0.5 1.9h1m1.5 2.4h1m-6.1 7.1h1m-0.7-5.5h1m1.8-5.5h1m-1 0.6h1m-1.5 3.8h1m-3.7 1h1m-1.3 11.5h1m0.7-18.2h1m-0.5 1.9h1m-0.2 7.6h1m-4.2-6.6h1m-2.6 2.7h1m4.2-9h1m-3.3-0.1h1m-1.1 11.6h1m1.1-8.5h1m-5.6 8.9h1m1.7-6.2h1m-1.6 3.9h1m0.5 4.4h1m-1.9-9.9h1m0.3 0.1h1m-4.7 9.6h1m0.6-5.6h1m-1.8-0.9h1m2.7 5.2h1m-0.6-9.3h1m-3.3 4.7h1m0.2-6.1h1m-2.8-0.3h1m-1.8 9.8h1m2.9 2.8h1m-3.8-5.1h1m1.8-8.2h1m1 6.6h1m-7.9 2.3h1m2.4-1.8h1m-2.8 5.9h1m0.4-9.9h1m-6.2 5.7h1m4.6-3.3h1m-3.8 1.3h1m1.2-1.3h1m-0.7 4.2h1m-0.2-8.5h1m-2.6 4.5h1m-0.4 3.2h1m-2.2 2.6h1m-3.4 1.1h1m0.8-4.5h1m-0.8 4.8h1m-0.7 0.6h1m0-6.9h1m-0.9 10.4h1m0.6-2.2h1m0.8-9h1m-6.8 0.8h1m1.3-1.7h1m-0.5 1.7h1m-2.3 2.4h1m0.8-0.4h1m-6.7-3.4h1m4.7 4.4h1m-2.7 3.6h1m-4.3-1.5h1m2.2-1.2h1m3.2-4.9h1m-4.9 0.1h1m3.2 9.8h1m-0.7-8h1m-4.7-4h1m-2.2 8.2h1m0.9 3.7h1m0.5-15.6h1m-0.3 15.6h1m-3.8-13h1m-3.4 9.1h1m3.7-3.9h1m-7.5-3.4h1m2.1-1.7h1m-0.4-0.3h1m-0.2-1.1h1m-3.1 4.3h1m0.4 6.8h1m0.5-6.3h1m-2.7 10.9h1m-2.7-10.8h1m2.2-2.2h1m-2.2 3.4h1m-3.3 8.2h1m-0.5-11.8h1m4.1 3.6h1m-5 5h1m0.4-7.5h1m-3 5h1m-0.4-3.3h1m-0.8-0.2h1m-1.8 0.3h1m1.4-0.5h1m-0.4 4.9h1m-1.5-11.5h1m-3.3 1.5h1m-1.5 3.9h1m-3.7-5.2h1m5 2.8h1m-3.7-1.3h1m-2.7 5.4h1m-0.9-7.8h1m2.8 6.9h1m-3.1-1.8h1m1 8.3h1m-2.1-13h1m0.5-0.2h1m-2.4 0.3h1m-7.1 2.2h1m7.3 1h1m-6.2 7.4h1m4.5-6.9h1m-3.7 2.9h1m-2.8 0.4h1m-0.5 3.3h1m-1.6-9.6h1m1.4 2.9h1m-0.8 3.9h1m-4.6 6.8h1m-2-10h1m5.1-0.4h1m-2.7 7.2h1m-4.4-3.1h1m3.6-0.4h1m-0.6 8.9h1m-2.4-12.5h1m-1 7.3h1m-3 5.6h1m-5.7-11.5h1m6.1 13.4h1m-3.9-7.6h1m4.5-1.9h1m-5.8 5.6h1m0.9-6.1h1m-3.6-13.4h1m-2.3 13.6h1m0.8-2.1h1m4.2-6.3h1m-5.1 10.7h1m-5-6.2h1m5-1.6h1m-0.7 15.1h1m-5-5.1h1m0.8 1.9h1m-1.2 1.2h1m-2.5-15.1h1m0.7 15.5h1m-4.3-14.2h1m2.8 0h1m14.7 22h1m-5.1-3.6h1m11.2 0.5h1m-13.2 4.7h1m4.9-5.4h1m-4.9 4h1m-5.3 1.8h1m1.8 0.6h1m-1.9-2h1m2.5-3.6h1m-2.9 0.9h1m4.9 5.3h1m-7.6 0.3h1m2.3-4.4h1m7 2.9h1m-7.8-0.3h1m12.5-2.4h1m-16.6 3h1m0.1-4.2h1m0.8 3.2h1m2.2 0.1h1m-3.2-1.7h1m-5.8-0.9h1m-2 4.6h1m-2.1-5.1h1m1.3-0.2h1m-10-1.1h1m0.8 2.6h1m-0.6 0.1h1m14.2-1.4h1m-7.9 4.2h1m3.5-2.1h1m-8.4 1h1m2.3-4.3h1m-7.8 2.3h1m-7.6 4.1h1m9-1.1h1m-2.5-1.3h1m-1.7 1.5h1m-5.6-0.9h1m10.7-0.9h1m0.1 0.2h1m-2.4 0.2h1m2.2-1.9h1m-12.2 4.7h1m7.3 1.4h1m-4.9-4.9h1m-3.4-0.4h1m1.9 5.2h1m-6.7-4.1h1m2.7 0.3h1m0.8-0.2h1m-11.3-0.9h1m18.2-0.9h1m-4.1 2.5h1m-2-5h1m4.4 5.6h1m-7.2 0.9h1m-1.4-3.7h1m5.2-0.4h1m-13.5 5.2h1m-6-4.7h1m12.3-0.8h1m-7.9 3.2h1m6.5-4.4h1m-3.2-2.2h1m-9 4.6h1m2.8-1.2h1m-7.1-0.5h1m5.7 0.1h1m-2.2 0.2h1m4.7 0.7h1m5.3-4.3h1m-10.5 6.7h1m-4.2-2.5h1m1.4-0.1h1m-2.2 0.2h1m-3.2 2.4h1m3.1-1.1h1m-9 4.2h1m0.7-9.6h1m5.3 6.5h1m3.1 0.4h1m-3.5-8.5h1m-5.6 7.6h1m7.1-1.5h1m-5.6-0.1h1m7.2 0.3h1m-8.1 0.9h1m-4.1-1.7h1m-8-0.8h1m13.5 3.7h1m-2.6-2.1h1m1.2 1.8h1m-15.4-4.8h1m13.4 1h1m-9 0.4h1m-15.4 1.4h1m17.2 3.9h1m-12.3-2.7h1m14.7 1.4h1m-2.8 1.8h1m-19-8.6h1m12.6 3.6h1m-3.1-0.7h1m2.7 2.4h1m-11.8-3.2h1m-2.2 5.9h1m12.6-4.7h1m-17.8-0.6h1m10-0.6h1m2.1-0.6h1m0.8 2.8h1m-3.3-1.2h1m10.4 2h1m-7.4-1.8h1m-9 2.1h1m-0.9-0.6h1m-4.5 2h1m4.5-0.8h1m10.3-2.8h1m-9.3 3.9h1m-5.7-4h1m-7.5-0.7h1m-8.6 3.9h1m13.2-4.7h1m-5.1 1.3h1m5.7-1.9h1m-9.7 0.1h1m9.9 3.9h1m-6.7-2.7h1m-3.3 5.7h1m4.4-0.5h1m-5.6-2.4h1m1.6-2.2h1m-5.2 1.4h1m6.2-0.5h1m-13.7 3h1m8.3-6.7h1m2.9 3.8h1m0.8 0.6h1m-2.9 0.7h1m3.5 0.6h1m-7.2-2.4h1m12.7 2.3h1m-19.2-4h1m-9.9 5.1h1m-2-1.7h1m0.7-1.1h1" stroke="#222" stroke-width="0.9" fill="none"/>
<path d="M282.3 285.4h1m-21.1-15.8h1m-11.8 12.9h1m23.1-2.7h1m-5.5-9.9h1m-5.7 27.5h1m-4.8-21.1h1m11.6 9.2h1m3.5-8.8h1m-20.6 3h1m-6.3 3.6h1m21.8-5.8h1m-20.4-0.3h1m24.8 8.7h1m0.7-1h1m-22.9 9.5h1m30.7-15.1h1m-29.2-14.6h1m0.9 2.4h1m-1.2 13.8h1m5-10.8h1m3.3-3h1m-6.3 18.1h1m-12.5-19.5h1m3.1 0h1m-14.4 12.6h1m4.8 7.2h1m12-2.7h1m-2.8-13.7h1m-7.3 13.4h1m7.7-12.5h1m-11.6 9.3h1m6.7-23.7h1m0 12.6h1m9.3 11.5h1m-0.7-3.7h1m-23.2 3.9h1m5.7-30.1h1m-16 37h1m40.1-3.6h1m-46.1 8.6h1m21.4-18.6h1m-17.2 10.5h1m16.6-2.3h1m0.8-5.7h1m3.3 5h1m-14.5-2.9h1m13.5 4.2h1m-16.3-6.1h1m-3.8 1.8h1m0.6-5.9h1m-0.7 2.4h1m25.8 4.4h1m-9.6 0.8h1m-3.8 0.5h1m-30 3.6h1m20-11.6h1m7-0.1h1m-27.3-6.4h1m29 20.9h1m-23.5 4.5h1m10.7-11h1m1.9 1.9h1m-5-9.9h1m0 6.3h1m4.4 9.1h1m6.6-7.8h1m3-12.2h1m-2.8 12.1h1m-14.4-2.1h1m-24.5 6.2h1m8.8 5.5h1m5.9-11.3h1m11.2 3.2h1m5.1 3.5h1m-18.2-13.1h1m-4.1 4.6h1m7.3-10.2h1m0.2 13.5h1m4.4 3.3h1m-0.2-2.6h1m-11.7 0.7h1m-25.9-8.5h1m21.6-0.5h1m-29 14.9h1m29.8-4.4h1m30.4-7.2h1m-17 6.8h1m-10.6-9.6h1m19.5-1.6h1m-36.9 9.4h1m14.9-3.1h1m0.5 2.8h1m-14.5 14.6h1m0.3-13.8h1m12.9-1.7h1m-5.8 13.3h1m-10.1-20.1h1m3.9 4.6h1m7.7-2.4h1m-10.5 2.8h1m-6.9 16.7h1m11.4-29.8h1m-6.7 22.7h1m1.8-18.4h1m-15.3-1.9h1m11.4 10.2h1m-4.5 0.4h1m-12.9-1.5h1m31.8-5.7h1m-16.3 12.6h1m0.2-13.8h1m5.8 13.5h1m4.8 15.6h1m-5.1-29.3h1m-19.7 11.2h1m8.9-1h1m-10-11.8h1m3.1 11h1m5.7 6.9h1m4.9-19.3h1m-4.1-4.8h1m-16.3-0.9h1m4.6 1.3h1m-10.3 5.8h1" stroke="#333" stroke-width="0.8" fill="none" stroke-opacity="0.7"/>
<path d="M352 248.5L356 244L364 241.8L375 241.8L380.5 245.5L381.5 252.5L378 259L366 261.5L355 261L352 255.5Z" fill="#000"/>
<path d="M360.7 252.8h1m10.5 4.8h1m3.6-3.2h1m-17.4 1.5h1m-1.8-4.6h1m-6.9 10h1m23.3-8.5h1m-19.7 5.8h1m16.3-6h1m-3 7.3h1m-20.9 0h1m3.6-7.5h1m19-4.3h1m-7.9-2h1m-12.7-2.4h1m-5.1 3.6h1m17.8-4.7h1m-2.9 9.9h1m-17.3-3.5h1m20 1.2h1m-7 5.7h1m4.5-3.6h1m-14.5-9.1h1m-1.7-0.3h1m-1.3 15.7h1m1.8-19.9h1m-6 22.6h1m10.6-16.7h1m7.2 4.6h1m-16.6-0.7h1m-11.6 9.7h1m7.3-6.8h1m10.8-1.4h1m-5 8.2h1m-9.5-14h1m-7.3 18h1m1.8-5.4h1m20.2-5.7h1m-8.5 6.9h1m-20.5 0.5h1m25.5-13.9h1m-6.5 12.9h1m-8.1-13.6h1m-5.1 17.7h1m7.5-5.6h1m-9.3 2.3h1m0.7-4.1h1m6.2-0.9h1m0.7-3.7h1m-17.9 9.7h1m-1.1-12.6h1m-0.7 0.3h1m-0.6 11h1m-5.1-7h1m9.3 8.8h1m1.7-16.2h1m-9.1 4.1h1m-6.2 10h1m23.1-5.9h1m-24.7 4.7h1m23.9-0.6h1m-5.5 0.9h1m-13-2.6h1m16.2 7.9h1m-6.5-5h1m-7.3 6.9h1m-13.2-7.1h1m15.8-16.2h1m5.3 11.8h1m-2.8 2.9h1m-24.1-4.9h1m12.9-4.5h1m0.1 9.1h1m7.3-0.6h1m-23.1-4.2h1m24-4.9h1m-26.9 9.5h1m0.6-4.8h1m21.3-8.2h1m0.1 5.2h1m-14.4 13.2h1m5-13.9h1m7 11.7h1m-1.1-9.4h1m-2.7 8.8h1m2-13.3h1m-4.3 9.9h1m-22.7-5.4h1m4.5 4.5h1m8.7-0.7h1m-12.4-0.4h1m-3.9-6.5h1m15.2-2.5h1m-9.8 3.7h1m0 1.5h1m9.2-8.3h1m-12 10h1m-6.6 3.6h1m6.2 4.8h1m14 2.4h1m-15 1.7h1m4.5-3.7h1m-3.9-9.2h1m3.4-3.1h1m-17.7 8.9h1m-1-8.3h1m-7.1 8.5h1m15.9-10.2h1m-9.1 2.6h1m11.8-2.8h1m2.9 8.5h1m-6.2-4.3h1m-3.7 9.9h1m10.9-0.5h1m-15 3.5h1m4.8-8.9h1m-5.3-11.2h1m-7.8 15.1h1m9.7-11.1h1m-16.1 12.4h1m16.6-11.7h1m-6.8-3.1h1m13.3 10h1m-10.2-1.4h1m-2.8 2h1m-4.2 4.9h1m-13.2-3.2h1m2 1.1h1m-4.6-3.9h1m11.7 8.5h1m-10.4-15.1h1m0.5 7.6h1m-2.8-0.3h1m3.6-6h1m-11.8 12.7h1m6.1-16.2h1m16.4 10.5h1m-20.6-3.2h1m-0.3 8.5h1m-3.2-10.2h1m21 0.5h1m-24 2.5h1m12.9-5.2h1m-11.9 10.5h1m0.4 0.3h1m20.3-9.2h1m-24.5 9.2h1m6.5-14.8h1m-2.4 4.7h1m8 0.4h1m-10.4-4.1h1m-0.7 15.5h1m-4.1-16.3h1m-1.8 8.6h1m-1.2 5.1h1m-4.6-2.2h1m10.7-9.9h1m6.1-2.7h1m3.9 1.4h1m-25.4 5.6h1m0.6-0.4h1m13.3 3.9h1m-2.6 1.6h1m-10.7-3.8h1m10.8 4.6h1m-2.8-14.6h1m-10.2 12.5h1m3.5 3.4h1m7.2-10h1m-13.8 4.6h1m-2.6-0.1h1m18.7-7h1m-9.4-2.2h1m6.6 13.1h1m-3.3 1.9h1m-2.2-2.4h1m-14.9-12.2h1m0.8 18.9h1m7.6-13.4h1m-11.5 2.8h1m3.9-4.2h1m-3.8 0.8h1m9.8-0.9h1m-10.9 2.5h1m7 5.4h1m-6.4-1.3h1m7.9-9.7h1m-12.9 1.8h1m8.3 10.2h1m-12.5-13.6h1m-4.8 2.2h1m8.8-0.9h1m0.8 13.5h1m5.1-10.3h1m-13.6 4.2h1m9.7 7.1h1m-13.8-1.5h1m15.6-2.5h1m-0.6-11.4h1m-24.8 1.4h1m6.8 13.6h1m8.5-13.1h1m8.4 10.4h1m-23.6-4.2h1m19.2-0.1h1m-13.9 8.5h1m-10.8-7h1m3.1 7h1m19.5-10.8h1m-20-3.2h1m18.9 9.4h1m-1.3-0.9h1m-7.5 1.3h1m-18 0.9h1m4.9-11.6h1m11.6 2.9h1m-3.7-4.5h1m-1.2 3.8h1m7.4 8.1h1m-25.3 3.4h1m14.6-4.2h1m9.2 0.6h1m-7.8 3.6h1m-14.9-12.8h1m17.2-3.4h1m-12.4 11.2h1m3.5-7.5h1m-3.8 6.5h1m-1 5h1m-15.2-9.8h1m3.7 3.8h1m8.9-7.4h1m-14.8 5.1h1m21.8-1.1h1m-5.3-3.4h1m-9.1 0.4h1m0.3 5.5h1m-6.7-4.5h1m12.2 2.5h1m1.1-3.1h1m-7.6 0.6h1m-13.9 2h1m18 12h1m-16.6-14.1h1m12.6 4.2h1m-7.4 7.7h1m-5.7-16.1h1m6.2 6.3h1m-10.6 8.7h1m-0.2-2.7h1m14.8-2.5h1m-17.5 3.2h1m-3.6-6.4h1m20.1-1.9h1m-0.1 0h1m-13.7 10.4h1m-8.9-9.2h1m11.6-5.4h1m-4.4 6.4h1m5 1.6h1m-3.5 4.4h1m-11.9-11.2h1m2.1 18.2h1m10.2-4h1m-13.5-2.3h1m12.3 0.1h1m-15.3 1.2h1m11.4-10.7h1m-11.1 9.4h1m-7 3.3h1m9.8-6.6h1m3-6.6h1m-10 14.5h1m6.5 0.9h1m4.8-12.4h1m-14 4.7h1m-0.5-8.4h1m-1.6 0.6h1m1.5 6.4h1m-3.7-8h1m11.1 15.9h1m-7.8-17.8h1m-7.4 10.2h1m-6.9 5.4h1m-8.4 2.2h1m8-9h1m7.6-2.6h1m-2.6-0.9h1m6.7 1.8h1m-12.6 12.2h1m-11.1-7.4h1m13.2-2.8h1m2.6-2.7h1m-3.2 9.9h1m2.4-11.8h1m1.2-3.7h1m5.8 5.5h1m-14.4 2.7h1m4.3 0.2h1m-6.3 12.6h1m-7.9-9h1m18 5.6h1m-20.7-0.2h1m-6.4-7.6h1m18.7 2.6h1m-7.8-3.8h1m6.2 5.5h1m-1.6-2.7h1m-20.7-2.7h1m21.9 7.7h1m-12.3 0.1h1m-1.3 0.3h1m15.7-16.1h1m-20 5.1h1m8.4 1.4h1m-13.5 7.6h1m-1.6-12.3h1m16.3 5.9h1m-10.1-4.7h1m-13.5 12.3h1m22.9-1h1m-4.8-3.5h1m-12-10.6h1m-1.1 2.9h1m5.5 7.7h1m-12.2 2.4h1m6.9 2.3h1m4.6 1.1h1m-16.1-7.4h1m19.8-7.9h1m-24 9.2h1m5.1-5.5h1m5.8 8.6h1m-3.9-8.4h1m-5.5 7.4h1m-6 2.5h1m26.8-5.4h1m-11.8 7.4h1m0.9-7h1m-11.6-6.4h1m-10.1 4h1m21-1h1m-9.7 7.6h1m-10.3 2.4h1m15.6-7.6h1m-10.1 7.6h1m-2-7.5h1m-15.6-2.3h1m24.2 2.2h1m-18.3 9.5h1m7.8-15.1h1m-5.2 10.2h1m15.9-0.8h1m-6.3-2.9h1m-8.8-9.8h1m4.2 3h1m-7 3.6h1m-9.9 6.9h1m0.4 1.7h1m13.8-6.4h1m-6.3 3.7h1m-14.7-5.9h1m15.6 6h1m5.9 3h1m-4.3-8.7h1m2.9 7.5h1m3.8-10.9h1m-17 2.6h1m5.2 9.4h1m5.7-4.8h1m-2.2 8.2h1m-21.9-7.2h1m13.1-5.8h1m-3.4 5.5h1m-3.5-4.7h1m-8.3 10.8h1m10.8-9.3h1m-13-5.2h1m-0.1 12.6h1m20.3-7.9h1m-32.6 5.4h1m28.8-9.1h1m-2.7-2.6h1m-7.7 12h1m-22.3-0.6h1m3.4-6.1h1m17.5 3.7h1m1.2-7.4h1m-0.5 7.3h1m-2.6 5.3h1m-1.2-16.9h1m-15.7 4.3h1m18.2 11.4h1m-10.7-6h1m12.8-3.5h1m-33.2 3.6h1m13.9-10.6h1m-3.5 21h1m8.3-12.2h1m-2.3 0h1m-9.2-6.4h1m-2.5 6h1m13.8 3.4h1m-12.1-11.5h1m5 5.3h1m2.8 6.9h1m2.8-3.9h1m2.4-0.1h1m-22.3 11h1m-5.3-13h1m2.6 1.9h1m6-2.7h1m-1.3 12.5h1m-3.7-3.5h1m-7-7.2h1m2.7 7.3h1m9.7 1.5h1m-3.5-6.7h1m-5 6.8h1m7.5-7h1m-19.4 11.1h1m10.1-20.1h1m12.4 9.8h1m-5.2-9.9h1m-11.8 17.7h1m12.5-10.6h1m-17.6 9.5h1m4.1 5.2h1m5.6-17.3h1m6.9 7.5h1m-11.3-3.9h1m-15 9.4h1m-2.4-3.2h1m-3 1.5h1m10.3-9.8h1m-1.3-3.8h1m-13.5 12h1m6.4-4.7h1m-1.5-5.2h1m5.1 15.2h1m6.7-6h1m-4.5-10.7h1m9.4 9.6h1m-25.1-9.1h1m4.8 2.2h1m6.5 4.9h1m-15.6 2.4h1m23.8-3.6h1m-2.6 3.2h1m-8.9-7.7h1m-10.7 1.1h1m11-4.5h1m-2 13.5h1m1.3-4.4h1m4.3 2.8h1m-10.7 4.3h1m3.7-0.8h1m-19-2.8h1m-1.3-8h1m9.3 2.4h1m-15.1 8h1m10.3-0.4h1m5.1-11.6h1m7.2 11.7h1m-14.7 0h1m0.3-14.5h1m2.3 4.2h1m-2.9 5h1m-4.5 6.8h1m-1.7-6.2h1m8.3-7.6h1m-5.4 8.8h1m13 3h1m-6.6 2.3h1m-2.7-7.8h1m-21.5 7.2h1m27.2-10h1m-10.4 10.7h1m-18.8-0.3h1m2.2-11.5h1m12.8 5.2h1m-19.6-1.6h1m22.3-7h1m-7.4 7.7h1m-12.8 9.4h1m6.1-8h1m2.3 3.5h1m0.8-3.7h1m-1.3-6h1m10.3 7.2h1m0.4-7.1h1m-32.5 2.8h1m16.2 2.9h1m10.4 4.7h1m-21.9-11.9h1m8.5 3.4h1m0.8-0.6h1m-13.9-2.3h1m12.7 14.3h1m-2.9-8.8h1m-2.4-2.6h1m-1.3 0.5h1m-6.2-1.9h1m1.2 2.3h1m-8 7.7h1m1.5-12.8h1m17.3 10.2h1m-25.9-3.1h1m16-1.2h1m-13.1 8.8h1m-9.3-5.1h1m26.4-4.4h1m-16.5-0.5h1m5.7-1.4h1m-2.3 9.7h1m8.8-11.7h1m-15-4h1m-7.5 5.9h1m17.4-3.5h1m4.4 1.7h1m-12.2-3.5h1m-5.1 12.8h1m6.8 2.6h1m-10-11.1h1m11.4 2.1h1m-6.6-4.5h1m-9.3 8.7h1m4.2-6h1m-7.1 3h1m1.7-2.6h1m9.2 12.2h1m-14.1-0.4h1m7.9-2.9h1m-13-6.8h1m-0.9 4.9h1m11.7 1.1h1m-13.3-13.2h1m15.6 11.4h1m-12.8 7.1h1m-4.3-4.8h1m9.9-9.7h1m-8 12.7h1m7.4-10.2h1m1.4 3.1h1m-6.6-3.9h1m12.3-4h1m-26.2 16.7h1m16.6-5.3h1m-15.9-7.4h1m13.9 10.7h1m-4.5-16.7h1m-20.5 5.8h1m5.2 6.8h1m3.6 1h1m5.5-1.2h1m6.5-6.3h1m-24.7 4.5h1m22.7-0.9h1m-0.6-3.2h1m-12.2 4.6h1m4.3-0.1h1m8.8-5.2h1m-6.6-4.2h1m-19.4 14.7h1m6.9-12.3h1m-1.3 4.2h1m5.2 1.4h1m6.4-2.8h1m0.5 2.8h1m-4-2h1m-20.3-6.5h1m7.2 18.8h1m4.4-2.5h1m5.7-8.3h1m-25-0.1h1m6.3 3.9h1m13.6-5.4h1m-13.5 5.7h1m4.5-8.4h1m-10.3 10.9h1m8.8-1h1m2.1-6.3h1m-7.8 1.3h1m1.1-2.3h1m-12.4 2.2h1m21.5 2h1m-20.7-5.9h1m3.7 3.6h1m15.2 2h1m-26-2.1h1m16.9 5.9h1m-3.5-7.2h1m-4-6.5h1m-14.5 15.5h1m6.1-3.1h1m11.2-9.3h1m6.1 3.5h1m-21.4 6.7h1m2.6 0h1m-3-7.8h1m16-3.8h1m-21.8-0.6h1m-1.7 16.5h1m12.6-19.1h1m-14.2 6.6h1m5.5 8.7h1m-2.9-9.1h1m-6 2.7h1m7-4.3h1m7.7 3.5h1m-0.7 6.3h1m1.7-9.7h1m-16.7 6.9h1m2.5-10.8h1m4.9 10.1h1m1.6-6.8h1m-3.1-2.2h1m5.3 11.5h1m-3.1-11.2h1m-15 2.8h1m-4.2 3h1m15.1 0.9h1m-5.2-3.4h1m4.3 8.9h1m-11.3 5.8h1m3.1-0.7h1m-12.7-17.6h1m12.8 14.6h1m7.6-5.1h1m-4.8 2.9h1m-7.9-5.2h1m-13.5 5.4h1m22.2-8.1h1m-9.8-5.3h1m-4 0.9h1m-12.5 7.3h1m3.5 2.5h1m2.8-10.6h1m6.4 1.5h1m8.2 4.3h1m-11.8 5.6h1m-16 2.9h1m20.7-1.8h1m0.9-12.1h1m-16.6 17.1h1m9.3-10.6h1m-1.1-0.8h1m1.6 8.4h1m-3.7-6.9h1m-13.1 1.7h1m14.6 2h1m-6.5 1.9h1m-11.5-13.9h1m3.5 7.7h1m9.2 1.9h1m-13.4 0.1h1m0.8 6h1m4.1-14.1h1m-12.9 6.9h1m2.8 5.1h1m0.8-9.1h1m6-1.8h1m-2.9-2.1h1m-2.5 3.4h1m5.4 12.7h1m-8.2-0.5h1m12.3-7.8h1m-18.2 6.2h1m12-7.4h1m-10-1.3h1m12.6-1.4h1m-6 5.5h1m-15.8 2.9h1m-9.6-7.8h1m14.9 5.2h1m0.2 6.6h1m-7.3-15.7h1m-1.7 1.4h1m-3.1-1.4h1m2.4 4.1h1m-9.8 8.6h1m8.4 1.5h1m8.2-9h1m4.9 1.9h1m-15.5 9.1h1m-3.8-18.8h1m-5.6 9.7h1m13.9 3.9h1m-12.2-7.6h1m10.1 1.9h1m-1.6 5.2h1m-12.3-6.6h1m0.9-5.7h1m6.5 18.8h1m-9.6-5.5h1m18.1-13.3h1m-23.3 9.6h1m8.6-7.8h1m-8.2 9.8h1m3.4-11h1m4.3-3.3h1m-1.6 20.6h1m-15.4-10h1m19.4-2.9h1m-0.9 12.2h1m-21.5-4.4h1m-0.7-3.1h1m16.5 1.9h1m-3.6-8.2h1m-16.3 4.1h1m7 5.4h1m-8.6-3.9h1m12.5-6.7h1m5.6 13h1m-21.6-5h1m14.4-3.8h1m0.2-3.3h1m-8.2 13.7h1m13.4-7.4h1m-18.4 2.7h1m10.9-4.3h1m-19.9 0.8h1m21.8-3h1m-6.2 12h1m-7.7-10.7h1m3.8-4.5h1m11.4 12.6h1m-25.5-11.2h1m0.8 11.1h1m-9.7-6.4h1m16.1 3.6h1m-4.9-1.9h1m-9.9 0.7h1m13.5 11.1h1m2.1-6h1m-10.5-3.7h1m0.1 1.6h1m3.9-13.4h1m-10.3 12.5h1m-3.3-4.6h1m18.7-2.9h1m1.3-4.2h1m-0.2 4h1m-19.8 2.3h1m-0.6 0.5h1m20 1.9h1m-24.4 1.3h1m-0.3-7.1h1m4.5-2.6h1m9.8 7.7h1m-2.4-0.2h1m6.1 3h1m-20.5-11.1h1m3.7 7.4h1m-3.1-4.9h1m-8.4 0.8h1m-1.7 1.7h1m-1.1 12.7h1m1.3-10.1h1m10.9-3.5h1m-15.5 15.1h1m12-20.5h1m-14.5 18h1m0-8.4h1m20-2.9h1m-24.9 5.1h1m11.7 3.7h1m-19.4-10.4h1m23.6 6.9h1m5.5-1.2h1m-29.1-5.3h1m23.4 4.8h1m-1.6 1.4h1m-12.4-3.5h1m-5.7 3.8h1m-5.3 8h1m15.2-7.9h1m-19.9-0.5h1m7.1 4.7h1m9.1-1.8h1m1.5-10.3h1m-9.7 13.9h1m3.6-3.3h1m-6.3-0.7h1m-11.8-2.7h1m15.4-5.3h1m-2.7-1.8h1m3 9.5h1m-14.4-4.5h1m13.2 2.5h1m-13.5-4.4h1m11.3 4h1m0.9 2.1h1m-12.3-7.5h1m-1.8-3.7h1m9-1h1m0.2 14.1h1m-8.7-7.7h1m-8.2 0.9h1m10.4 12.8h1m-0.1-16h1m8.3 7.7h1m-24-0.1h1m19.5-2.5h1m-16.6-1.2h1m-10.8 5.5h1m13.1-2h1m-9.8 3.9h1m4.2-6.4h1m-3.1 5.2h1m-0.3 1.9h1m-10.3-4.3h1m19.7-7.5h1m-5-3.5h1m-10.6 3.1h1m6.3 12.6h1m-10.9-7.9h1m8.9-8.7h1m2.7 16.7h1m-3.4-19.2h1m-2 9.1h1m6.5 5.1h1m-13.4 5.5h1m-1.6-1.1h1m4.9-7h1m-10.4-0.2h1m-0.7 0.7h1m10-6.1h1m-15.3 15.5h1m14.4-7.8h1m-15.6-0.6h1m9.3-0.2h1m8 6.8h1m0.9-10.3h1m-17.6 2.1h1m22.1-1.1h1m-3.9 4.3h1m-2.7-1.5h1m-10.5 5.2h1m-6.4-5.3h1m8.1 5.4h1m-12.1-15.9h1m6 14.4h1m-8.1 0h1m-6-7.3h1m5.5-2.9h1m1.9 11.2h1m10.3-16.6h1m-13.3 5.8h1m7.4-0.6h1m3.5 9.6h1m-28.3-5.7h1m20.5-1.8h1m-17.2-1.7h1m13 14h1m6.6-11.9h1m-10.5 5.3h1m11.1 3.7h1m-7.8-9.6h1m-3.8 1h1m3.3 1.4h1m-2.4-1.9h1m-9.6-2.6h1m7.2-2h1m-10.1 12.1h1m2.6-6.2h1m7 1.4h1m-4.7-3.9h1m6.9 0.7h1m-11.6-4.9h1m-14.7 12.2h1m5.7-1.3h1m1.1 3.4h1m8.2-5.2h1m1.1 3.2h1m2.5 1.3h1m-14.9-12.4h1m-13 16.8h1m12.3-12h1m-9.4 6.8h1m3.9-10.5h1m-9.7 1.5h1m19 5.6h1m-17.7-7h1m-2.2 9.8h1m1.1-6.5h1m11-2.9h1m6.9 1.8h1m-12.4-7.7h1m-11.9 13.5h1m19.8-13.1h1m-2.4 7.8h1m-3.6-2.7h1m3.3 6.9h1m-26.4 1.3h1m18.5-8.7h1m1.2 2.4h1m-3.2-2.5h1m-0.6 15.4h1m-21-8.5h1m8.7 1.8h1m6.3 4.9h1m-7.2-18.3h1m2.4 21.3h1m6.5-9.2h1m-1.7-3.7h1m8.4 1.4h1m-7-7h1m-14.7 4.5h1m4.6-2.5h1m-10.3 4.3h1m4.5 3.2h1m3.2-7h1m6 5.3h1m-18.3 5.1h1m16.9-2.4h1m-16-6.7h1m-0.2-1.9h1m9 0.7h1m-12.3 11.3h1m7.2-2.6h1m-4.8-12.4h1m1.8 3h1m-2 2.6h1m9.1-2.2h1m-11.6 6.3h1m-4.5-5.8h1m0.6 6.9h1m-9.7-0.2h1m11.3 2.5h1m11-5.3h1m1-3.2h1m-11.9-4.9h1m6.4 14.6h1m-8.2 0.4h1m-11.1-11.1h1m-1.9 1.9h1m3.7-5.2h1m13.4 8.7h1m-11.1-0.8h1m-3.6-4.1h1m8.1 1.1h1m-5.9 3.7h1m-15.7 7.7h1m7.5-10.4h1m16.6-4.2h1m-31.7 6.4h1m27.9 3.6h1m-9.1-1.2h1m-4.2-3.6h1m-5.9 0.6h1m-8.5 3.2h1m10.2 7.5h1m12.6-11.4h1m-19.5-5.3h1m12.7 6.5h1m-13.4 4.5h1m12.6 0.6h1m-21.6-0.8h1m13.6 5.5h1m6-6.1h1m-19-7.4h1m-5.2 11.3h1m24.9-9.4h1m-27.9 4.4h1m3.4-2h1m-1.8-1h1m-4.9-1.9h1m6.7 6.1h1m13.4-9.6h1m-1.9 14.1h1m3-13.3h1m-20.6-4.1h1m12.9 5.7h1m-11.7 14.3h1m-8.2-16.3h1m12-1.5h1m3.9 3.9h1m-10.4 13.7h1m-11.9-13.5h1m4.7 4.5h1m21.9-7.5h1m-14.4 16.1h1m-7.2-7.8h1m-0.8-1.7h1m4.5 2.6h1m7.8 4.4h1m-8.9-10.5h1m-5-3.5h1m13.2 8.8h1m-9.1-4.1h1m-16.8 0.5h1m10.5 0h1m-10.8-5.5h1m-6.9 13.6h1m14.5-13.1h1m-0.2 1.1h1m4.6 6h1m-9.5 4.9h1m-8.8 1.2h1m5-4.9h1m-4.1 2.1h1m14.1-7.7h1m-3.3-3.4h1m-5.3 0.5h1m-3 13.5h1m11.7-3.6h1m-25.5-3.6h1m17.8-6.6h1m-21.5 6.3h1m9.7 0.3h1m-4.3 1.7h1m15.6-8.8h1m-12.9-0.2h1m7.1 15.1h1m-14-15.1h1m-5.6 14.2h1m14.6-17.1h1m-14.7 5.2h1m-1.2 9.6h1m4.4-14.5h1m-12.1 11.3h1m18.8 6.2h1m-14.3-0.2h1m1.9-6.9h1m-8.7 1.9h1m-0.3 2.2h1m16-0.4h1m-4.2-5.2h1m12.9 3.9h1m-23.5 5.5h1m2.9-12h1m4.1-1.3h1m3.3 6.5h1m-9.8-1.4h1m10.4-8.6h1m5.5 7.6h1m-21.4-2.5h1m14.1 1.6h1m-10.9-3h1m13.5 8.2h1m1.1-6.9h1m-21.2-4.4h1m4 9.1h1m-1-0.1h1m-13.4 7.7h1m10.3-2.7h1m9.1-1.1h1m-0.8 2.8h1m-21.2 1.1h1m5.2-16.5h1m-2.7 5.3h1m-1-1.2h1m16.9-2h1m-10.3 8.4h1m-3 7.7h1m3.5-19.7h1m0.6 15.1h1m-20-11h1m12 2h1m-12.7 3.9h1m21.2-1.1h1m-20.5 8.6h1m15.2-12.4h1m-11 10.6h1m3.2 3.7h1m7.2-12h1m-7.4-5.3h1m-10.3 3.8h1m9.1 3.9h1m-21.8 1.3h1m5.4 6h1m6.9-12.3h1m7.7 0.8h1m-13.5 2.5h1m-3.1 0.8h1m22.5-4.3h1m-13.9 9.2h1m-12.6-4.6h1m2.9-0.2h1m0.1-0.3h1m-6.1-2.7h1m21.8 5.4h1m-28.4-2.9h1m25 1h1m-7.1-5.7h1m0.2 12.4h1m-1.4-7h1m-11.1 0.3h1m12.9-1.6h1m-18.1-4.2h1m17 2.2h1m-19.4-1.7h1m-4.6 8.3h1m8.5-3.3h1m-4.5-0.8h1m-5.5 8h1m0.2-2h1m16.4-7.7h1m-13 8.3h1m1.6-6.8h1m-0.4 3.3h1m-11 4.9h1m5.6-10.9h1m-5.5-0.2h1m4.5 7.3h1m3.6-9.5h1m-4 8.7h1m-17.2 3.1h1m16.6-5.8h1m5.5-2.3h1m-9 4.6h1m3.6-6.6h1m1.3 5.8h1m-8.1 4.3h1m0.6 3.8h1m-6-13.1h1m-5 17.1h1m0.6-20.7h1m1 15.1h1m-3.3-3.2h1m8.3-6h1m-7.9 2.2h1m11.2 3.3h1m-7.8-4.8h1m1.5 0h1m-6.8 8.9h1m2.6-11.9h1m-9.6-6.1h1m5 13.2h1m4-11h1m-14.3 6h1m2.8 0.6h1m5.3-8.1h1m-16.5 5.9h1m3.9 9.7h1m-5.7-10.4h1m7.6 3.5h1m11.6-5.8h1m-7.7 16.3h1m3.1-2.8h1m10.6-5.9h1m-25.1-1.6h1m-4.7 2.7h1m4.1-9.8h1m12.1 4.5h1m-6 9.9h1m1.6-2.1h1m-12.2-4.6h1m7.6-7.1h1m3.6 8.3h1m-21.9-4h1m5.1 5.7h1m18.6-2.7h1m-15.1 6.3h1m4.8-10.9h1m0.8 10h1m-8.5-0.1h1m-0.5-0.3h1m15.5-10.7h1m-8 3.5h1m-16.9 11.3h1m-0.5-7.5h1m-4.7-1.3h1m16.3 9.4h1m0-15.8h1m-25.1 11.7h1m15.4-0.6h1m0.3-7.6h1m-5.5-4.7h1m-4.7 2.8h1m-0.7-4h1m-1 14.9h1m8.7-6.9h1m-3.5-4.1h1m6.7 12.6h1m-20.8-3.5h1m15.3-1h1m-4.4 7.2h1m0-4.6h1m-0.6-3.7h1m-2.1 0h1m-8.9-7.2h1m8.3 0.7h1m-10.1 3.7h1m0.6-6h1m0.6 13.1h1m-7.3-9.1h1m1 2.3h1m14.8-1.2h1m-16.1 5h1m8-15.5h1m-14.9 15.1h1m7 5.4h1m3.1-12.5h1m2.1 12.4h1m0.7-16h1m-10.1 2.6h1m16.5 10.7h1m-20.2-5h1m1 8.9h1m5.9-10.5h1m-3.7 7.2h1m-3.1-10h1m-0.4 10.9h1m-11.7-13.8h1m16.5 1.1h1m-6.4 16.2h1m-6.2-7.6h1m0.4-1.1h1m7.1-10.6h1m-9.6 6.3h1m10-6.2h1m-22.2 9.3h1m25.8 2.4h1m-15.5-3.5h1m-12.8 7.5h1m11.1-5.1h1m3.7 5.4h1m5.9-0.3h1m1.2-11.7h1m-5.3 4.9h1m-23.7-6.6h1m24.3 8.8h1m-12.1-6.9h1m11 13.5h1m-15.2-2.8h1m5.5-9.7h1m-7.9 1.4h1m18.6 1.7h1m-6.2-4.5h1m-1 6.4h1m-22.8-6.5h1m5.9 12.6h1m6.1-8.3h1m-5.8 4.8h1m-5.7 5.3h1m9.5-4.8h1m8.5-6.7h1m-4.2-0.7h1m-6.8 3.7h1m-16.2-0.3h1m15.8-8.7h1m0.1-2.5h1m-19.6 12.9h1m21-12.4h1m-7.9 1.1h1m-10.5 11.5h1m17 3.2h1m-21.9-10h1m11.2 4.9h1m2.2 3.6h1m-5.5 3.5h1m4.8-6h1m-14.7-12.4h1m-0.5 13.3h1m0.6-2.6h1m-6.1 11.7h1m-2.2-16.7h1m10.3 11.1h1m-18.5-12.6h1m20.9 2.7h1m-6.7 6.3h1m1.4-11.5h1m-17.2 6.1h1m-0.1 4.1h1m9.6-5.8h1m-11.3 6.9h1m-5-1.1h1m16.6 6.4h1m5.5-3.4h1m-3.2-6.7h1m-15.4-6.7h1m-1.8 11.4h1m11.6-7.5h1m-5.2 2h1m1.1 7.2h1m-7.3-2.4h1m0.4-3h1m5.5-7.5h1m-17 7h1m9 3h1m1.1-3.2h1m-11.2 10.1h1m14.5-2.5h1m-18.2-3.1h1m-1.8-5.8h1m10.8 5.8h1m-10.9-9.4h1m18.7 7.8h1m-23.6-1h1m22.6 2.4h1m-20.7-1.3h1m0.3 2.8h1m-2.4-4.1h1m2.2 0.6h1m-0.5 1.8h1m3.5 0.5h1m13.7 3.1h1m-13-5.8h1m-10.6 0.2h1m24.1-2h1m-24.3-1.5h1m4 4.4h1m11.6-5.6h1m-6.7 13.4h1m-9.6-6.9h1m14.6-1.2h1m-10.4-2h1m8.5 4.3h1m-8.4-12.2h1m-0.8 11.6h1m3.7 3h1m-8.1-16h1m12.4 11.7h1m-16.3 5.4h1m9.4-2.3h1m-0.3-13.7h1m-19.7 9.7h1m-3.8-5h1m-1.6 5.6h1m7.1 5h1m-9.5-6.7h1m-2.8-6.4h1m19.3 8.8h1m-16-8.2h1m15.7 7.7h1m-13-5.3h1m1 5.5h1m10.9-7.9h1m-2.8 9.9h1m-13-5.1h1m5.7-3h1m-8.3 1.5h1m7.5 1h1m8.1-0.7h1m-17 0.7h1m7.8 8.5h1m-1-10.9h1m-6.1 0.3h1m-3.1 1.1h1m-5.9 3.6h1m6.9-9.3h1m-9.7 18.6h1m-6-16h1m9.3 13h1m-11-14.2h1m22.1 4.9h1m-14.2 11.4h1m7.8-4h1m-17.4 3.5h1m14.4-15.2h1m-18 11.1h1m15-9.1h1m-11.5 8.8h1m-9.9-2.2h1m17.8-10.2h1m-11.7 9.8h1m-5-9.5h1m-2.2 1.1h1m17.4 10.7h1m3.6-3.7h1m-0.5-3.8h1m-18-3.3h1m11 10h1m-17.3-9.8h1m10 13h1m6.7-10.2h1m-10.9 7.2h1m7.1-5.4h1m-3.2 11.2h1m-16.7-20h1m-1.1 17.4h1m6-2.2h1m12.7-2h1m-9.4-8.6h1m-11.5 5.3h1m19.6 5h1m-7.7-6.1h1m-0.6-0.9h1m-11.3-4.7h1m-10.1 1.3h1m5.3-1.1h1m-0.6 2.8h1m-8.1 6.2h1m0-3.7h1m23 4.1h1m-15.4-0.9h1m2-0.2h1m3.2-4h1m4.6-3h1m-5.1 12.8h1m-11-1.6h1m3.8 4.2h1m5.8-17.7h1m-4.9 14.7h1m-7.4-2h1m5.4-7.1h1m3 1.4h1m3-4.4h1m-23 5h1m15.8-3.2h1m-1.8 2.8h1m-2-9.3h1m8.7 7h1m-13.6-4.1h1m-3.1 5.8h1m1 4.3h1m-8.6-9.3h1m4.7-1.6h1m7.7 12.4h1m-16.7-1.8h1m13.9 3.5h1m-16.8 0.6h1m1.4-10.2h1m1 7h1m3.1 5.4h1m5 1.3h1m-2.5-8.2h1m-6.1-11.2h1m-3.1 11.2h1m7.5 2.9h1m-18.4 2.9h1m19.1-6.9h1m-19.7 7.4h1m4.5-14.4h1m16 0.2h1m-18.1 13.3h1m-9.7-10.2h1m10.3 7h1m4.2-11.2h1m-4.6 0.6h1m-4.4 13.1h1m0-8.5h1m1.5 6.5h1m-4.4-8.8h1m-5.9 13.9h1m4.4-17h1m14.3 5.2h1m-13.1-6.6h1m3.4 2.5h1m2.7 6.4h1m-14-4.2h1m0.3 7.7h1m14.9-5.5h1m-14.4 1.5h1m-10.5-6.5h1m17.3 14.4h1m0.5-7.5h1m1.1-5.2h1m-15.8 14h1m3.7-11.1h1m2.5 3.8h1m10.1-7.1h1m-7.4 5.4h1m-2.1-10.8h1m-8.6 6.7h1m-14.4 4.7h1m14.2 5.6h1m-8.6-0.1h1m10.7-2h1m6.6-5.9h1m-11.6-7h1m5.3 15.1h1m2.1-12h1m-24.6-3h1m2.1 8h1m-4.8-7.6h1m21.6 11.1h1m-11.1 2.2h1m0.9-0.6h1m-16.4-4h1m1.2-0.1h1m6.8-2.9h1m7.6 7.3h1m-16.6-1.8h1m8.5-12.1h1m-10.9 8.9h1m15.2 3.6h1m-14.8-6h1m8.5 7h1m5.2 0.3h1m-4.9-7.2h1m0.8 1.2h1m1.8-1.2h1m-9.5 9.1h1m-8-2.3h1m-1.6-12.6h1m-1.8 0.9h1m17 6.8h1m-0.7 5.4h1m-4.7-1.2h1m0.6 2.4h1m4.5-10.6h1m-12.7 14.6h1m-2.9-1.1h1m4.6-16h1m-3.5 6.6h1m-3.6 4.5h1m-4.4-6.1h1m-9.7 10.7h1m17.7-8.8h1m-6.8-3.6h1m3.1-5.3h1m-15.4 6.2h1m19.2-4.9h1m-22.7 10.3h1m1.5 7.7h1m4.8-3.4h1m0.3-7.1h1m-2-3.1h1m11.2 3.6h1m-22.3 6h1m7.7 0.2h1m-2.7-7.3h1m0.1 5.3h1m3.5 3.1h1m4.6-11h1m6.7-2.1h1m-24.6 2.9h1m7.5 8.7h1m2.2-3h1m-15.3-0.1h1m8.1 1.1h1m-2.4 7.6h1m5.8-13.1h1m2.4 4.4h1m-2.8-0.3h1m-3.7 3.3h1m9.9-11.9h1m-20.9 6.6h1m12.5 0.5h1m-11.2-5.1h1m-3.3-1.9h1m7.9 1.8h1m-6.7 7.2h1m17.1-1.3h1m-20.4 6.6h1m-1.7-2.7h1m11-9.9h1m-7.6 6.7h1m-10.3-7.7h1m-6.6 6.6h1m17.6-8.9h1m-5.6 15.6h1m3-11h1m-9.5 7.1h1m-0.7 2h1m13.4-4.1h1m-4.5 8h1m2.8-11.3h1m-23.3-0.9h1m8.7 11.6h1m-0.4-9.8h1m14-1.1h1m-26.1 6.1h1m16.1-7.6h1m-11.4 11.8h1m-6.6-14.9h1m13.7 10.9h1m7.7-7.6h1m-7.7-8.2h1m-15.4 11.4h1m8.7 0.2h1m4.7-9.5h1m-8.1-0.4h1m-4 6.3h1m-7.1-2.9h1m-2.7 6.2h1m11.6-6.4h1m-10 9.7h1m18.6 1.6h1m-21.4 5.8h1m13.4-14h1m-6.4 0.1h1m-7.4-4.1h1m19 6.6h1m-10.2-6.6h1m1 2.3h1m-12.6 15.1h1m3.5-6.5h1m-12.2 2.2h1m-3.7 1.6h1m19.8-6.6h1m-9.8 5.6h1m2.3-7.6h1m0.5 8.8h1m-7.1-14.8h1m12.5 10.9h1m-6.4 1.2h1m-13.9-6.6h1m-6.2 3.1h1m20 4.3h1m-5.2-11h1m-12.7 7.3h1m-4.1-11.1h1m21 4.2h1m-0.8-3.5h1m-12.9 8.7h1m2.4 2.6h1m-0.8 2.7h1m-4.5-4.8h1m-1.7-0.7h1m1.5-0.4h1m-11.1 6h1m17.7-17.2h1m-5.6 5.5h1m0.7 2.1h1m-7.5 5.7h1m5.5-9.5h1m-2 8.7h1m-20.7-7h1m17.4 1.6h1m-19 9.4h1m13 1.6h1m3.5-10.5h1m-5.9-0.2h1m-2.2-2.2h1m8.8 2.3h1m-8.1 9.7h1m-1.5-13.7h1m-4.9 13.6h1m13-0.4h1m-21.7 2h1m13.7-2.1h1m-14.9-6.8h1m10.2 1.4h1m-0.8 8.3h1m-15.7-11.3h1m17.6-5.7h1m3.9 15.2h1m-21.2-9.4h1m23.3 7h1m-20-0.3h1m-2.3-2.1h1m3.4 0.7h1m11.7-2.1h1m-23.8-7.2h1m2.2-0.7h1m16.1-0.7h1m-8.2 2.5h1m-5.3 9.6h1m-8-2.8h1m20.9-0.6h1m-29-0.8h1m26.4-4h1m1.3-1.1h1m-7.5 12.3h1m-16.5-14.8h1m12.6 14.7h1m-1.9-9.5h1m-8.3 7.6h1m-4.7-9.2h1m-4.2-0.7h1m7.4 15h1m-6.4-10.2h1m10.5-0.6h1m-0.9-2.8h1m-14.7 1.8h1m16.2-0.7h1m-15.1 11.9h1m9.5-9h1m-2.5 1.8h1m-21.3 1.2h1m7-0.7h1m17.1 0h1m-6.4 2.8h1m-7.5-13.7h1m4.4 6.2h1m-19.8-2.5h1m15.7 1.4h1m7.8 9h1m-4.6-0.9h1m-15.7 1.1h1m0.3-6.8h1m3 5.9h1m-12-9.6h1m22.3 4.6h1m-16.9-0.9h1m0.8-9.4h1m1.2 4.2h1m9.6-2.1h1m-12.8 11.2h1m8.9-9.3h1m-18.5 4.5h1m14.5 6.9h1m-14.6-1.5h1m18.5-10h1m-15.7 11.3h1m-6.9-1.7h1m1 1h1m-4.1 2.5h1m16.3-5.9h1m3.7-12h1m-6.6 18.1h1m-13.9-2.1h1m3.4-8.6h1m1.1 6.2h1m-8.8 2.1h1m6.6-12.1h1" stroke="#000" stroke-width="0.9" fill="none"/>
<path d="M378.7 257.4h1m-6-13.5h1m-14.8 2.9h1m5.4 5.1h1m13.4-0.7h1m-1.2-4.4h1m-10.7 7.8h1m-6 1.5h1m4.5-6.8h1m-18.5-2.5h1m19.6-3.9h1m-11.1 6.7h1m0.4 2.3h1m-1.6-1.1h1m-11.3 8.6h1m15.6-16.6h1m-14.9 6.3h1m-1 0.7h1m2.5 9.6h1m-3.7-14.6h1m-2.5 11.1h1m8.6-12.7h1m6.7 3.4h1m-1.1 11.6h1m0.8-5.7h1m-8 5.6h1m-12.9-0.7h1m16.1-9.5h1m-21.9 9.4h1m3 3.4h1m1.8-8.6h1m-6.6 1.6h1m18.7 1.3h1m-12.7 5h1m-4.8-14.9h1m10.5 13.7h1m-10.6-2.6h1m4.9-13.1h1m-5.5 2.8h1m-3.6-1h1m19.8 2.5h1m-20.8 4.8h1m8.3-1.4h1m-12.4-5.6h1m17.8-2.1h1m-1.9 6.4h1m-22.2 6.9h1m6.1 2h1m-1.2-11.6h1m-3.7-3.2h1m-5.5 4.8h1m16.9 11.7h1m6.7-12.8h1m-14.7 5.8h1m9.4 1.3h1m-6.7 4.2h1m-4-9.9h1m10.1 6.7h1m-15.6 4.2h1m-13.3-5.4h1m6.7-7.8h1m6.1-3h1m-15.7 6.7h1m8.6 2.6h1m0.2-6h1m16.4 5.5h1m-10.8-5h1m-9 10.1h1m7.6-11.8h1m1-2h1m-10.6 15.7h1m13.7-14.9h1m-13.7 15.6h1m-9.9-15h1m20.6 5.1h1m-9 8.7h1m-16.7-8.6h1m-0.8-2.8h1m11-2.4h1m-6.7 4.4h1m-5-4h1m19.3 13h1m-10.7 1.8h1m-12.6 0.3h1m0.5-8.4h1m-6.5 1.6h1m5.4-1.1h1m4.5 4.9h1m-0.3 0.7h1m-1.7-14h1" stroke="#fff" stroke-width="0.8" fill="none" stroke-opacity="0.55"/>
<path d="M341 252.8h1m3.8-3.2h1m-1.1 1.7h1m-3.6 0h1m2 2h1m1.3-4h1m-3.4 4.2h1m0.4 1.6h1m-7.6-4.1h1m5.5 2.3h1m-3.8-2.5h1m0.8-1.2h1m-5.3 2.5h1m1-1.7h1m-1.3-1.6h1m-1.4 2h1m2-0.3h1m-1.9 3.9h1m-0.7 1.1h1m2.2-9.7h1m-2.7-0.6h1m-1.3 3.6h1m-0.2 6.2h1m-2.2-7.7h1m1.3 0.2h1m-2.5-2.6h1m-3.2 3.7h1m-0.7 1.7h1m1.3 4.3h1m-4.6 2.8h1m1-5.9h1m-1.1 1.3h1m-1.6 0.5h1m-0.7-1.5h1m0.5 1.1h1m0.5-7.1h1m1 7.5h1m-4.5 0.7h1m-0.4-7.8h1m-0.4 1.9h1m-7.4 4.1h1m-0.2 0.5h1m4.2 0.6h1m-1.9 3.1h1m-3.3-2.6h1m2.1 5.3h1m-4.6-8.9h1m-2.2-1.9h1m2.8-1.5h1m-0.9 7.2h1m-0.2 1.9h1m4.3-7h1m-9.2 2.5h1m2.3-4.3h1m-4.6 9.6h1m0.2-4.6h1m-0.8 2.5h1m3-6.1h1m-5.5 3.8h1m-4.8 3.2h1m-3.9-3.2h1m9.5-6h1m-4 2.5h1m1.6 1.6h1m-4.7 2.9h1m-3.1-0.7h1m-0.1 2h1m3.9-3.5h1m-6-3.8h1m2.5 7.6h1m0.5-2.1h1m-8.3-6.6h1m7 4.9h1m-3.8-3.6h1m-1.1 11.9h1m-1.5-8.6h1m1.3 0.8h1m-4.5 3.2h1m2.4-7.5h1m-2.8 6.5h1m-0.2-2.7h1m-3.6 1.8h1m3.5-6.2h1m-2.5 6.5h1m-4.4-6.6h1m0.8 5.2h1m-1.8 1h1m0.8 0.6h1m-0.1 1.1h1m-7.6-8.5h1m4.8 11.3h1m0.5-6.3h1m-2.5 0.9h1m-2.4 3h1m1.1 2.6h1m-5.3-8.6h1m0 2.7h1m-1.3 0.6h1m-2.1 3.9h1m2.6-3.3h1m-1.1 6.1h1m-0.7-4.8h1m0.2-4.4h1m-4.3-0.2h1m0.1 1.6h1m-4.1 0.4h1m-0.5-2.1h1m-2.1 3h1m5.1 2.3h1m-2.6-4.2h1m-4.5 4.5h1m0.5-1.1h1m-2.7-1h1m-3.3 3.6h1m6.6-0.1h1m-2.6-8.6h1m2.1 4.7h1m-5.2 1h1m-1.1-5.5h1m-2.2-1.5h1m-1.3 4.7h1m-0.5-2.8h1m-1.7 2.5h1m0.1-3.4h1m0.5 6.3h1m-3-6h1m5-0.9h1m-6.4 3.6h1m2.7 1.3h1m0.6-3.8h1m-6.6 4.8h1m3.4-5.2h1m-2.9 9.7h1m-5-4.4h1m0.7 0.2h1m-7.4-1.2h1m4.5 0h1m1.7-5.5h1m-3.6 6.2h1m0.6 1.2h1m-1.7-5.1h1m-1.2 3.5h1m-0.4-4.3h1m-1.7 6.6h1m-0.8-2.7h1m1.5 5h1m2.9-2.4h1m-8.1-4.6h1m0.6 2.5h1m-1.9 5.5h1m-1.5-1.8h1m1.4-6h1m-1.6-1.7h1m2.1 1.3h1m-1.6-0.9h1m-5.3 1.2h1m-3.3 11.4h1m3.5-8.2h1m0.4 3.5h1m-1.5-8.3h1m-2.4 4.8h1m-1.4 1.5h1m-1-8.8h1m-1.5 3.4h1m0.1-3h1m-0.2 0.7h1m-3.1 1.8h1m-3.5 5.3h1m3.2 0.7h1m-3.6-4.9h1m1.3-1.6h1m-2.6 8.4h1m-4.3-5.1h1m2.7-0.8h1m-0.5 6.8h1m1.1-6.7h1m-1.5-3.5h1m-1.7 7.7h1m-1-5.2h1m1.3-3.3h1m-6.5 8.3h1m5.7-6.3h1m-1.2 1.1h1m-4.4 4h1m-3.5 1.9h1m4.5-10.7h1m-5.3 7.9h1m0.2 2h1m-1.5 1.3h1m-0.3-4.7h1m-2.7-2.5h1m1.3 4.2h1m-1.7-6.5h1m-2.4 9.7h1m1.7-6.2h1m-1.6-3.2h1m-3.3 5.8h1m-0.8 2.7h1m1.5-1.8h1m-6.3-6h1m3.3 9h1m-1.2-3.5h1m-4.8-1.5h1m1.2-0.4h1m3.8 4h1m-2.9-2h1m-5.1-1.4h1m0.7 0.5h1m-1.3 0.1h1m-1.7-0.5h1m-1.2-0.4h1m0.6 0.8h1m-1.8 4h1m4-8.1h1m-0.3-2.4h1m-5.1 3.2h1m-2 3.9h1m-4.1-2.7h1m0.9 1.4h1m-1 2.3h1m1.2-1.1h1m2.9 0.4h1m-6.5 1h1m3.8-0.9h1m-4.2-3.2h1m-0.7 0.1h1m-1.9 1h1m-7.3-3.1h1m3.4 2.1h1m0.3-2.1h1m1 1.2h1m-4.7-3.5h1m0.4 1.1h1m-3 8.8h1m1.2-9.1h1m-2.2 6.2h1m2.9 0.5h1m-5.2 1.5h1m-1.3-4.6h1m1.2 2.1h1m2.2-1.3h1m-3.9 1.3h1m-1.2 0.3h1m0.8 1.8h1m-2.5-3h1m0.8-1.7h1m-1-0.6h1m-2.8-1.2h1m-5.3 3.6h1m4 2h1m-0.2-3.2h1m0.3 2.9h1m-5.7 2.3h1m-1.4-6.3h1m1.8 6h1m-1.7-2.9h1m-0.6-3.8h1m-2.7 0.2h1m0.2 3.7h1m-1-1.2h1m-6.8 2.5h1m7.6-8.4h1m-4.9 10h1m-4.3 0h1m-0.7-7.5h1m3 1.5h1m-5 8.6h1m2.2-3.7h1m-2.9-3.2h1m0.8-0.6h1m-1.3 1.2h1m4.9 2.5h1m-4.6-3.5h1m1.4 2.5h1m-7.7-3.5h1m1.7-4.7h1m-3.1 7h1m3.2-2.2h1m1.4 5.8h1m-4.6-3h1m-5.6 1.3h1m2.9-6.5h1m2.1 6.8h1m0.1-8.3h1m-5.7 8.9h1m-0.2-2.5h1m-3.6 2.5h1m-2.6 2h1m2.2-1.3h1m3.3-6.9h1m-6.1-0.5h1m2.1 4.5h1m-1.6-0.1h1m-2.8 0.3h1m-1.6-4.3h1m-3.4-0.6h1m2.4 3.9h1m1 4.9h1m-0.4-8.3h1m-2.4 4.5h1m-1.1 0.2h1m-5.3-2.5h1m-0.3-8h1m0.6 10.9h1m-0.4-8.6h1m-3.5 6.2h1m0.9-4.5h1m-0.1 2.4h1m0.1 5.8h1m-1.3-10h1m-4.4 2.3h1m0.1 2.1h1m3.7-0.6h1m-5.9 3.1h1m2.1-0.7h1m2.1 1.1h1m-0.8-0.5h1m-8.5 0.1h1m2.4 5.4h1m-2-8.9h1m-1.8 4.2h1m3.1-1.2h1m-2.7 2.8h1m1.9-11.9h1m-7.6 6.7h1m-3.8 4.1h1m4.6-1.6h1m-0.6 4.4h1m2.4-9.5h1m-5.3 13.1h1m1.2-6.2h1m0.9-2.7h1m-10.7-1.5h1m5.2-0.6h1m-2.1 1.1h1m-2.4 2.3h1m0.4-3.1h1m-0.1 4.3h1m4.9-2.9h1m-8.9 3.6h1m0.5-4.9h1m2.7 3.3h1m2.7-3.1h1m-10.8 6.4h1m4-3.9h1m-4.3 1.1h1m4.8 4.8h1m-3.1-5h1m-2-3.2h1m1 1.9h1m-3.4-0.9h1m-1.6 3.8h1m0.3 3.9h1m-6.3-0.3h1m3-6.2h1m1.8 0.5h1m-10.7 3.6h1m1.4-1.3h1m5.2-10.2h1m-1.1 4.9h1m-2.4 1.3h1m0.5-0.7h1m-3.1 2.5h1m2.9 1.4h1m-7.2-5.6h1m5.8 6.8h1m-5.3-2.8h1m-2.7 2.3h1m2.8 3.8h1m-3.8-7.7h1m4.6-4.7h1m-6.7 4.7h1m-3.1 1.4h1m-3-1.4h1m4.7 0.8h1m4.3-2.6h1m-4.8 5.1h1m-3.1 3h1m-7-2.2h1m1.6-5.6h1m7.2 5.2h1m-0.2 6.2h1m-3.9-9.3h1m0.8 1.8h1m-2.5-2h1m4-0.3h1m-2.5 4.4h1m-2.4 1.4h1m-5.4-1.1h1m4.3-11.1h1m-4.6 11.2h1m3.2-3.2h1m-0.4-3.4h1m-1.1 1h1m-3.3-4.3h1m-2.9 8.8h1m1.4-2.2h1m-0.8 1h1m-8.1-3.1h1m3.8-0.5h1m1.9 5.1h1m-3.1 0.6h1m2.3-2.8h1m-3.4-0.2h1m-0.2 2.6h1m-1 3.9h1m-1-5.1h1m0.7-1.1h1m-4.3-0.8h1m-2.4 2.7h1m-1.8-2.5h1m2.1 1.6h1m-3.8 1.1h1m-0.6-4h1m1.6 6.1h1m-2.2 3h1m-0.7-9.3h1m2.9 5.1h1m-3.7-8.4h1m-2.9 8.2h1m0.1-8.5h1m-3.2 10.4h1m1.5-1.3h1m-0.2-8.8h1m0.8 3.8h1m-3-4.6h1m-1.6 12.8h1m-0.6-1.2h1m-1.2-4.4h1m-2.3-4.4h1m-4 4.3h1m1.8 0h1m0.9 3.1h1m-0.7 3.2h1m-1.8-3.4h1m-1.8 0h1m-1.7-3.5h1m-0.6-0.7h1m-2.9 3.8h1m5.7-3.1h1m-5.7-1.4h1m-0.1-2.3h1m-0.4-0.2h1m-3.8 1.6h1m-1.3-1.5h1m-0.2-0.4h1m0.4 3.5h1m0.4-3.1h1m-3.8 4.1h1m-0.7-0.1h1m-1.7 0.5h1m1.2-5.2h1m-1.1 6.6h1m0.3-6.2h1m-0.2 2.1h1m-2.4 2.9h1m-2.5-3.9h1m-1.6 10.4h1m0.6-6.3h1m-1.9-0.6h1m0.2 3.5h1m-0.1-10.8h1m-4 10.5h1m1.5-7h1m-2 0.4h1m-4.2-4.1h1m3.7 10.2h1m-2.9-3.6h1m-2.1-5h1m1.5 4.8h1m-0.3 4.4h1m-4.9-6.8h1m0.6 3.6h1m-3.3-4.1h1m1.1 2.6h1m0 7.2h1m-1.1-6.4h1m-1.4-2.2h1m2 6.2h1m-2.3-9.9h1m-2 6h1m-1 2.5h1m-1.6-8h1m-2.2 7.4h1m-1.5 5.4h1m0.4-2.3h1m0.5-8.4h1m-3.4 5.2h1m-3.8-3.7h1m4.3 0.2h1m-2.8 7.1h1m0.9-4.9h1m-1.9-0.7h1m-3.7 0.1h1m-0.9-3.7h1m0.1-0.7h1m-4.4 3.4h1m7.4 1.8h1m-6-1h1m-0.8 5.4h1m-2.9-2.9h1m1.9-3.9h1m0.3 0.9h1m0.7 7.1h1m-5.2-0.9h1m3.1-3h1m-3.4-6.3h1m-4.5 1.2h1m4.2 1.4h1m-4.5 2.6h1m1.3-0.4h1m-1.2 1h1m-2.5-8.5h1m-1.2 6.9h1m1.2 3h1m-3.8-1.7h1m-1.5-1.7h1m3.3-1.2h1m-3.7 0.1h1m2.4-2.4h1m-7 3.2h1m1.7 4.3h1m-0.8-4.1h1m-2.9 5h1m3.6-6h1m-3.9-0.6h1m-4.5 5.5h1m3.8-7.5h1m-5.1 2.3h1m2.2-3.2h1m11.2 17.8h1m-7.5 0.8h1m0.1 6.9h1m-0.8-7.1h1m0 0.4h1m8.2 0.1h1m2.8-5.6h1m14.8 0.6h1m-23.3-6.1h1m5 7.7h1m-15.5-0.4h1m7 3.3h1m-4.3 5.6h1m1.7-15.7h1m0.4 14.3h1m-5.7 4.9h1m-1.9-8.9h1m-2.8 0.8h1m0.5 7.9h1m5.5-4.7h1m-14.9-1.5h1m21.6-6.3h1m-5.6 1.4h1m-14 6.6h1m12.3 1.1h1m-4.9-4.2h1m-11.6 6.1h1m0.2 1.2h1m7.5-17.1h1m-9.1 7.8h1m5.8-1.1h1m-5.5 4.4h1m12.4 10.9h1m-20.4-16.9h1m18.2 0.3h1m-15.7 7.6h1m5.1-8.4h1m11.7 2.9h1m-22.7 7.3h1m-2.2 1.7h1m-0.2 1.1h1m-8.5-2.6h1m9.8-7h1m20.7 1.1h1m-22.9 6.6h1m1.6-8.5h1m6.9 5.8h1m-2.5-6.5h1m-20 7.8h1m17.2-1.3h1m7.6-10.1h1m-2.1 4.2h1m-23.8-0.2h1m12.9 6.6h1m5.7-5.7h1m-3.7-9.3h1m-11.4 10.5h1m5.8 1.3h1m-0.5-7.2h1m-7.1 12.7h1m3.3-0.7h1m-1-12.8h1m-6.7 7.3h1m1.4-12.7h1m-3.2 7.8h1m14.3-2h1m-9.8 5.6h1m3.8 1.7h1m-5.2 0.2h1m3.5-3.7h1m-11.5 0h1m4.2 5.1h1m-11.1-5.2h1m9.4 10.3h1m-1.3-8.1h1m-14.9-0.2h1m-1.8 4h1m4.2-4.9h1m10.2 6.7h1m-10.2-0.7h1m1.4-2.8h1m-12.5-7.4h1m36.3 5.3h1m-25.9-0.6h1m-8.1 2.6h1m-2.7-0.3h1m17.9-2.2h1m-9.9 0.7h1m1.7-0.2h1m-0.6-3.6h1m-4.3 3h1m4.5-2.1h1m10.5 3.3h1m-20.4-6.5h1m2.9 15.7h1m3.4-3.8h1m-2.9-3.8h1m5.8-4.2h1m-8.2 5.2h1m-6.2-4.3h1m7.5 6.9h1m-17.3-4.7h1m10.3-0.7h1m0.7-9.9h1m10 6h1m-18.8 5.4h1m2.2-7.4h1m0.1 5h1m-10 5.4h1m7 3h1m-2.2-10h1m-1.8-12.7h1m3.8 15.4h1m9.9 2.9h1m-16.6-10.9h1m7 14.2h1m-4.5-6.8h1m-4.8 8.5h1m6.2-8.3h1m3.6 1.2h1m-5.1-6.1h1m-4.3 8.9h1m0.8-2.3h1m-7.9-4.8h1m9 6.5h1m-5.6-5.4h1m-4.7 10.5h1m-3.3-5.4h1m5-2.8h1m-12.1-0.9h1m4.5 10.1h1m-7.5-8.7h1m19.1 2h1m-0.2-7.6h1m-9.1 9h1m-10.9-3.3h1m5-4.3h1m12.2-1.1h1m-8 10.1h1m2-5.2h1m7.5 3.1h1m-4 0.6h1m-6.9 4h1m-6-1h1m-5.9-9h1m1.6 1h1m4.2-8.9h1m1.4 10.2h1m-6.3 1.3h1m-3-9.4h1m3 8h1m8.1 0.1h1m-10.4-0.6h1m-15.5 1.2h1m9.8-6.5h1m0.5 5.8h1m5 10.5h1m-15.8-11h1m1.7-2.2h1m-4.3 1.2h1m17 8.9h1m-10-14.4h1m2.9 16.4h1m-0.2-12.3h1m-8.2 5.5h1m-12.9 1.1h1m24.1-8h1m-25.8 2.6h1m13 5.6h1m1-4.6h1m-6.1-7.3h1m2.8 10.3h1m-2-8.3h1m-0.3 8.4h1m0.2-2.7h1m-16.5-7.4h1m-0.1 11.9h1m18.1-3.5h1m-17.3 4.9h1m9.3-5.2h1m8.1-3.9h1m-9.7-6.3h1m-11.4 9.4h1m7.9-5.5h1m-2.1 3.2h1m-1.4-8.7h1m3.5 1.7h1m-9.1 9.6h1m5.8 1.2h1m5.7 8.9h1m-12.5-3.7h1m5.1-11.8h1m5.6 9.8h1m-7.5-5.7h1m-8-8h1m-13.1 12h1m4.9-6.9h1m11.4-1.5h1m-5.1 0.4h1m0.6 4.8h1m22.5-1.5h1m-20.4-0.1h1m-8.8 1.9h1m13.1 3.3h1m-1.3-6.6h1m-10.8 0.6h1m2.1 3.3h1m-2.3 1.2h1m-4.3 1.4h1m-6.7 4.1h1m14.2-19.9h1m-2.7 18.3h1m-13.5-3.8h1m7.2 3.7h1m-8.2-10.2h1m-4 5.6h1m10.4 6.4h1m-5.1 0.5h1m-1-1.5h1m0.9-4.8h1m1.3-6h1m-0.4 4h1m-10.8-9.6h1m5 8.3h1m3.2-4.6h1m-14.8 4.8h1m9.5 0h1m-11.1 4.2h1m7.2 0.7h1m4.5-1.2h1m-4.3 0.1h1m-3-0.7h1m-0.6 6.7h1m-8.2-9.2h1m13.8-1.4h1m-16.7-2.4h1m-6.3 5.4h1m9 3.5h1m-4 4.9h1m8.1-10.2h1m-6.7 5.6h1m-6-5.4h1m-1.2 5.4h1m-1.6-10.3h1m-4.1 8.3h1m9.6 0.9h1m10.8-12.4h1m-18.6 8.1h1m-0.9-3.9h1m3.2 5.6h1m3.4 1.4h1m-3.7 3.7h1m4.1-7.6h1m-4.4 5.1h1m2.1 18.8h1m-8.8-12.8h1m7.6-9.1h1m-18.5 13h1m16.6 2.7h1m-13.3 5.1h1m2.3-8.4h1m3.4 2.1h1m-0.3-4.7h1m5.8-6.3h1m-14.3 6.7h1m5.7-3.1h1m-14-6.2h1m-3.4 18.8h1m26.2-12.3h1m-17-4.6h1m6.9 3.5h1m-6.8 8.5h1m-13.9-7.4h1m19.3-3.1h1m-1.7 12.6h1m-0.4-13h1m5.5 9.7h1m-17.1-4.5h1m1.8-3.9h1m-8.1 10.1h1m1.4-1.9h1m-4.2 0.3h1m-1.7-4.7h1m1.6-1.2h1m5-19.3h1m-9.4 18.3h1m0.7 0.2h1m-2.6 7.7h1m-6.8 9.1h1m4.6-14.6h1m4.4 15.1h1m4.3-16h1m4.8 7.5h1m-2.9 0.5h1m-9.9-18.5h1m-3.2 22h1m0.3-17.8h1m0.6 6h1m-10.9-4.7h1m14.7 1.3h1m-6-3.2h1m-3 5h1m-7.4 11.6h1m18.9-16.5h1m1.9 13.9h1m-25.1-3.7h1m24.7 1.9h1m-19.7-1.7h1m8.4 2.4h1m-23-0.7h1m15.3-11.2h1m7.3-2.8h1m-10.8 15.6h1m9.2-3.1h1m-8.6 7h1m6.7-9.8h1m7.7-1.6h1m-27.5-4.6h1m8.5-6.2h1m-11 13.9h1m-10.1 7.5h1m7.6-10.4h1m11.8 6h1m3 0.1h1m-3-15.1h1m-4.5 11.8h1m-4.7-8.8h1m-6.7 8.2h1m6.1 2.4h1m-3.6-5.3h1m-18.3 1.3h1m28.3 7.2h1m-15 6h1m-9.5-19h1m17 3.8h1m-2.6-2.3h1m12.1-2h1m-22.4 9.8h1m-4.2-7h1m16.7 10.9h1m-14.1 0.2h1m12.7-8h1m-6.5-5.8h1m-20.3 7h1m3.1-0.7h1m-1.9-3.9h1m22.1 12h1m-6.1-8.8h1m-2.5-5.8h1m-18 10.5h1m13.6-13h1m-36.7 16h1m32.5-8.2h1m-2.3 10.3h1m9.9-8.3h1m-6.6-9.9h1m-15 5.2h1m7.7 5.9h1m-11.1-5.1h1m6 1.9h1m-3.5 4.6h1m31.8-12.5h1m-34.4 6.1h1m0.9-3.8h1m4.7 7h1m15.8 4h1m-28.1-5.1h1m20.1-5.4h1m-4 3h1m-17.6 0h1m3.3 5.6h1m20.5 0.9h1m-37.5-1.2h1m4.3 2.1h1m-7.2-9.9h1m10.2-1.2h1m7.4-2.4h1m-11.2 14.3h1m12.5-3.9h1m-2.5-7.1h1m3 10.2h1m-8.8-6.9h1m-0.6-0.7h1m-5.7-2.5h1m15.9 6.9h1m-10.5 1h1m7.8-0.7h1m-18.9-2.9h1m7.8 0.3h1m-2.5 0.6h1" stroke="#222" stroke-width="0.9" fill="none"/>
<path d="M356 278.4h1m-36.1-14.4h1m32.1-8.9h1m-1 3.7h1m10.5 3h1m-11.3 9.2h1m1.2-5.5h1m-3.7 6.3h1m-7.9-20.4h1m-12.9 16.3h1m14.6 13.8h1m10-13h1m1-7h1m13.4 6.2h1m4.8 6.4h1m-23.9-6.5h1m1.7 7.3h1m-10.9-25.7h1m6.7 18.2h1m-16.6-0.4h1m6.6 1.5h1m7.3-4.2h1m7.8-0.9h1m-20.7 4.7h1m1.2-15.6h1m20.7 6.6h1m-18.6 3h1m6.9 5.8h1m8.7-3.9h1m-13.3-6.5h1m-8.2 15.8h1m24.2-6.1h1m-25.9-1.6h1m9.2 3.5h1m-19.6-3h1m38.9 10.6h1m-34.5-13.6h1m31-8.4h1m-31 13.8h1m0.4 1.2h1m-17.6 2.8h1m2.2-2.1h1m17.4-6.9h1m11.4 16.2h1m-24.7-21h1m8.4-0.6h1m13.2 13.2h1m-15.5-13.4h1m-9.4 18.3h1m10.4-20.3h1m-4.7 10.6h1m-4.6-0.1h1m16-6.4h1m-41.5-12.9h1m52.1 20.2h1m-21.6-0.1h1m-21.8-2.7h1m23.3-4.7h1m-6.6-7.8h1m14.5 6.1h1m-4.8-11.1h1m-15.7 34.3h1m9.9-20.1h1m12.3 15.3h1m-0.7-13.2h1m-16.2 16h1m-7.3-20.5h1m-12.9-1.2h1m16.4-0.7h1m3 8.6h1m-8.4-9.6h1m-33.9-5.1h1m23.3 28.4h1m-4.1-1.6h1m9.3-19.4h1m-5.6 15.2h1m0.7-31.5h1m-2.8 24.9h1m13.8 17.2h1m-25.7 0h1m14.9-11.8h1m-15.9 3.6h1m21-8.6h1m-5.9 12.4h1m-3.2-18.5h1m9.5-19.3h1m-5.5 33.8h1m8-9.5h1m-39.1-0.9h1m20.1 5.8h1m-12.3 0.4h1m30.1-19.6h1m-14.1 14.3h1m-12.5-8h1m16.8 4h1m-16.6 13.9h1m3.2-11.9h1m-7.2-5.1h1m19.6 7h1m-16.6-2.5h1m17.6 2h1m-32.1 7.7h1m12.3-8.1h1m-16.2-4.2h1m25.5 1.9h1m-15.9-7.9h1m-14.2 23.8h1m25.9-7.6h1m0.5-24.3h1m-14.5 16.9h1m-10.6 13.3h1m13.4-27.9h1m18.5 12.1h1m-38.6 21.1h1m-12.4-13.5h1m23.4 3.7h1m-20.5-17.1h1m-5.4 24.8h1m27.4-9.8h1m1.5 8h1m4.8-22.9h1m-7.7 4.1h1m3.1-3.7h1m-9.1 12.7h1m19.9-13h1m-28.1 10.1h1m-5.9 14h1m31.4-6.6h1m-13.8-14.3h1m-11.9 11.1h1m2.3-14.3h1m-11.3 17.2h1m-5-19.2h1m-15.2 18.4h1m-0.6 2.7h1m31.9-22.5h1m-14.7 22.2h1m-5.3 3.8h1m1.9 2.2h1m16-1.2h1m-1-41.6h1m-0.7 4.3h1m-16.5-1.2h1m28.7-2.7h1m-21.9 6.1h1m9.5-2.9h1m-5.1-2h1m-8.2-0.1h1" stroke="#333" stroke-width="0.8" fill="none" stroke-opacity="0.7"/>
<text transform="translate(39.8 225.4) scale(1 1.12)" font-size="9.6" text-anchor="start" fill="#111" stroke="#111" stroke-width="0.12">&lt;1%</text>
<text transform="translate(119.1 225.4) scale(1 1.12)" font-size="9.6" text-anchor="end" fill="#111" stroke="#111" stroke-width="0.12">&lt;1%</text>
<text transform="translate(39.8 297.5) scale(1 1.12)" font-size="9.6" text-anchor="start" fill="#111" stroke="#111" stroke-width="0.12">3%</text>
<text transform="translate(119.1 297.5) scale(1 1.12)" font-size="9.6" text-anchor="end" fill="#111" stroke="#111" stroke-width="0.12">96%</text>
<text transform="translate(133.5 225.4) scale(1 1.12)" font-size="9.6" text-anchor="start" fill="#111" stroke="#111" stroke-width="0.12">3%</text>
<text transform="translate(212.7 225.4) scale(1 1.12)" font-size="9.6" text-anchor="end" fill="#111" stroke="#111" stroke-width="0.12">92%</text>
<text transform="translate(133.5 297.5) scale(1 1.12)" font-size="9.6" text-anchor="start" fill="#111" stroke="#111" stroke-width="0.12">&lt;1%</text>
<text transform="translate(212.7 297.5) scale(1 1.12)" font-size="9.6" text-anchor="end" fill="#111" stroke="#111" stroke-width="0.12">4%</text>
<text transform="translate(226.8 225.4) scale(1 1.12)" font-size="9.6" text-anchor="start" fill="#111" stroke="#111" stroke-width="0.12">&lt;1%</text>
<text transform="translate(306.2 225.4) scale(1 1.12)" font-size="9.6" text-anchor="end" fill="#111" stroke="#111" stroke-width="0.12">&lt;1%</text>
<text transform="translate(226.8 297.5) scale(1 1.12)" font-size="9.6" text-anchor="start" fill="#111" stroke="#111" stroke-width="0.12">4%</text>
<text transform="translate(306.2 297.5) scale(1 1.12)" font-size="9.6" text-anchor="end" fill="#111" stroke="#111" stroke-width="0.12">95%</text>
<text transform="translate(318.1 225.4) scale(1 1.12)" font-size="9.6" text-anchor="start" fill="#111" stroke="#111" stroke-width="0.12">4%</text>
<text transform="translate(397.8 225.4) scale(1 1.12)" font-size="9.6" text-anchor="end" fill="#111" stroke="#111" stroke-width="0.12">91%</text>
<text transform="translate(318.1 297.5) scale(1 1.12)" font-size="9.6" text-anchor="start" fill="#111" stroke="#111" stroke-width="0.12">&lt;1%</text>
<text transform="translate(397.8 297.5) scale(1 1.12)" font-size="9.6" text-anchor="end" fill="#111" stroke="#111" stroke-width="0.12">4%</text>
<line x1="68.5" y1="311.5" x2="205.2" y2="311.5" stroke="#000" stroke-width="1.1"/>
<line x1="227.7" y1="311.5" x2="359" y2="311.5" stroke="#000" stroke-width="1.1"/>
<path d="M358.2 308.9L364.8 311.5L358.2 314.1Z" fill="#000"/>
<text x="215.9" y="314.7" font-size="10.2" text-anchor="middle" textLength="12" lengthAdjust="spacingAndGlyphs" fill="#111" stroke="#111" stroke-width="0.5">GFP</text>
<line x1="24.3" y1="283.4" x2="24.3" y2="299.2" stroke="#000" stroke-width="1.2"/>
<line x1="24" y1="235.4" x2="24" y2="226" stroke="#000" stroke-width="1.2"/>
<path d="M21.6 227.4L24 219.8L26.4 227.4Z" fill="#000"/>
<text transform="translate(27 260.8) rotate(-90)" x="0" y="0" font-size="8.6" text-anchor="middle" textLength="39.5" lengthAdjust="spacingAndGlyphs" fill="#111" stroke="#111" stroke-width="0.5">Anti-mouse Ig</text>
<rect x="48" y="436.35" width="10.1" height="18.85" fill="#5db23b" stroke="#4c9a30" stroke-width="0.6"/>
<line x1="53.05" y1="436.05" x2="53.05" y2="429.7" stroke="#111" stroke-width="1.2"/>
<line x1="50.35" y1="429.7" x2="55.75" y2="429.7" stroke="#111" stroke-width="1.2"/>
<rect x="58.7" y="381.31" width="11.3" height="73.89" fill="#a8002c" stroke="#7c001e" stroke-width="0.6"/>
<line x1="64.35" y1="381.01" x2="64.35" y2="380.1" stroke="#111" stroke-width="1.2"/>
<line x1="61.65" y1="380.1" x2="67.05" y2="380.1" stroke="#111" stroke-width="1.2"/>
<rect x="81.2" y="443.4" width="10.5" height="11.8" fill="#5db23b" stroke="#4c9a30" stroke-width="0.6"/>
<line x1="86.45" y1="443.1" x2="86.45" y2="436.35" stroke="#111" stroke-width="1.2"/>
<line x1="83.75" y1="436.35" x2="89.15" y2="436.35" stroke="#111" stroke-width="1.2"/>
<rect x="92.3" y="378.39" width="11.3" height="76.81" fill="#a8002c" stroke="#7c001e" stroke-width="0.6"/>
<line x1="97.95" y1="378.09" x2="97.95" y2="376.68" stroke="#111" stroke-width="1.2"/>
<line x1="95.25" y1="376.68" x2="100.65" y2="376.68" stroke="#111" stroke-width="1.2"/>
<line x1="42.2" y1="351.3" x2="42.2" y2="455.9" stroke="#111" stroke-width="1.5"/>
<line x1="41.5" y1="455.2" x2="108.2" y2="455.2" stroke="#111" stroke-width="1.5"/>
<line x1="39.2" y1="455.2" x2="42.2" y2="455.2" stroke="#111" stroke-width="1.1"/>
<text transform="translate(35.3 458) scale(1 1.08)" font-size="7.9" text-anchor="end" fill="#2a2a2a" stroke="#2a2a2a" stroke-width="0.05">0</text>
<line x1="39.2" y1="435.04" x2="42.2" y2="435.04" stroke="#111" stroke-width="1.1"/>
<text transform="translate(35.3 437.84) scale(1 1.08)" font-size="7.9" text-anchor="end" fill="#2a2a2a" stroke="#2a2a2a" stroke-width="0.05">20</text>
<line x1="39.2" y1="414.88" x2="42.2" y2="414.88" stroke="#111" stroke-width="1.1"/>
<text transform="translate(35.3 417.68) scale(1 1.08)" font-size="7.9" text-anchor="end" fill="#2a2a2a" stroke="#2a2a2a" stroke-width="0.05">40</text>
<line x1="39.2" y1="394.72" x2="42.2" y2="394.72" stroke="#111" stroke-width="1.1"/>
<text transform="translate(35.3 397.52) scale(1 1.08)" font-size="7.9" text-anchor="end" fill="#2a2a2a" stroke="#2a2a2a" stroke-width="0.05">60</text>
<line x1="39.2" y1="374.56" x2="42.2" y2="374.56" stroke="#111" stroke-width="1.1"/>
<text transform="translate(35.3 377.36) scale(1 1.08)" font-size="7.9" text-anchor="end" fill="#2a2a2a" stroke="#2a2a2a" stroke-width="0.05">80</text>
<line x1="39.2" y1="354.4" x2="42.2" y2="354.4" stroke="#111" stroke-width="1.1"/>
<text transform="translate(35.3 357.2) scale(1 1.08)" font-size="7.9" text-anchor="end" fill="#2a2a2a" stroke="#2a2a2a" stroke-width="0.05">100</text>
<text transform="translate(58.9 465.6) scale(1 1.08)" font-size="7.9" text-anchor="middle" fill="#222" stroke="#222" stroke-width="0.05">Mock</text>
<text transform="translate(92.3 465.6) scale(1 1.08)" font-size="7.9" text-anchor="middle" fill="#222" stroke="#222" stroke-width="0.05">PEBL</text>
<path d="M52.5 374.6V372.8H64.8V374.6" fill="none" stroke="#111" stroke-width="1.2"/>
<circle cx="55" cy="369.5" r="1.25" fill="#111"/>
<circle cx="58.65" cy="369.5" r="1.25" fill="#111"/>
<circle cx="62.3" cy="369.5" r="1.25" fill="#111"/>
<path d="M86.6 372.7V370.9H98.9V372.7" fill="none" stroke="#111" stroke-width="1.2"/>
<circle cx="89.1" cy="367.6" r="1.25" fill="#111"/>
<circle cx="92.75" cy="367.6" r="1.25" fill="#111"/>
<circle cx="96.4" cy="367.6" r="1.25" fill="#111"/>
<text transform="translate(15.4 403.2) rotate(-90)" x="0" y="0" font-size="8.4" text-anchor="middle" textLength="42.8" lengthAdjust="spacingAndGlyphs" fill="#222" stroke="#222" stroke-width="0.22">% cytotoxicity</text>
<rect x="166.7" y="452.58" width="10.1" height="2.62" fill="#5db23b" stroke="#4c9a30" stroke-width="0.6"/>
<line x1="171.75" y1="452.28" x2="171.75" y2="451.57" stroke="#111" stroke-width="1.2"/>
<line x1="169.05" y1="451.57" x2="174.45" y2="451.57" stroke="#111" stroke-width="1.2"/>
<rect x="177.4" y="371.84" width="11.3" height="83.36" fill="#a8002c" stroke="#7c001e" stroke-width="0.6"/>
<line x1="183.05" y1="371.54" x2="183.05" y2="370.93" stroke="#111" stroke-width="1.2"/>
<line x1="180.35" y1="370.93" x2="185.75" y2="370.93" stroke="#111" stroke-width="1.2"/>
<rect x="199.9" y="452.58" width="10.5" height="2.62" fill="#5db23b" stroke="#4c9a30" stroke-width="0.6"/>
<line x1="205.15" y1="452.28" x2="205.15" y2="451.57" stroke="#111" stroke-width="1.2"/>
<line x1="202.45" y1="451.57" x2="207.85" y2="451.57" stroke="#111" stroke-width="1.2"/>
<rect x="211" y="370.12" width="11.3" height="85.08" fill="#a8002c" stroke="#7c001e" stroke-width="0.6"/>
<line x1="216.65" y1="369.82" x2="216.65" y2="369.32" stroke="#111" stroke-width="1.2"/>
<line x1="213.95" y1="369.32" x2="219.35" y2="369.32" stroke="#111" stroke-width="1.2"/>
<line x1="160.9" y1="351.3" x2="160.9" y2="455.9" stroke="#111" stroke-width="1.5"/>
<line x1="160.2" y1="455.2" x2="226.9" y2="455.2" stroke="#111" stroke-width="1.5"/>
<line x1="157.9" y1="455.2" x2="160.9" y2="455.2" stroke="#111" stroke-width="1.1"/>
<text transform="translate(154 458) scale(1 1.08)" font-size="7.9" text-anchor="end" fill="#2a2a2a" stroke="#2a2a2a" stroke-width="0.05">0</text>
<line x1="157.9" y1="435.04" x2="160.9" y2="435.04" stroke="#111" stroke-width="1.1"/>
<text transform="translate(154 437.84) scale(1 1.08)" font-size="7.9" text-anchor="end" fill="#2a2a2a" stroke="#2a2a2a" stroke-width="0.05">20</text>
<line x1="157.9" y1="414.88" x2="160.9" y2="414.88" stroke="#111" stroke-width="1.1"/>
<text transform="translate(154 417.68) scale(1 1.08)" font-size="7.9" text-anchor="end" fill="#2a2a2a" stroke="#2a2a2a" stroke-width="0.05">40</text>
<line x1="157.9" y1="394.72" x2="160.9" y2="394.72" stroke="#111" stroke-width="1.1"/>
<text transform="translate(154 397.52) scale(1 1.08)" font-size="7.9" text-anchor="end" fill="#2a2a2a" stroke="#2a2a2a" stroke-width="0.05">60</text>
<line x1="157.9" y1="374.56" x2="160.9" y2="374.56" stroke="#111" stroke-width="1.1"/>
<text transform="translate(154 377.36) scale(1 1.08)" font-size="7.9" text-anchor="end" fill="#2a2a2a" stroke="#2a2a2a" stroke-width="0.05">80</text>
<line x1="157.9" y1="354.4" x2="160.9" y2="354.4" stroke="#111" stroke-width="1.1"/>
<text transform="translate(154 357.2) scale(1 1.08)" font-size="7.9" text-anchor="end" fill="#2a2a2a" stroke="#2a2a2a" stroke-width="0.05">100</text>
<text transform="translate(177.6 465.6) scale(1 1.08)" font-size="7.9" text-anchor="middle" fill="#222" stroke="#222" stroke-width="0.05">Mock</text>
<text transform="translate(211 465.6) scale(1 1.08)" font-size="7.9" text-anchor="middle" fill="#222" stroke="#222" stroke-width="0.05">PEBL</text>
<path d="M171.2 367.7V365.9H183.5V367.7" fill="none" stroke="#111" stroke-width="1.2"/>
<circle cx="171.88" cy="362.6" r="1.25" fill="#111"/>
<circle cx="175.53" cy="362.6" r="1.25" fill="#111"/>
<circle cx="179.18" cy="362.6" r="1.25" fill="#111"/>
<circle cx="182.83" cy="362.6" r="1.25" fill="#111"/>
<path d="M205.3 366.2V364.4H217.6V366.2" fill="none" stroke="#111" stroke-width="1.2"/>
<circle cx="205.97" cy="361.1" r="1.25" fill="#111"/>
<circle cx="209.62" cy="361.1" r="1.25" fill="#111"/>
<circle cx="213.27" cy="361.1" r="1.25" fill="#111"/>
<circle cx="216.92" cy="361.1" r="1.25" fill="#111"/>
<text transform="translate(133.3 403.2) rotate(-90)" x="0" y="0" font-size="8.4" text-anchor="middle" textLength="30.5" lengthAdjust="spacingAndGlyphs" fill="#222" stroke="#222" stroke-width="0.22">% CD107a</text>
<rect x="284.8" y="450.96" width="10.1" height="4.24" fill="#5db23b" stroke="#4c9a30" stroke-width="0.6"/>
<line x1="289.85" y1="450.66" x2="289.85" y2="446.23" stroke="#111" stroke-width="1.2"/>
<line x1="287.15" y1="446.23" x2="292.55" y2="446.23" stroke="#111" stroke-width="1.2"/>
<rect x="295.5" y="393.51" width="11.3" height="61.69" fill="#a8002c" stroke="#7c001e" stroke-width="0.6"/>
<line x1="301.15" y1="393.21" x2="301.15" y2="392.4" stroke="#111" stroke-width="1.2"/>
<line x1="298.45" y1="392.4" x2="303.85" y2="392.4" stroke="#111" stroke-width="1.2"/>
<rect x="318" y="453.99" width="10.5" height="1.21" fill="#5db23b" stroke="#4c9a30" stroke-width="0.6"/>
<line x1="323.25" y1="453.69" x2="323.25" y2="451.87" stroke="#111" stroke-width="1.2"/>
<line x1="320.55" y1="451.87" x2="325.95" y2="451.87" stroke="#111" stroke-width="1.2"/>
<rect x="329.1" y="391.29" width="11.3" height="63.91" fill="#a8002c" stroke="#7c001e" stroke-width="0.6"/>
<line x1="334.75" y1="390.99" x2="334.75" y2="390.39" stroke="#111" stroke-width="1.2"/>
<line x1="332.05" y1="390.39" x2="337.45" y2="390.39" stroke="#111" stroke-width="1.2"/>
<line x1="279" y1="351.3" x2="279" y2="455.9" stroke="#111" stroke-width="1.5"/>
<line x1="278.3" y1="455.2" x2="345" y2="455.2" stroke="#111" stroke-width="1.5"/>
<line x1="276" y1="455.2" x2="279" y2="455.2" stroke="#111" stroke-width="1.1"/>
<text transform="translate(272.1 458) scale(1 1.08)" font-size="7.9" text-anchor="end" fill="#2a2a2a" stroke="#2a2a2a" stroke-width="0.05">0</text>
<line x1="276" y1="435.04" x2="279" y2="435.04" stroke="#111" stroke-width="1.1"/>
<text transform="translate(272.1 437.84) scale(1 1.08)" font-size="7.9" text-anchor="end" fill="#2a2a2a" stroke="#2a2a2a" stroke-width="0.05">20</text>
<line x1="276" y1="414.88" x2="279" y2="414.88" stroke="#111" stroke-width="1.1"/>
<text transform="translate(272.1 417.68) scale(1 1.08)" font-size="7.9" text-anchor="end" fill="#2a2a2a" stroke="#2a2a2a" stroke-width="0.05">40</text>
<line x1="276" y1="394.72" x2="279" y2="394.72" stroke="#111" stroke-width="1.1"/>
<text transform="translate(272.1 397.52) scale(1 1.08)" font-size="7.9" text-anchor="end" fill="#2a2a2a" stroke="#2a2a2a" stroke-width="0.05">60</text>
<line x1="276" y1="374.56" x2="279" y2="374.56" stroke="#111" stroke-width="1.1"/>
<text transform="translate(272.1 377.36) scale(1 1.08)" font-size="7.9" text-anchor="end" fill="#2a2a2a" stroke="#2a2a2a" stroke-width="0.05">80</text>
<line x1="276" y1="354.4" x2="279" y2="354.4" stroke="#111" stroke-width="1.1"/>
<text transform="translate(272.1 357.2) scale(1 1.08)" font-size="7.9" text-anchor="end" fill="#2a2a2a" stroke="#2a2a2a" stroke-width="0.05">100</text>
<text transform="translate(295.7 465.6) scale(1 1.08)" font-size="7.9" text-anchor="middle" fill="#222" stroke="#222" stroke-width="0.05">Mock</text>
<text transform="translate(329.1 465.6) scale(1 1.08)" font-size="7.9" text-anchor="middle" fill="#222" stroke="#222" stroke-width="0.05">PEBL</text>
<path d="M289.3 388.4V386.6H301.6V388.4" fill="none" stroke="#111" stroke-width="1.2"/>
<circle cx="289.97" cy="383.3" r="1.25" fill="#111"/>
<circle cx="293.62" cy="383.3" r="1.25" fill="#111"/>
<circle cx="297.27" cy="383.3" r="1.25" fill="#111"/>
<circle cx="300.93" cy="383.3" r="1.25" fill="#111"/>
<path d="M323.4 386.7V384.9H335.7V386.7" fill="none" stroke="#111" stroke-width="1.2"/>
<circle cx="324.07" cy="381.6" r="1.25" fill="#111"/>
<circle cx="327.73" cy="381.6" r="1.25" fill="#111"/>
<circle cx="331.38" cy="381.6" r="1.25" fill="#111"/>
<circle cx="335.03" cy="381.6" r="1.25" fill="#111"/>
<text transform="translate(252.3 403.2) rotate(-90)" x="0" y="0" font-size="8.4" text-anchor="middle" textLength="23.7" lengthAdjust="spacingAndGlyphs" fill="#222" stroke="#222" stroke-width="0.22">% IFN&#947;</text>
<rect x="349.8" y="355.8" width="5.4" height="4.8" fill="#5db23b" stroke="#4c9a30" stroke-width="0.6"/>
<rect x="349.8" y="366.1" width="5.4" height="4.8" fill="#a8002c" stroke="#7c001e" stroke-width="0.6"/>
<text x="358.5" y="361" font-size="7.7" fill="#333" stroke="#333" stroke-width="0.05">no mRNA</text>
<text x="358.5" y="371.2" font-size="7.7" fill="#333" stroke="#333" stroke-width="0.05">anti-CD19 CAR</text>
</svg>
</body></html>
